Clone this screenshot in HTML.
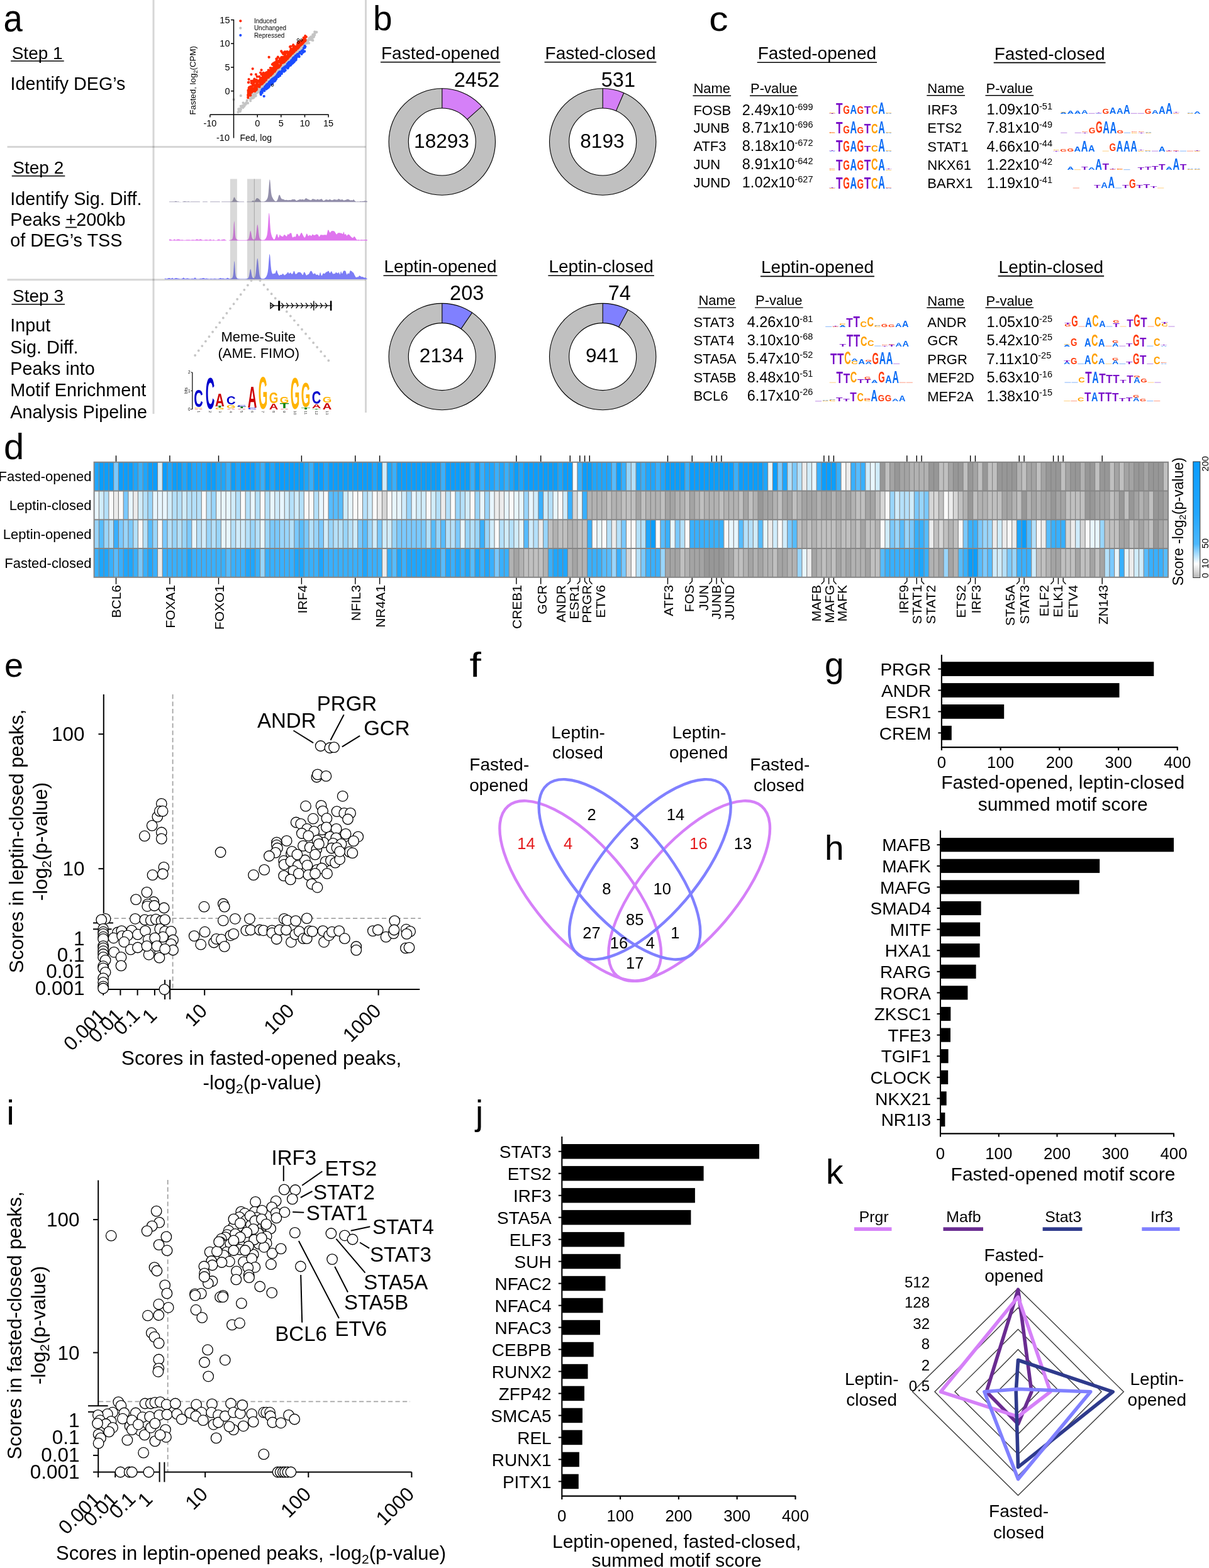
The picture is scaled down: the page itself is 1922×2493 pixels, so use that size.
<!DOCTYPE html>
<html><head><meta charset="utf-8"><title>Figure</title>
<style>
html,body{margin:0;padding:0;background:#fff;}
svg{display:block;}
text{font-family:"Liberation Sans",Arial,Helvetica,sans-serif;}
</style></head><body>
<svg width="1922" height="2493" viewBox="0 0 1922 2493">
<rect width="1922" height="2493" fill="#fff"/>
<text transform="translate(5.5 50) scale(0.88 1)" font-size="62">a</text>
<line x1="244" y1="0" x2="244" y2="658" stroke="#000" stroke-width="3" stroke-opacity="0.16"/>
<line x1="581.5" y1="0" x2="581.5" y2="656" stroke="#000" stroke-width="3" stroke-opacity="0.16"/>
<line x1="11.5" y1="233.5" x2="581.5" y2="233.5" stroke="#000" stroke-width="3" stroke-opacity="0.16"/>
<line x1="11.5" y1="444.8" x2="581.5" y2="444.8" stroke="#000" stroke-width="3" stroke-opacity="0.16"/>
<text x="18.7" y="93.5" font-size="28">Step 1</text>
<line x1="17.2" y1="96.9" x2="101.7" y2="96.9" stroke="#000" stroke-width="1.5"/>
<text x="16.6" y="142.5" font-size="28.7">Identify DEG’s</text>
<text x="20.3" y="276.3" font-size="28">Step 2</text>
<line x1="18.8" y1="279.7" x2="103.3" y2="279.7" stroke="#000" stroke-width="1.5"/>
<text x="16.3" y="325.5" font-size="28.8">Identify Sig. Diff.</text>
<text x="16.3" y="359" font-size="28.8">Peaks +200kb</text>
<line x1="104" y1="361.5" x2="122" y2="361.5" stroke="#000" stroke-width="1.7"/>
<text x="16.3" y="392.3" font-size="28.8">of DEG’s TSS</text>
<text x="20" y="480.3" font-size="28">Step 3</text>
<line x1="18.5" y1="483.7" x2="103" y2="483.7" stroke="#000" stroke-width="1.5"/>
<text x="16.3" y="527.3" font-size="28.8">Input</text>
<text x="16.3" y="561.6" font-size="28.8">Sig. Diff.</text>
<text x="16.3" y="595.9" font-size="28.8">Peaks into</text>
<text x="16.3" y="630.2" font-size="28.8">Motif Enrichment</text>
<text x="16.3" y="664.5" font-size="28.8">Analysis Pipeline</text>
<path d="M385.4 168.2h0M379.3 173.4h0M390.5 165.9h0M389.8 165.3h0M378.5 178.3h0M379.8 175.7h0M387.8 167.4h0M383 174.1h0M392.7 159.8h0M387.1 169.8h0M401.1 149.7h0M384.6 169.8h0M381 173.1h0M397.2 157h0M381.9 177.2h0M386.5 171.1h0M390.8 164.2h0M382.5 172.9h0M394 163.9h0M391.7 163.1h0M388.5 168.8h0M470.5 80.7h0M423.3 135.4h0M488.8 68.3h0M473.7 83.7h0M410.2 138.4h0M441.4 114.3h0M448.7 108.5h0M402 156h0M457.5 102.2h0M488.9 68.4h0M459.7 92.3h0M458.2 102.4h0M496.1 58.2h0M447.2 109h0M470.8 85.7h0M465.2 85.7h0M427.5 128.5h0M438 118h0M445.9 110.3h0M415.4 139.7h0M477.7 77.3h0M411.3 144.4h0M488.5 64.6h0M406.3 152.7h0M489.7 64.9h0M483 71.2h0M441.1 116.3h0M435.2 115.6h0M413.6 146.6h0M416.2 139.3h0M448.3 105.5h0M459.1 96.6h0M441.4 114.1h0M436.3 125.4h0M469.7 88.7h0M451.5 107.2h0M403.5 154.9h0M491.4 63.3h0M480.8 80.2h0M438.7 118.1h0M463.8 91.2h0M404.4 149.8h0M414.8 140.3h0M433.2 122.5h0M413.6 142.1h0M408.4 147.7h0M488.8 66.5h0M461.7 92.8h0M434 120.1h0M435.7 116.3h0M501.1 51h0M446.3 110.5h0M408.5 147.1h0M433.5 122.7h0M414.7 136.2h0M400.3 152.4h0M413.1 143.6h0M454.3 98.2h0M499.6 55.5h0M487.6 68.7h0M436 121.7h0M415.3 140.1h0M478.9 80.1h0M432.2 122.8h0M500.3 50.7h0M486.5 67.5h0M474.8 85.5h0M421.5 136.8h0M400.9 155.2h0M400.8 155.4h0M469.9 83.8h0M497.3 64.2h0M500.6 53.1h0M497.1 59.8h0M421.5 132.9h0M418.3 136.4h0M491.5 60.7h0M485.2 74.3h0M481 74.2h0M406.7 152.2h0M479.2 81.4h0M475.9 81.5h0M479.9 75.6h0M432.5 121.1h0M439 123.4h0M439.6 112.1h0M415.6 141.6h0M411.1 141.3h0M481.7 69.3h0M413.1 139.3h0M466.2 96.1h0M434.3 122.8h0M399.4 156.8h0M498.8 58.8h0M494.9 63.4h0M443 109.3h0M419.8 139.5h0M424.1 132.2h0M458.8 95h0M424.9 132.1h0M492.5 62.5h0M434.7 124.5h0M491.9 62.9h0M441.6 111.4h0M453.2 104.1h0M452.3 100.6h0M416.9 138.5h0M398.3 157h0M447.1 110.2h0M473.3 84.6h0M451.8 104.8h0M455.6 99.8h0M456.1 100.8h0M423.7 132.8h0M450.7 100.6h0M456.3 99.1h0M444 117.6h0M461.6 97.3h0M469.9 85.9h0M444.9 113.8h0M495.7 60.6h0M470.6 80.6h0M424.9 135.3h0M456 94.9h0M412.2 145.4h0M410.5 146.2h0M422.9 132.5h0M405.5 152.5h0M491.1 68.6h0M414 142.6h0M412.8 146.8h0M489.6 64.2h0M496.9 59.2h0M439.3 124.4h0M484.4 70.6h0M414.7 144h0M433.1 121.3h0M418.2 139.3h0M399.9 152h0M455.5 100.7h0M432.4 123.2h0M462.7 93.9h0M500.3 55.5h0M479.8 74.6h0M425.5 130.5h0M402 153.4h0M411.4 146.5h0M441.8 109.8h0M424.8 133.6h0M413.4 139.4h0M470.7 86.7h0M407.2 144.8h0M442.1 112.2h0M405.4 146.9h0M481.2 75.9h0M406.6 148.6h0M487.6 68.9h0M445.1 112.5h0M494.2 58.6h0M425.7 127.8h0M422.7 130.7h0M409.3 146.1h0M418.9 136.2h0M430.3 126.9h0M428 123.5h0M449.9 104.8h0M399.8 153.8h0M423.9 127.6h0M455.2 100.1h0M417.6 144.3h0M408.9 145.9h0M483 75.5h0M484.6 69.8h0M438.8 121h0M500 55.8h0M433.5 120.2h0M464 95.3h0M440 116.3h0M411.4 143.7h0M405.3 150.7h0M414.9 142.9h0M406.7 146.2h0M467.6 92.6h0M427.2 128.5h0M445.6 107.9h0M414.3 143.4h0M497.8 57.1h0M499 58.6h0M498.3 58h0M430.1 125.8h0M437.6 118.1h0M447.2 110.3h0M450.4 105.4h0M398.4 157.5h0M439.4 115.2h0M402.2 151.3h0M422.1 133.4h0M458.8 101.3h0M466.2 90.3h0M472.3 81.5h0M431.8 125.8h0M500.2 52.9h0M464.7 87.5h0M402.5 150.5h0M463.1 97.4h0M474.2 81h0M452.3 104.7h0M450.3 103h0M483.8 76h0M458.6 94h0M470 88.2h0M421.8 132.6h0M435.4 120.1h0M408.8 145.2h0M463.1 95.5h0M463 94h0M398.2 160.3h0M480.8 74.9h0M453.5 105.3h0M466.4 85.3h0M424.1 129.9h0M405.6 150.6h0M419.2 132.3h0M474.8 77.9h0M437.7 118.6h0M447.7 109.9h0M462 97.8h0M464.7 89.7h0M424.3 130.8h0M475.1 81.7h0M399.2 153.4h0M404.2 152h0M469.8 82h0M468.1 88.4h0M446.2 106.5h0M446.4 105.3h0M418.6 133.4h0M499.5 55.7h0M445.6 110.3h0M503.3 51.2h0M497.3 55h0M382.8 152.2h0M371.6 158.3h0M386.6 163.5h0M382.8 168.8h0" stroke="#c4c4c4" stroke-width="4.2" stroke-linecap="round" fill="none"/>
<path d="M462.6 103h0M440.9 119.5h0M426.8 138.7h0M426.8 135.9h0M422.8 139.6h0M470.4 88.9h0M462.6 99.5h0M466.6 97.1h0M428.1 137.1h0M443 115.5h0M414.7 147.4h0M440.9 119.7h0M422.7 138.3h0M433 131.7h0M414.6 149.5h0M463.8 95.5h0M468.9 94.8h0M467.4 93.1h0M436.3 125h0M473.1 89.6h0M435.7 126h0M430.6 128.1h0M420.4 144.3h0M431.2 134.2h0M429.1 131.3h0M444.5 115.3h0M436.4 129.2h0M466.4 98.1h0M451.5 113.7h0M469.7 92.8h0M456.7 102h0M457.5 104.3h0M458.7 104.5h0M431.3 127.5h0M468.9 90.4h0M442.2 118.8h0M432 132h0M471.8 88.5h0M453 107.6h0M447.2 114.1h0M424.3 135.3h0M426.7 138.6h0M443.7 116.4h0M467.7 98.2h0M440.9 118.5h0M425.8 133.3h0M434.6 124.5h0M428.5 131.8h0M447.9 117.1h0M458.5 103h0M438.8 123.6h0M436.6 124.3h0M418.1 142.4h0M471.3 88h0M444 119.1h0M465.2 94.8h0M430.4 129.9h0M438 123.8h0M470.5 94.2h0M465.7 92.8h0M416.4 147.4h0M467.1 94.8h0M449 109.4h0M437.5 127.9h0M463 101.8h0M471.6 88.6h0M420.9 138.7h0M445.2 118.4h0M469.8 94h0M452.5 111.6h0M441.3 121.2h0M416.8 147.5h0M428.1 137.2h0M452.4 108.3h0M422 138.3h0M451.8 111.8h0M421.1 137.9h0M445.3 117.5h0M437.3 122.8h0M449.8 108.7h0M432.2 129.7h0M470.8 92.4h0M466.4 95.6h0M428.3 132h0M470.9 92.8h0M432.5 126h0M443.7 119.7h0M439.1 121.2h0M453.7 111.7h0M427.8 130.9h0M434.3 127.2h0M454.6 105.3h0M461.3 102.6h0M444.1 115.8h0M471.4 89.3h0M462.6 97.5h0M427.5 136.7h0M431.8 133.8h0M443.6 116.2h0M427.6 134h0M453.5 112h0M423.1 138.3h0M427 138.8h0M422.8 136h0M418 143.4h0M467.2 97.8h0M457.5 108.4h0M469.2 91.6h0M425.4 140.1h0M458.3 100.3h0M453.5 107.7h0M436.4 124.5h0M424.4 134h0M430.9 130.1h0M470.6 88.7h0M471.1 88.8h0M435.4 129.2h0M462.8 98.9h0M417.4 144.6h0M436.4 129h0M425.8 135.3h0M467.2 91.4h0M438.6 125.9h0M459.5 99.2h0M416.5 142.4h0M468.5 91.8h0M458.4 106.8h0M434.4 126.1h0M470.7 92.3h0M429.9 133.9h0M433.1 127.4h0M414.7 149.4h0M468.3 94.8h0M469.9 88.7h0M428.2 133.8h0M470.7 94.9h0M437.2 123.1h0M439.7 122.4h0M469 90.7h0M461.6 102.3h0M462.8 101.4h0M450.1 110.7h0M433.2 127.9h0M460.4 98.5h0M426.1 138h0M429 129.9h0M416.5 146.1h0M433.6 132.2h0M466.4 99.4h0M430 129h0M420.1 142h0M456.2 105.6h0M428.2 133.3h0M450.9 112.5h0M458.4 106.3h0M453.5 105.8h0M463.9 96.7h0M447.8 113.4h0M457.8 102h0M429 131.2h0M423.5 141.6h0M448.4 112.4h0M437.7 128.1h0M444.3 115.9h0M462 101.3h0M472.7 86.4h0M442.4 122.2h0M463.8 101.4h0M416.8 143.8h0M421.5 138.4h0M471.6 91.1h0M469.1 92h0M465.3 96.4h0M429.7 134.5h0M470 89.1h0M449.5 113.6h0M427.3 133.9h0M422.8 137.2h0M429.4 133.5h0M452.7 107.2h0M415.1 145.7h0M454.3 105.4h0M432.8 127.1h0M461.2 101.3h0M418.2 141h0M437.7 124.8h0M452 107h0M424.1 139.6h0M438.5 122h0M432.5 133h0M432.8 129.8h0M435.4 126.1h0M465.2 100.6h0M435.8 124h0M457.2 102.7h0M414.8 150.4h0M439.4 125.2h0M438.3 126.7h0M441.5 118.1h0M415.3 147.2h0M452.1 113.1h0M419.7 143.4h0M436.3 125.9h0M423 137.5h0M445.1 120.3h0M420.9 141.2h0M461.7 103.9h0M426.1 133.3h0M469.9 95.8h0M442.8 116h0M468.9 92.4h0M467.6 95.4h0M462.9 96.7h0M460.6 99.4h0M438.2 126.5h0M463.2 96.6h0M427.3 134.1h0M444.9 116.4h0M421.7 138.6h0M457 108.1h0M416.9 145.8h0M459 99.7h0M463.7 95.5h0M449.7 112.8h0M451.3 109.4h0M439.1 123.6h0M439.5 123.9h0M440.7 121h0M415.8 147.2h0M443.2 116.9h0M459.3 104.9h0M441.4 118.3h0M442.3 116.9h0M422 139.6h0M419.9 141.9h0M444.4 114.2h0M451.9 107.1h0M457.6 106.7h0M444.5 114.3h0M444.1 117.2h0M485.4 74h0M484.2 81.7h0M482.6 81.9h0M475.7 90.1h0M479.5 86h0M484.9 74.6h0M483.3 82h0M474 86.9h0M482.9 76.6h0M484.7 75.7h0M483.6 75.8h0M479.6 85.6h0M475.9 84.4h0M479.7 81.1h0M473.7 86h0M475.3 90.1h0M481.9 83.2h0M475.4 88.9h0M474.7 87.7h0M481.4 79.7h0M419.7 153h0M484.5 73.1h0M477 82.9h0" stroke="#1a4cff" stroke-width="4.2" stroke-linecap="round" fill="none"/>
<path d="M474.3 70.3h0M475.2 73.1h0M403.7 131.6h0M430.4 119.6h0M467.4 81.5h0M447.2 81.3h0M427.2 122.3h0M410.4 128.6h0M462.5 77.7h0M417.4 127.5h0M452.9 88.7h0M455.1 94.5h0M422.9 125.1h0M407.9 142.6h0M450.7 92.2h0M476.4 71.8h0M406.3 142h0M396.2 138.8h0M394.4 153h0M427 120.1h0M414.7 123.9h0M412.9 130.6h0M451.5 95.4h0M480.2 69.9h0M416.5 131.3h0M452.8 95.3h0M474.2 75.3h0M418.4 122.2h0M395.2 146.8h0M426.3 114.8h0M453.4 82.3h0M461.5 84.1h0M417 131h0M443 106.2h0M431.4 118.8h0M465.7 82.8h0M395.3 130.9h0M407.2 135.2h0M412.5 128.3h0M453.1 92.4h0M468.9 79.5h0M421.7 121.4h0M398.6 137.5h0M459.9 83.8h0M394.7 145.8h0M436.9 102.4h0M462.3 84.2h0M403.8 144.4h0M415.5 126.1h0M463 86.2h0M458 86.9h0M418.6 119h0M445 93.4h0M442.2 103h0M418.5 115.9h0M414.1 115.6h0M475 71.9h0M415.8 133.9h0M462.5 78.9h0M424.2 121h0M475 73.8h0M477.5 70h0M452.1 94.9h0M484.1 61.1h0M437.3 106.5h0M472.9 71.2h0M434.3 114.4h0M422.4 115.8h0M413.6 133.9h0M477.8 71.4h0M407.4 138h0M479.5 70.6h0M425.8 123.3h0M398 150.5h0M457.8 86.3h0M461.8 81.9h0M400.2 141.7h0M469.2 78.5h0M469.4 79.5h0M473.9 75.5h0M478.1 70.3h0M413 135.8h0M404.4 125.7h0M468.7 79.5h0M452.4 93.7h0M420.5 117.7h0M403.3 132.4h0M413 127.4h0M423.5 125.3h0M417.7 131.8h0M420.1 128.4h0M423.6 118h0M482.7 60.1h0M450.9 99.2h0M397 143.7h0M465.2 82.2h0M426 121.3h0M414 124.1h0M473.4 69.6h0M409.8 130h0M394.3 150.8h0M484 60.3h0M394.5 143.5h0M467.3 82.7h0M411.1 129.6h0M470.6 79.7h0M418.1 124.8h0M413.9 133.7h0M458.4 89.1h0M452.6 97.8h0M401.6 145h0M466.4 75.9h0M451.8 94.4h0M430.4 113.1h0M475.9 66.3h0M396.5 142.4h0M413.1 135.6h0M440.2 93.4h0M429 116.6h0M436.5 110h0M443 107.1h0M453.5 85.8h0M426.2 121.9h0M471.6 76.3h0M455 95.3h0M434.5 110.9h0M465.2 82.7h0M436.6 111.9h0M475.5 74.7h0M421.8 122.4h0M458.7 89.7h0M408.5 136.8h0M416.9 128h0M408.9 130h0M424.3 116.7h0M461.1 74.4h0M403.5 142.2h0M429.4 120.1h0M484.5 64.2h0M434.1 103.2h0M412.2 135.1h0M413.1 133.6h0M429.8 111.9h0M466.8 82.5h0M457.8 83.8h0M436.7 113.7h0M407.2 134.6h0M462.2 84.6h0M477.6 67.7h0M463 84.3h0M432.8 115.8h0M475 68.1h0M465.2 81.8h0M456.6 82.1h0M453.1 91.8h0M451.9 96.9h0M403.1 130.9h0M459.7 85.7h0M452 98.5h0M436 105.8h0M451.2 90.6h0M479.6 67.4h0M411 129.1h0M429.8 108h0M439.1 109.1h0M444.1 106.1h0M408.9 136.5h0M441.8 90.6h0M403.4 135.1h0M460 87h0M441.2 99.9h0M442.1 97.3h0M431.8 113h0M457 92h0M430.2 119.9h0M484.6 63.9h0M426.8 116.8h0M430.9 117.2h0M395.4 145.3h0M458.3 89h0M426.5 123.4h0M462.3 84.1h0M480.5 67.1h0M467.8 82h0M430.1 119.2h0M465.5 82.1h0M468.5 78h0M445.8 98.5h0M414.9 126.3h0M452.8 96.2h0M469.4 78.7h0M421.2 119.4h0M444.5 95.9h0M426.7 111.5h0M472.3 77.6h0M417.4 123.4h0M433.3 116.9h0M460.4 89.6h0M420 130.3h0M438.2 105.4h0M433.5 108.9h0M427.4 112.9h0M479.5 70.1h0M470.2 78.9h0M477.4 72.5h0M470.5 77.2h0M452.3 97.1h0M481.6 68.8h0M454.4 96h0M407.3 138.3h0M415.6 133.3h0M408.2 132.5h0M477.2 72.5h0M476 71.8h0M450 98.4h0M476.3 67.6h0M466.5 82h0M457.8 89.2h0M442.9 107.1h0M475.2 70.3h0M445.1 104.8h0M406.9 135.7h0M439.4 102.7h0M407.4 138.8h0M439.3 101.3h0M473.4 76.9h0M394.7 149.2h0M445.8 97.7h0M455.3 91.8h0M432.6 110.8h0M482.4 63h0M452.6 93.5h0M396.8 141.2h0M479.7 66.7h0M424.5 114.9h0M438.7 110.7h0M476.6 66.9h0M451.6 96.6h0M425.2 119.5h0M437.7 106.8h0M442.4 107.4h0M434.1 110.6h0M432.9 102.4h0M421 123.4h0M470.2 75.3h0M419.1 124.8h0M440.7 98.5h0M466.9 82.3h0M424.5 122.7h0M448 96.9h0M452.5 97.6h0M460.5 88.2h0M475.5 73.5h0M421.7 127.9h0M394.7 146.9h0M450.1 85.8h0M454.6 92.4h0M450.3 85.4h0M450.8 92.2h0M448.9 93.7h0M456.7 91.6h0M436.2 102.4h0M464.2 83.4h0M397.5 148.9h0M465.3 78.2h0M428 115.7h0M469.7 79.2h0M417.8 120.2h0M421.9 121.2h0M433.7 113.3h0M453.1 95.3h0M446.3 103.2h0M397.8 138.3h0M447 94.5h0M478.5 71.2h0M429.7 120.3h0M448.5 83.5h0M437.8 104h0M432 108.5h0M413.6 127.9h0M408.1 141.4h0M457 93.4h0M405.3 140.7h0M474 76h0M406 127.4h0M416.4 132.3h0M461.5 88.2h0M465.2 83.5h0M459.7 84.7h0M401.9 134.9h0M451.9 96.7h0M479.8 66.1h0M417.5 117.5h0M395.2 151.5h0M395.5 143.4h0M401.5 132.9h0M422.7 127h0M473.2 74.3h0M438.8 104.5h0M447 101h0M434.4 113.9h0M467.4 80.4h0M427.5 115.1h0M432.5 108.4h0M429.6 116.1h0M466.2 71.4h0M446.2 103.6h0M483.6 65.5h0M458.7 89.1h0M449.8 95.1h0M483.9 64h0M422.5 116.7h0M433.5 110.7h0M457.1 89.4h0M449.4 90.9h0M420.2 119.6h0M394.3 155.3h0M448 95h0M469.1 80.2h0M470.7 78.8h0M468.7 77.2h0M419.3 121.7h0M472.3 75.5h0M478.1 66.2h0M426 114.4h0M467.4 79.6h0M412.6 137.9h0M415.6 111.3h0M449.9 97.1h0M413.1 126.9h0M417.5 132.8h0M436.4 99.5h0M402.2 141.9h0M415.5 118.5h0M447.4 91.1h0M442.1 98.7h0M437.9 108.1h0M411.8 135.1h0M410.7 136.7h0M446 97.8h0M431.1 114.4h0M398.2 151.6h0M485.7 63.5h0M452.3 95.9h0M466.5 79.9h0M425.8 114.3h0M441.9 106.6h0M485.1 65.2h0M473.7 70.6h0M418.2 131.2h0M465.7 72.8h0M464.6 79.7h0M469.4 77.2h0M397.6 151h0M412.6 136.1h0M398.8 147.6h0M445.3 99.5h0M481.2 66h0M477.7 67.3h0M430.6 115.2h0M405.2 137.3h0M446 103h0M453 87.9h0M430.3 116.7h0M435.3 103.5h0M485.2 57.1h0M414.5 128.3h0M426.5 122.3h0M477.1 66.4h0M398.5 140.5h0M466.4 82.1h0M484.7 60.6h0M399.3 140.2h0M480.4 64.5h0M456.3 91.5h0M463.8 79.4h0M403.8 143h0M405.5 137.5h0M438.4 109.2h0M407.3 136.3h0M456.4 84h0M412.1 137.1h0M397.4 146.2h0M479.9 69.2h0M473.8 74.7h0M435.2 112.3h0M403 128.8h0M451.9 92.9h0M435.7 106.5h0M438 99.7h0M451.8 95.6h0M399.4 145.2h0M459.7 87.5h0M474.1 75.4h0M418.6 127h0M419 128.4h0M471.3 77.6h0M439.2 107.1h0M423.4 123.3h0M484 65.3h0M399.4 138.5h0M413.5 127.5h0M438 111.1h0M412.7 130h0M427.6 90.9h0M479.1 70.4h0M403.1 141.8h0M399.4 128.8h0M460.9 85.1h0M395.6 126.1h0M468.3 80.6h0M394.3 151.2h0M470.6 76.6h0M434.1 115.4h0M477.9 71.4h0M406.8 129.9h0M410.7 137.7h0M412.2 121.9h0M401.4 136.5h0M439.7 105.1h0M419.3 127.5h0M459.2 83.2h0M468.7 78.7h0M400.2 146.7h0M461.5 81.1h0M399.2 141.9h0M468.6 76.7h0M473.6 69h0M439.4 93.7h0M437.9 110.8h0M474.2 75.9h0M470.5 76.7h0M427.9 118.1h0M448.8 95.8h0M394.6 144.3h0M441.5 107.9h0M405.2 140.9h0M473.6 68.2h0M423.6 124.6h0M463.2 81.8h0M399.8 132.1h0M439.6 96.8h0M441.3 99.7h0M396 151.9h0M483 67h0M403.6 140.2h0M417.1 132.3h0M403 145.1h0M458.4 91.7h0M449.2 100h0M447.1 92.2h0M403.6 144.5h0M474 76.1h0M405.4 141.9h0M439.5 104.5h0M405.4 145.1h0M431.4 111.5h0M473.2 72.3h0M407.7 126.8h0M409.2 133.4h0M470 75.7h0M432.8 114.5h0M471.3 74.2h0M480.6 69.1h0M465.5 82.8h0M424.9 119.7h0M434.2 101.2h0M478 71.5h0M469 80.4h0M441.7 106.7h0M482.1 65.5h0M432.9 115h0M452.3 92.7h0M400.5 140h0M433.9 114.8h0M406.9 143.5h0M483.2 65.7h0M452.3 82.5h0M468.5 73.8h0M397.3 138.3h0M453.1 96.4h0M419.3 116.5h0M444 97.2h0M417.2 126.9h0M441.9 91.2h0M420.6 120.3h0M422.2 125.4h0M448.7 98.9h0M482 65.3h0M437 112.9h0M443.2 105h0M406.2 139.8h0M421.1 122.7h0M416.5 129.4h0M402.2 128.5h0M450.2 96.5h0M446.5 101.1h0M459.4 87.7h0M436.5 103.2h0M437.2 109.9h0M422.7 127.5h0M441.2 103.7h0M429.3 120h0M426.5 123.2h0M473.3 76.7h0M439.3 101h0M420.3 122.1h0M465.1 85h0M408.7 121.9h0M434.6 109h0M399.8 141.8h0M461.7 84.6h0M404.2 142.1h0M462 73.8h0M408.3 136.9h0M456.2 89.2h0M450.8 92.2h0M441.7 97.1h0M462 88h0M437.8 99h0M401.7 109.3h0M399.4 118.3h0M406.9 118.3h0M394.9 131.1h0M395.6 140.2h0M486.8 58.7h0" stroke="#ff2a00" stroke-width="4.2" stroke-linecap="round" fill="none"/>
<circle cx="474" cy="63.2" r="1.8" fill="none" stroke="#000" stroke-width="0.9"/>
<circle cx="479.2" cy="63.6" r="1.8" fill="none" stroke="#000" stroke-width="0.9"/>
<circle cx="474.3" cy="67.2" r="1.8" fill="none" stroke="#000" stroke-width="0.9"/>
<circle cx="433" cy="135.5" r="1.8" fill="none" stroke="#000" stroke-width="0.9"/>
<line x1="371.5" y1="31" x2="371.5" y2="219.5" stroke="#000" stroke-width="1.5"/>
<line x1="334" y1="182.2" x2="522.5" y2="182.2" stroke="#000" stroke-width="1.5"/>
<line x1="367" y1="31.6" x2="371.5" y2="31.6" stroke="#000" stroke-width="1.5"/>
<text x="365.5" y="36.6" font-size="14.5" text-anchor="end">15</text>
<line x1="367" y1="69.3" x2="371.5" y2="69.3" stroke="#000" stroke-width="1.5"/>
<text x="365.5" y="74.3" font-size="14.5" text-anchor="end">10</text>
<line x1="367" y1="107" x2="371.5" y2="107" stroke="#000" stroke-width="1.5"/>
<text x="365.5" y="112" font-size="14.5" text-anchor="end">5</text>
<line x1="367" y1="144.7" x2="371.5" y2="144.7" stroke="#000" stroke-width="1.5"/>
<text x="365.5" y="149.7" font-size="14.5" text-anchor="end">0</text>
<line x1="333.9" y1="182.2" x2="333.9" y2="186.5" stroke="#000" stroke-width="1.5"/>
<text x="333.9" y="201.3" font-size="14.5" text-anchor="middle">-10</text>
<line x1="409.2" y1="182.2" x2="409.2" y2="186.5" stroke="#000" stroke-width="1.5"/>
<text x="409.2" y="201.3" font-size="14.5" text-anchor="middle">0</text>
<line x1="446.8" y1="182.2" x2="446.8" y2="186.5" stroke="#000" stroke-width="1.5"/>
<text x="446.8" y="201.3" font-size="14.5" text-anchor="middle">5</text>
<line x1="484.5" y1="182.2" x2="484.5" y2="186.5" stroke="#000" stroke-width="1.5"/>
<text x="484.5" y="201.3" font-size="14.5" text-anchor="middle">10</text>
<line x1="522.1" y1="182.2" x2="522.1" y2="186.5" stroke="#000" stroke-width="1.5"/>
<text x="522.1" y="201.3" font-size="14.5" text-anchor="middle">15</text>
<text x="365" y="223.5" font-size="14.5" text-anchor="end">-10</text>
<text x="381.4" y="223.8" font-size="14">Fed, log</text>
<text transform="translate(311.3 182.5) rotate(-90)" font-size="13.3">Fasted, log<tspan font-size="9.5" dy="3">2</tspan><tspan dy="-3">(CPM)</tspan></text>
<circle cx="382.3" cy="33.3" r="2.1" fill="#ff2a00" stroke="none" stroke-width="0"/>
<text x="403.9" y="36.9" font-size="10">Induced</text>
<circle cx="382.3" cy="44.7" r="2.1" fill="#c4c4c4" stroke="none" stroke-width="0"/>
<text x="403.9" y="48.3" font-size="10">Unchanged</text>
<circle cx="382.3" cy="56.1" r="2.1" fill="#1a4cff" stroke="none" stroke-width="0"/>
<text x="403.9" y="59.7" font-size="10">Repressed</text>
<path d="M269 321.2L269 320.6L269.6 320.6L270.2 320.6L270.8 320.6L271.4 320.6L272 320.6L272.6 320.6L273.2 320.6L273.8 320.6L274.4 320.6L275 320.6L275.6 320.6L276.2 320.6L276.8 320.5L277.4 320.4L278 320.2L278.6 320L279.2 319.8L279.8 319.8L280.4 320L281 320.2L281.6 320.4L282.2 320.5L282.8 320.6L283.4 320.6L284 320.6L284.6 320.6L285.2 321.1L285.8 321L286.4 320.9L287 320.9L287.6 321L288.2 321.1L288.8 321.2L289.4 321.2L290 321.1L290.6 320.5L291.2 320.4L291.8 320.3L292.4 320.2L293 320.1L293.6 320.1L294.2 320.1L294.8 320.2L295.4 320.3L296 320.4L296.6 320.4L297.2 320.5L297.8 320.4L298.4 320.4L299 320.2L299.6 320L300.2 320.5L300.8 320.5L301.4 320.6L302 320.7L302.6 320.9L303.2 320.4L303.8 320.5L304.4 320.6L305 320.6L305.6 320.6L306.2 320.6L306.8 320.6L307.4 320.6L308 320.6L308.6 320.6L309.2 320.6L309.8 320.6L310.4 320.6L311 320.6L311.6 320.6L312.2 320.6L312.8 320.6L313.4 320.6L314 320.6L314.6 320.6L315.2 320.6L315.8 320.6L316.4 320.6L317 320.6L317.6 320.6L318.2 321.2L318.8 321.2L319.4 321.2L320 321.2L320.6 321.2L321.2 321.2L321.8 321.2L322.4 320.6L323 320.6L323.6 320.6L324.2 320.6L324.8 320.6L325.4 320.6L326 320.6L326.6 320.6L327.2 320.6L327.8 320.6L328.4 320.6L329 320.6L329.6 320.6L330.2 321.2L330.8 321.2L331.4 321.2L332 321.2L332.6 321.2L333.2 321.2L333.8 321.2L334.4 320.6L335 320.6L335.6 320.6L336.2 320.6L336.8 320.6L337.4 320.6L338 320.6L338.6 320.6L339.2 320.6L339.8 320.6L340.4 320.6L341 320.6L341.6 320.6L342.2 320.6L342.8 320.6L343.4 320.6L344 320.6L344.6 320.6L345.2 320.6L345.8 320.6L346.4 320.6L347 320.6L347.6 320.6L348.2 320.6L348.8 320.6L349.4 320.6L350 321.2L350.6 321.2L351.2 321.2L351.8 321.2L352.4 320.6L353 320.6L353.6 320.6L354.2 320.6L354.8 320.6L355.4 320.6L356 320.6L356.6 320.6L357.2 320.6L357.8 320.6L358.4 320.6L359 320.6L359.6 320.6L360.2 320.6L360.8 320.6L361.4 320.6L362 320.6L362.6 320.6L363.2 320.6L363.8 320.6L364.4 320.6L365 320.6L365.6 320.6L366.2 320.6L366.8 320.5L367.4 320.5L368 320.3L368.6 320.1L369.2 319.7L369.8 318.9L370.4 317.7L371 316.1L371.6 314.5L372.2 313.5L372.8 313.5L373.4 314.4L374 315.7L374.6 317L375.2 318L375.8 318.7L376.4 319.1L377 319.4L377.6 319.7L378.2 319.9L378.8 320.1L379.4 320.3L380 320.4L380.6 320.5L381.2 320.5L381.8 320.6L382.4 320.6L383 320.6L383.6 320.6L384.2 320.6L384.8 320.6L385.4 320.6L386 320.6L386.6 320.6L387.2 320.6L387.8 320.6L388.4 321.2L389 321.2L389.6 321.2L390.2 321.2L390.8 321.2L391.4 321.2L392 321.2L392.6 320.6L393.2 320.6L393.8 320.6L394.4 320.6L395 320.6L395.6 320.6L396.2 320.6L396.8 320.6L397.4 320.6L398 320.6L398.6 320.6L399.2 320.5L399.8 320.4L400.4 320L401 319.4L401.6 318.9L402.2 318.8L402.8 319.1L403.4 319.5L404 319.7L404.6 319.5L405.2 318.9L405.8 318.2L406.4 317.2L407 316.3L407.6 315.6L408.2 315.1L408.8 315L409.4 315.1L410 315.4L410.6 315.7L411.2 316L411.8 316.5L412.4 317.2L413 318.1L413.6 319L414.2 319.7L414.8 320.2L415.4 320.4L416 320.5L416.6 320.6L417.2 320.6L417.8 320.6L418.4 320.5L419 320.5L419.6 320.4L420.2 320.3L420.8 320.1L421.4 319.8L422 319.4L422.6 319L423.2 318.4L423.8 317.6L424.4 316.7L425 315.5L425.6 313.9L426.2 311.1L426.8 306.1L427.4 298.7L428 290.5L428.6 285.3L429.2 286L429.8 292L430.4 299.6L431 305.9L431.6 309.7L432.2 311.9L432.8 313.4L433.4 314.6L434 315.7L434.6 316.7L435.2 317.6L435.8 318.3L436.4 318.9L437 319.4L437.6 319.7L438.2 319.9L438.8 319.9L439.4 319.8L440 319.4L440.6 318.6L441.2 317.4L441.8 315.7L442.4 313.6L443 311.6L443.6 310.2L444.2 309.7L444.8 310.1L445.4 311.4L446 312.9L446.6 314.4L447.2 315.5L447.8 316.2L448.4 316.5L449 316.6L449.6 316.7L450.2 316.8L450.8 317L451.4 317.3L452 317.6L452.6 318L453.2 318.1L453.8 318.1L454.4 317.9L455 317.8L455.6 317.7L456.2 317.9L456.8 318.1L457.4 318.3L458 318.2L458.6 318.2L459.2 318.1L459.8 318L460.4 318.1L461 318.1L461.6 318.2L462.2 318.1L462.8 318L463.4 317.7L464 317.3L464.6 317L465.2 316.9L465.8 316.9L466.4 317.1L467 317.1L467.6 317L468.2 316.9L468.8 317L469.4 317.6L470 318.2L470.6 318.8L471.2 319.1L471.8 319.1L472.4 318.8L473 318.4L473.6 318L474.2 317.9L474.8 317.8L475.4 317.5L476 317.2L476.6 316.9L477.2 316.7L477.8 316.9L478.4 317.2L479 317.4L479.6 317.3L480.2 317.1L480.8 316.9L481.4 317L482 317.3L482.6 317.6L483.2 317.7L483.8 317.5L484.4 316.9L485 316.2L485.6 315.6L486.2 315.3L486.8 315.3L487.4 315.5L488 315.8L488.6 316.2L489.2 316.5L489.8 316.9L490.4 317.1L491 317.3L491.6 317.5L492.2 317.7L492.8 317.9L493.4 318.1L494 318.3L494.6 318.2L495.2 317.8L495.8 317.2L496.4 316.6L497 316.3L497.6 316.3L498.2 316.4L498.8 316.6L499.4 316.7L500 316.9L500.6 317.1L501.2 317.3L501.8 317.6L502.4 317.7L503 317.6L503.6 317.3L504.2 316.9L504.8 316.6L505.4 316.7L506 317L506.6 317.4L507.2 317.6L507.8 317.5L508.4 317.3L509 317L509.6 316.8L510.2 316.5L510.8 316.2L511.4 316.2L512 316.7L512.6 317.6L513.2 318.4L513.8 319L514.4 319.2L515 319.1L515.6 318.8L516.2 318.4L516.8 317.9L517.4 317.5L518 317.3L518.6 317.2L519.2 317.2L519.8 317.3L520.4 317.5L521 317.8L521.6 318L522.2 318L522.8 317.6L523.4 317.2L524 316.9L524.6 317L525.2 317.2L525.8 317.5L526.4 317.9L527 318.1L527.6 318.2L528.2 318.2L528.8 318.1L529.4 317.8L530 317.5L530.6 317.3L531.2 317.1L531.8 317.1L532.4 317.2L533 317.3L533.6 317.4L534.2 317.4L534.8 317.5L535.4 317.7L536 317.8L536.6 317.5L537.2 316.8L537.8 316.3L538.4 316.3L539 316.4L539.6 316.5L540.2 316.9L540.8 317.4L541.4 317.7L542 317.6L542.6 317.5L543.2 317.3L543.8 317.1L544.4 317.2L545 317.5L545.6 318L546.2 318.4L546.8 318.5L547.4 318.4L548 318.2L548.6 318L549.2 317.9L549.8 317.7L550.4 317.5L551 317.2L551.6 317L552.2 316.8L552.8 316.8L553.4 316.8L554 317L554.6 317.2L555.2 317.6L555.8 317.9L556.4 318.2L557 318.4L557.6 318.4L558.2 318.3L558.8 318.2L559.4 318.3L560 318.4L560.6 318.4L561.2 318L561.8 317.3L562.4 317.1L563 318L563.6 318.7L564.2 319.3L564.8 319.9L565.4 320.2L566 320.4L566.6 320.5L567.2 320.6L567.8 320.7L568.4 320.2L569 320.3L569.6 320.4L570.2 320.5L570.8 320.5L571.4 320.4L572 320.3L572.6 320.1L573.2 320L573.8 320.1L574.4 320.3L575 320.2L575.6 320.1L576.2 320L576.8 319.9L577.4 319.9L578 319.8L578.6 319.7L579.2 319.6L579.8 319.4L580.4 319.3L581 319.3L581.6 319.4L582.2 319.6L582.8 319.8L583.4 320.1L584 320.3L584 321.2Z" fill="#938fab"/>
<path d="M269 382.4L269 380.8L269.6 380.6L270.2 380.5L270.8 380.6L271.4 380.8L272 381.1L272.6 381.3L273.2 381.5L273.8 381.7L274.4 381.7L275 381.7L275.6 381.5L276.2 381.1L276.8 380.5L277.4 380.3L278 380.7L278.6 381.2L279.2 381.5L279.8 381.4L280.4 381.2L281 381L281.6 380.7L282.2 380.6L282.8 380.4L283.4 380.4L284 380.4L284.6 380.6L285.2 380.7L285.8 381L286.4 381.3L287 381.4L287.6 381.5L288.2 381.4L288.8 381.2L289.4 381.1L290 381.2L290.6 381.4L291.2 381.6L291.8 381.7L292.4 381.8L293 381.8L293.6 381.8L294.2 381.7L294.8 381.7L295.4 381.6L296 381.4L296.6 381.3L297.2 381.2L297.8 381.2L298.4 381.3L299 381.3L299.6 381.3L300.2 381.2L300.8 381.2L301.4 381.3L302 381.5L302.6 381.7L303.2 381.7L303.8 381.6L304.4 381.5L305 381.3L305.6 381.2L306.2 381.2L306.8 381.1L307.4 381.2L308 381.3L308.6 381.5L309.2 381.6L309.8 381.6L310.4 381.5L311 381.3L311.6 381L312.2 380.6L312.8 380.3L313.4 380.3L314 380.5L314.6 380.9L315.2 381.2L315.8 381.3L316.4 381.2L317 380.9L317.6 380.6L318.2 380.3L318.8 380.3L319.4 380.4L320 380.7L320.6 381.1L321.2 381.4L321.8 381.6L322.4 381.7L323 381.8L323.6 381.8L324.2 381.7L324.8 381.6L325.4 381.5L326 381.2L326.6 381L327.2 380.9L327.8 381L328.4 381L329 381.1L329.6 381.3L330.2 381.5L330.8 381.6L331.4 381.7L332 381.6L332.6 381.3L333.2 381L333.8 380.7L334.4 380.6L335 380.8L335.6 381.2L336.2 381.5L336.8 381.7L337.4 381.7L338 381.6L338.6 381.4L339.2 381.1L339.8 380.8L340.4 381.4L341 381.6L341.6 381.9L342.2 382L342.8 382.1L343.4 382L344 382L344.6 381.9L345.2 381.3L345.8 381.3L346.4 381.2L347 380.8L347.6 380.4L348.2 380.3L348.8 380.8L349.4 381.4L350 381.7L350.6 381.8L351.2 381.8L351.8 381.6L352.4 381.2L353 380.8L353.6 380.7L354.2 380.9L354.8 380.9L355.4 380.6L356 380.3L356.6 380.4L357.2 380.8L357.8 381.3L358.4 381.6L359 381.8L359.6 381.8L360.2 382.4L360.8 382.4L361.4 382.4L362 382.4L362.6 382.4L363.2 382.4L363.8 382.4L364.4 381.8L365 381.8L365.6 381.7L366.2 381.6L366.8 381.5L367.4 381.3L368 381L368.6 380.6L369.2 380.1L369.8 378.9L370.4 375.8L371 368.5L371.6 357.9L372.2 351L372.8 354.5L373.4 364.9L374 373.6L374.6 377.8L375.2 379.4L375.8 380.1L376.4 380.6L377 381L377.6 381.3L378.2 381.5L378.8 381.6L379.4 381.7L380 381.8L380.6 381.8L381.2 381.8L381.8 381.8L382.4 381.8L383 381.8L383.6 381.8L384.2 381.8L384.8 381.8L385.4 381.8L386 381.8L386.6 381.8L387.2 381.8L387.8 381.8L388.4 381.8L389 381.8L389.6 381.8L390.2 381.8L390.8 381.7L391.4 381.7L392 381.6L392.6 381.5L393.2 381.3L393.8 381L394.4 380.6L395 379.9L395.6 378.5L396.2 376.2L396.8 372.7L397.4 369.2L398 367L398.6 367.4L399.2 370.1L399.8 373.6L400.4 376.7L401 378.7L401.6 379.7L402.2 380.3L402.8 380.6L403.4 380.7L404 380.7L404.6 380.5L405.2 380L405.8 379L406.4 377L407 373.5L407.6 368.4L408.2 362.7L408.8 358.2L409.4 356.9L410 359.3L410.6 364.3L411.2 369.9L411.8 374.5L412.4 377.5L413 379.3L413.6 380.2L414.2 380.7L414.8 381.1L415.4 381.3L416 381.5L416.6 381.6L417.2 381.7L417.8 381.7L418.4 381.6L419 381.6L419.6 381.4L420.2 381.2L420.8 380.9L421.4 380.4L422 379.7L422.6 378.8L423.2 377.7L423.8 376.3L424.4 374.2L425 370.9L425.6 365.3L426.2 356.5L426.8 346.4L427.4 339.2L428 338.7L428.6 345.2L429.2 354.7L429.8 362.9L430.4 368.4L431 371.6L431.6 373.7L432.2 375.4L432.8 376.9L433.4 378.1L434 379.1L434.6 379.9L435.2 380.5L435.8 380.8L436.4 380.6L437 379.8L437.6 378.3L438.2 376.4L438.8 374.5L439.4 373.1L440 372.2L440.6 372.1L441.2 373.5L441.8 375.9L442.4 377.6L443 377.9L443.6 376.6L444.2 374.4L444.8 372.8L445.4 373.2L446 374.5L446.6 375.3L447.2 375.3L447.8 375.4L448.4 375.8L449 376.3L449.6 376.3L450.2 375.7L450.8 374.6L451.4 373.5L452 373L452.6 373.3L453.2 373.9L453.8 374.3L454.4 374.8L455 375.6L455.6 376L456.2 375.3L456.8 373.5L457.4 372.2L458 372.3L458.6 373L459.2 373L459.8 372.1L460.4 371.2L461 370.8L461.6 370.8L462.2 370.6L462.8 370.3L463.4 371.3L464 373.9L464.6 376.4L465.2 377.6L465.8 377.6L466.4 377.1L467 376.6L467.6 376.3L468.2 376.3L468.8 376.6L469.4 376.8L470 376.2L470.6 374.5L471.2 372.6L471.8 371.7L472.4 371.7L473 372.1L473.6 372.8L474.2 374L474.8 375.2L475.4 375.7L476 375.3L476.6 374.3L477.2 373.1L477.8 371.8L478.4 370.7L479 370L479.6 370.1L480.2 370.9L480.8 372.2L481.4 373.4L482 374.6L482.6 375.7L483.2 376.7L483.8 377.5L484.4 377.8L485 377.3L485.6 376.1L486.2 374.4L486.8 372.7L487.4 371.6L488 371.6L488.6 372.5L489.2 373.8L489.8 374.9L490.4 375.2L491 375L491.6 374.3L492.2 373.7L492.8 373.6L493.4 374L494 374.7L494.6 375.2L495.2 375L495.8 374.1L496.4 373L497 372.5L497.6 372.8L498.2 373.4L498.8 373.9L499.4 374.1L500 374.1L500.6 374L501.2 373.7L501.8 373.1L502.4 372.6L503 372.4L503.6 372.6L504.2 372.8L504.8 372.8L505.4 373.1L506 374L506.6 375.3L507.2 376.2L507.8 376.3L508.4 375.5L509 374.3L509.6 373.4L510.2 373L510.8 373.2L511.4 373.5L512 373.7L512.6 373.6L513.2 373.4L513.8 373.4L514.4 373.6L515 373.7L515.6 373.6L516.2 373.3L516.8 373L517.4 373.3L518 373.8L518.6 374.1L519.2 373.5L519.8 372L520.4 369.2L521 366.6L521.6 365.4L522.2 365.6L522.8 366.5L523.4 368L524 369.3L524.6 369.7L525.2 369.4L525.8 368.7L526.4 367.9L527 367.4L527.6 367.1L528.2 367.1L528.8 367.2L529.4 367.2L530 367.3L530.6 367.3L531.2 367.6L531.8 368.1L532.4 368.8L533 369.7L533.6 370.7L534.2 371.7L534.8 372.5L535.4 372.6L536 371.9L536.6 370.9L537.2 370.3L537.8 370.2L538.4 370.4L539 370.3L539.6 370L540.2 370.2L540.8 370.7L541.4 370.7L542 370.6L542.6 370.8L543.2 371.1L543.8 371.5L544.4 371.9L545 371.9L545.6 370.4L546.2 368.6L546.8 369L547.4 371.6L548 373.3L548.6 372.7L549.2 371.7L549.8 372L550.4 373.5L551 374.7L551.6 374.8L552.2 374.1L552.8 373.1L553.4 372.7L554 372.7L554.6 372.8L555.2 373.1L555.8 373.9L556.4 374.5L557 375.1L557.6 375.9L558.2 376.6L558.8 377.1L559.4 377.6L560 378.1L560.6 378.2L561.2 378L561.8 377.4L562.4 376.6L563 375.9L563.6 376L564.2 376.7L564.8 377.6L565.4 378.6L566 379.6L566.6 380.4L567.2 381.1L567.8 381.4L568.4 381.5L569 381.3L569.6 381.1L570.2 381.1L570.8 381.2L571.4 381.4L572 381.4L572.6 381.4L573.2 381.3L573.8 381.2L574.4 381.1L575 381.1L575.6 381.2L576.2 381.2L576.8 381.3L577.4 381.3L578 381.2L578.6 381.2L579.2 381.2L579.8 381.1L580.4 381.1L581 381.1L581.6 381.1L582.2 381.1L582.8 381.1L583.4 381.2L584 381.3L584 382.4Z" fill="#df74ee"/>
<path d="M262 444L262 442.2L262.6 442.4L263.2 442.9L263.8 443.2L264.4 443.3L265 443.2L265.6 443.1L266.2 442.9L266.8 442.6L267.4 442.3L268 442L268.6 441.9L269.2 441.9L269.8 442.1L270.4 442.4L271 442.7L271.6 442.9L272.2 442.9L272.8 442.4L273.4 441.8L274 441.7L274.6 442.2L275.2 442.8L275.8 443.2L276.4 443.2L277 443L277.6 442.8L278.2 442.4L278.8 442.2L279.4 442L280 442L280.6 442.1L281.2 442.3L281.8 442.4L282.4 442.5L283 442.5L283.6 442.7L284.2 442.9L284.8 443.1L285.4 443.3L286 443.3L286.6 443.4L287.2 443.4L287.8 443.4L288.4 443.3L289 443.2L289.6 442.9L290.2 442.5L290.8 441.9L291.4 441.4L292 441.4L292.6 441.8L293.2 442.4L293.8 442.9L294.4 443.1L295 443.2L295.6 443.1L296.2 442.8L296.8 442.6L297.4 442.4L298 442.3L298.6 442.4L299.2 442.6L299.8 442.9L300.4 443.1L301 443.3L301.6 443.3L302.2 443.4L302.8 443.4L303.4 443.3L304 443.2L304.6 443L305.2 442.8L305.8 442.7L306.4 442.9L307 443L307.6 443.1L308.2 442.9L308.8 442.3L309.4 441.6L310 441.3L310.6 441.6L311.2 442.3L311.8 442.9L312.4 443.3L313 443.4L313.6 443.4L314.2 443.4L314.8 443.4L315.4 443.4L316 443.4L316.6 443.3L317.2 443.2L317.8 443L318.4 442.8L319 442.7L319.6 442.7L320.2 442.7L320.8 442.7L321.4 442.6L322 442.3L322.6 442.1L323.2 442L323.8 442.1L324.4 442.3L325 442.5L325.6 442.8L326.2 442.9L326.8 442.9L327.4 442.8L328 442.7L328.6 442.6L329.2 442.7L329.8 442.9L330.4 443.1L331 443.2L331.6 443.3L332.2 443.4L332.8 443.4L333.4 443.4L334 443.3L334.6 443.1L335.2 442.9L335.8 442.9L336.4 443L337 443.2L337.6 443.3L338.2 443.4L338.8 443.3L339.4 443.2L340 443L340.6 442.9L341.2 442.7L341.8 442.7L342.4 442.9L343 443L343.6 443.2L344.2 443.3L344.8 443.4L345.4 443.4L346 443.4L346.6 443.3L347.2 443.3L347.8 443.1L348.4 442.8L349 442.5L349.6 442.3L350.2 442.1L350.8 442.1L351.4 442.3L352 442.6L352.6 442.7L353.2 442.7L353.8 442.6L354.4 442.5L355 442.6L355.6 442.7L356.2 442.9L356.8 443.1L357.4 443.2L358 443.3L358.6 443.2L359.2 443.1L359.8 442.8L360.4 442.4L361 442L361.6 441.8L362.2 441.8L362.8 442.1L363.4 442.5L364 442.9L364.6 443.1L365.2 443.2L365.8 443.3L366.4 443.2L367 443.1L367.6 442.8L368.2 442.5L368.8 442L369.4 441.4L370 440.3L370.6 437.8L371.2 431.8L371.8 422.4L372.4 415L373 416.6L373.6 425.4L374.2 433.9L374.8 438.4L375.4 440.3L376 441.2L376.6 441.9L377.2 442.4L377.8 442.8L378.4 443L379 443.2L379.6 443.3L380.2 443.3L380.8 443.4L381.4 443.4L382 443.4L382.6 443.4L383.2 443.4L383.8 443.4L384.4 443.4L385 443.4L385.6 443.4L386.2 443.4L386.8 443.4L387.4 443.4L388 443.4L388.6 443.4L389.2 443.4L389.8 443.4L390.4 443.4L391 443.3L391.6 443.2L392.2 443.1L392.8 443L393.4 442.8L394 442.5L394.6 442L395.2 441.1L395.8 439.3L396.4 436.3L397 432.5L397.6 428.9L398.2 427.4L398.8 428.8L399.4 432.2L400 436L400.6 438.9L401.2 440.6L401.8 441.5L402.4 441.9L403 442.1L403.6 442.1L404.2 441.9L404.8 441.3L405.4 440.1L406 437.8L406.6 433.9L407.2 428.3L407.8 421.5L408.4 415.1L409 411L409.6 410.9L410.2 414.7L410.8 421L411.4 427.6L412 433.2L412.6 437.1L413.2 439.6L413.8 441L414.4 441.9L415 442.4L415.6 442.7L416.2 443L416.8 443.1L417.4 443.2L418 443.2L418.6 443.2L419.2 443.1L419.8 442.9L420.4 442.7L421 442.3L421.6 441.8L422.2 441.2L422.8 440.4L423.4 439.4L424 438.2L424.6 436.8L425.2 434.8L425.8 431.8L426.4 426.9L427 419.7L427.6 411.4L428.2 405L428.8 403.7L429.4 408.1L430 415.7L430.6 423.2L431.2 428.5L431.8 431.8L432.4 433.7L433 434.9L433.6 435.4L434.2 435.5L434.8 435.3L435.4 434.9L436 434.7L436.6 434.8L437.2 434.9L437.8 434L438.4 432.4L439 430.5L439.6 429.5L440.2 430.1L440.8 432.1L441.4 433.9L442 435.2L442.6 436.4L443.2 437.3L443.8 437.9L444.4 438L445 437.6L445.6 437.1L446.2 436.8L446.8 437L447.4 437.1L448 436.9L448.6 436.1L449.2 435.2L449.8 435.1L450.4 435.6L451 436.6L451.6 437.3L452.2 437.5L452.8 437.4L453.4 437L454 436.5L454.6 436L455.2 435.5L455.8 435L456.4 434.5L457 433.5L457.6 432.6L458.2 432.8L458.8 434.1L459.4 435.1L460 435L460.6 434.2L461.2 433.5L461.8 433.5L462.4 434L463 434.8L463.6 435.6L464.2 435.9L464.8 435.6L465.4 434.8L466 433.5L466.6 431.9L467.2 430.8L467.8 430.9L468.4 432.2L469 434.1L469.6 435.5L470.2 436L470.8 435.8L471.4 435.3L472 435L472.6 434.4L473.2 433.5L473.8 432.7L474.4 432.8L475 433.1L475.6 433.1L476.2 432.7L476.8 432.6L477.4 432.9L478 433.5L478.6 434.1L479.2 434.7L479.8 435.5L480.4 436.6L481 437.3L481.6 437L482.2 435.5L482.8 433.7L483.4 432.4L484 432.4L484.6 433.2L485.2 434.3L485.8 435.5L486.4 436.9L487 437.7L487.6 437.7L488.2 437.2L488.8 436.7L489.4 436.4L490 436.3L490.6 436L491.2 435.3L491.8 434.3L492.4 433L493 431.9L493.6 431.1L494.2 430.7L494.8 430.7L495.4 431.2L496 432.1L496.6 433.3L497.2 434.5L497.8 435.4L498.4 435.8L499 435.5L499.6 434.9L500.2 434.4L500.8 434.5L501.4 435.2L502 436.2L502.6 436.9L503.2 437.1L503.8 436.8L504.4 436.5L505 436.6L505.6 437.1L506.2 437.8L506.8 438.3L507.4 438L508 436.2L508.6 433.7L509.2 432.7L509.8 434.5L510.4 437L511 438.3L511.6 438.3L512.2 437.4L512.8 436.1L513.4 435L514 434.4L514.6 434.5L515.2 434.9L515.8 435.2L516.4 434.9L517 434L517.6 433.5L518.2 432.9L518.8 432.3L519.4 432.2L520 432.6L520.6 431.8L521.2 431.2L521.8 430.9L522.4 431L523 431.6L523.6 433.2L524.2 434.2L524.8 434L525.4 433L526 431.9L526.6 431.3L527.2 431.6L527.8 432.7L528.4 434L529 435.1L529.6 435.5L530.2 435.4L530.8 435.2L531.4 435.1L532 435.3L532.6 435.1L533.2 434.2L533.8 433L534.4 432.8L535 433.5L535.6 433.9L536.2 434L536.8 434.4L537.4 434.5L538 433.4L538.6 432.6L539.2 433.7L539.8 435.8L540.4 436.5L541 434.9L541.6 432.2L542.2 431.2L542.8 432.9L543.4 434.8L544 435.1L544.6 434.1L545.2 432.6L545.8 431.3L546.4 430.5L547 430.3L547.6 430.5L548.2 430.6L548.8 430.6L549.4 431.1L550 432.7L550.6 434.8L551.2 436.4L551.8 436.6L552.4 435.6L553 434.4L553.6 434.3L554.2 435L554.8 435.4L555.4 434.3L556 432.2L556.6 430.4L557.2 429.9L557.8 430.4L558.4 431L559 431.3L559.6 431.6L560.2 432.2L560.8 432.9L561.4 433.4L562 433.6L562.6 434.8L563.2 436.3L563.8 437.5L564.4 438.4L565 439.8L565.6 440.5L566.2 441.1L566.8 441.1L567.4 440.6L568 440.3L568.6 440.5L569.2 440.5L569.8 440.1L570.4 439.3L571 438.5L571.6 438.2L572.2 438.4L572.8 438.9L573.4 439.3L574 439.8L574.6 440.1L575.2 440.3L575.8 440.2L576.4 440.1L577 440.3L577.6 440.6L578.2 441.1L578.8 441.5L579.4 441.6L580 441.4L580.6 441.1L581.2 441.2L581.8 441.8L582.4 442.4L583 443L583.6 443.2L584 444Z" fill="#7b7cf5"/>
<rect x="365.9" y="284.5" width="11" height="160" fill="#808080" fill-opacity="0.3"/>
<rect x="393" y="284.5" width="22" height="160" fill="#808080" fill-opacity="0.3"/>
<line x1="404.3" y1="284.5" x2="404.3" y2="444.5" stroke="#999" stroke-width="0.80"/>
<path d="M399.5 446 L307.5 568.5 M413.5 446 L526 577.5" stroke="#c6c6c6" stroke-width="3.9" stroke-linecap="round" stroke-dasharray="0 9.3" fill="none"/>
<line x1="429.4" y1="485.9" x2="527.4" y2="485.9" stroke="#000" stroke-width="1.4"/>
<path d="M447.5 481.7l3.2 4.2l-3.2 4.2M455.2 481.7l3.2 4.2l-3.2 4.2M462.9 481.7l3.2 4.2l-3.2 4.2M470.6 481.7l3.2 4.2l-3.2 4.2M478.3 481.7l3.2 4.2l-3.2 4.2M486 481.7l3.2 4.2l-3.2 4.2M493.7 481.7l3.2 4.2l-3.2 4.2M501.4 481.7l3.2 4.2l-3.2 4.2M509.1 481.7l3.2 4.2l-3.2 4.2M516.8 481.7l3.2 4.2l-3.2 4.2 M430 481.5 l5.5 4.4 l-5.5 4.4z" stroke="#000" stroke-width="1.3" fill="none"/>
<rect x="442.2" y="478.3" width="3" height="15.5" fill="#000"/>
<line x1="498.8" y1="478.5" x2="498.8" y2="493.5" stroke="#000" stroke-width="1.4"/>
<rect x="524.8" y="478.3" width="2.6" height="15.5" fill="#000"/>
<text x="410.8" y="542.6" font-size="22" text-anchor="middle">Meme-Suite</text>
<text x="411.2" y="568.8" font-size="22" text-anchor="middle">(AME. FIMO)</text>
<line x1="305.8" y1="592" x2="305.8" y2="650.6" stroke="#000" stroke-width="1.2"/>
<line x1="303.5" y1="592" x2="305.8" y2="592" stroke="#000" stroke-width="1"/>
<text x="302.5" y="594.2" font-size="6.5" text-anchor="end">2</text>
<line x1="303.5" y1="621.3" x2="305.8" y2="621.3" stroke="#000" stroke-width="1"/>
<text x="302.5" y="623.5" font-size="6.5" text-anchor="end">1</text>
<line x1="303.5" y1="650.6" x2="305.8" y2="650.6" stroke="#000" stroke-width="1"/>
<text x="302.5" y="652.8" font-size="6.5" text-anchor="end">0</text>
<text transform="translate(298 621) rotate(-90)" font-size="6.5" text-anchor="middle">bits</text>
<text transform="translate(308.2 650.6) scale(2.022 0.209)" font-size="10" font-weight="bold" fill="#cc0000">A</text>
<text transform="translate(308.2 649.1) scale(1.877 0.162)" font-size="10" font-weight="bold" fill="#ffb300">G</text>
<text transform="translate(308.2 647.4) scale(2.022 3.919)" font-size="10" font-weight="bold" fill="#0000cc">C</text>
<text transform="translate(313.7 653) rotate(90)" font-size="6" fill="#333">1</text>
<text transform="translate(326.7 649.8) scale(2.022 7.027)" font-size="10" font-weight="bold" fill="#0000cc">C</text>
<text transform="translate(332.2 653) rotate(90)" font-size="6" fill="#333">2</text>
<text transform="translate(342.1 650.6) scale(1.877 0.338)" font-size="10" font-weight="bold" fill="#ffb300">G</text>
<text transform="translate(342.1 648.1) scale(2.390 0.279)" font-size="10" font-weight="bold" fill="#008000">T</text>
<text transform="translate(342.1 646.1) scale(2.022 2.933)" font-size="10" font-weight="bold" fill="#cc0000">A</text>
<text transform="translate(347.6 653) rotate(90)" font-size="6" fill="#333">3</text>
<text transform="translate(359.9 650.6) scale(2.022 0.209)" font-size="10" font-weight="bold" fill="#cc0000">A</text>
<text transform="translate(359.9 649) scale(1.877 0.811)" font-size="10" font-weight="bold" fill="#ffb300">G</text>
<text transform="translate(359.9 642.9) scale(2.022 1.757)" font-size="10" font-weight="bold" fill="#0000cc">C</text>
<text transform="translate(365.4 653) rotate(90)" font-size="6" fill="#333">4</text>
<text transform="translate(376.9 650.6) scale(2.022 0.168)" font-size="10" font-weight="bold" fill="#cc0000">A</text>
<text transform="translate(376.9 649.4) scale(2.390 0.349)" font-size="10" font-weight="bold" fill="#008000">T</text>
<text transform="translate(376.9 646.9) scale(2.022 0.338)" font-size="10" font-weight="bold" fill="#0000cc">C</text>
<text transform="translate(382.4 653) rotate(90)" font-size="6" fill="#333">5</text>
<text transform="translate(393.8 650.6) scale(2.022 0.338)" font-size="10" font-weight="bold" fill="#0000cc">C</text>
<text transform="translate(393.8 648.1) scale(2.022 4.749)" font-size="10" font-weight="bold" fill="#cc0000">A</text>
<text transform="translate(399.3 653) rotate(90)" font-size="6" fill="#333">6</text>
<text transform="translate(410.8 649.7) scale(1.877 7.297)" font-size="10" font-weight="bold" fill="#ffb300">G</text>
<text transform="translate(416.3 653) rotate(90)" font-size="6" fill="#333">7</text>
<text transform="translate(427.8 650.6) scale(2.022 1.257)" font-size="10" font-weight="bold" fill="#cc0000">A</text>
<text transform="translate(427.8 641.3) scale(1.877 2.432)" font-size="10" font-weight="bold" fill="#ffb300">G</text>
<text transform="translate(433.3 653) rotate(90)" font-size="6" fill="#333">8</text>
<text transform="translate(444.8 650.6) scale(2.022 0.168)" font-size="10" font-weight="bold" fill="#cc0000">A</text>
<text transform="translate(444.8 649.4) scale(2.390 1.117)" font-size="10" font-weight="bold" fill="#008000">T</text>
<text transform="translate(444.8 641.2) scale(1.877 1.486)" font-size="10" font-weight="bold" fill="#ffb300">G</text>
<text transform="translate(450.3 653) rotate(90)" font-size="6" fill="#333">9</text>
<text transform="translate(461.8 649.8) scale(1.877 7.027)" font-size="10" font-weight="bold" fill="#ffb300">G</text>
<text transform="translate(467.3 653) rotate(90)" font-size="6" fill="#333">10</text>
<text transform="translate(478.8 650.6) scale(2.390 0.419)" font-size="10" font-weight="bold" fill="#008000">T</text>
<text transform="translate(478.8 646.9) scale(1.877 5.541)" font-size="10" font-weight="bold" fill="#ffb300">G</text>
<text transform="translate(484.3 653) rotate(90)" font-size="6" fill="#333">11</text>
<text transform="translate(495.7 650.6) scale(2.390 0.209)" font-size="10" font-weight="bold" fill="#008000">T</text>
<text transform="translate(495.7 649.1) scale(2.022 0.978)" font-size="10" font-weight="bold" fill="#cc0000">A</text>
<text transform="translate(495.7 641.7) scale(2.022 2.973)" font-size="10" font-weight="bold" fill="#0000cc">C</text>
<text transform="translate(501.2 653) rotate(90)" font-size="6" fill="#333">12</text>
<text transform="translate(512.7 650.6) scale(2.022 1.397)" font-size="10" font-weight="bold" fill="#cc0000">A</text>
<text transform="translate(512.7 640.4) scale(1.877 1.351)" font-size="10" font-weight="bold" fill="#ffb300">G</text>
<text transform="translate(518.2 653) rotate(90)" font-size="6" fill="#333">13</text>
<text x="593" y="48" font-size="55">b</text>
<text x="606" y="93.7" font-size="28">Fasted-opened</text>
<line x1="605" y1="98.7" x2="795.3" y2="98.7" stroke="#000" stroke-width="1.6"/>
<text x="866.6" y="93.7" font-size="28">Fasted-closed</text>
<line x1="865.6" y1="98.7" x2="1043.4" y2="98.7" stroke="#000" stroke-width="1.6"/>
<text x="610.5" y="433.3" font-size="28">Leptin-opened</text>
<line x1="609.5" y1="438.3" x2="790.5" y2="438.3" stroke="#000" stroke-width="1.6"/>
<text x="872.4" y="433.3" font-size="28">Leptin-closed</text>
<line x1="871.4" y1="438.3" x2="1039.9" y2="438.3" stroke="#000" stroke-width="1.6"/>
<circle cx="702.8" cy="225.5" r="69.1" fill="none" stroke="#c0c0c0" stroke-width="31.2"/>
<path d="M702.8 140.8A84.7 84.7 0 0 1 766 169.1L742.7 189.9A53.5 53.5 0 0 0 702.8 172Z" fill="#d580f8" stroke="none" stroke-width="1"/>
<circle cx="702.8" cy="225.5" r="84.7" fill="none" stroke="#000" stroke-width="1.1"/>
<circle cx="702.8" cy="225.5" r="53.5" fill="none" stroke="#000" stroke-width="1.1"/>
<line x1="702.8" y1="140.8" x2="702.8" y2="172" stroke="#000" stroke-width="1.1"/>
<line x1="766" y1="169.1" x2="742.7" y2="189.9" stroke="#000" stroke-width="1.1"/>
<text x="702" y="234.5" font-size="31.6" text-anchor="middle">18293</text>
<text x="721.8" y="137.9" font-size="32.5">2452</text>
<circle cx="958.2" cy="225.5" r="69.1" fill="none" stroke="#c0c0c0" stroke-width="31.2"/>
<path d="M958.2 140.8A84.7 84.7 0 0 1 991.7 147.7L979.4 176.4A53.5 53.5 0 0 0 958.2 172Z" fill="#d580f8" stroke="none" stroke-width="1"/>
<circle cx="958.2" cy="225.5" r="84.7" fill="none" stroke="#000" stroke-width="1.1"/>
<circle cx="958.2" cy="225.5" r="53.5" fill="none" stroke="#000" stroke-width="1.1"/>
<line x1="958.2" y1="140.8" x2="958.2" y2="172" stroke="#000" stroke-width="1.1"/>
<line x1="991.7" y1="147.7" x2="979.4" y2="176.4" stroke="#000" stroke-width="1.1"/>
<text x="957.4" y="234.5" font-size="31.6" text-anchor="middle">8193</text>
<text x="955.8" y="137.9" font-size="32.5">531</text>
<circle cx="702.8" cy="567.1" r="69.1" fill="none" stroke="#c0c0c0" stroke-width="31.2"/>
<path d="M702.8 482.4A84.7 84.7 0 0 1 750.5 497.1L732.9 522.9A53.5 53.5 0 0 0 702.8 513.6Z" fill="#8080ff" stroke="none" stroke-width="1"/>
<circle cx="702.8" cy="567.1" r="84.7" fill="none" stroke="#000" stroke-width="1.1"/>
<circle cx="702.8" cy="567.1" r="53.5" fill="none" stroke="#000" stroke-width="1.1"/>
<line x1="702.8" y1="482.4" x2="702.8" y2="513.6" stroke="#000" stroke-width="1.1"/>
<line x1="750.5" y1="497.1" x2="732.9" y2="522.9" stroke="#000" stroke-width="1.1"/>
<text x="702" y="576.1" font-size="31.6" text-anchor="middle">2134</text>
<text x="715.1" y="476.7" font-size="32.5">203</text>
<circle cx="958.2" cy="567.1" r="69.1" fill="none" stroke="#c0c0c0" stroke-width="31.2"/>
<path d="M958.2 482.4A84.7 84.7 0 0 1 998.4 492.5L983.6 520A53.5 53.5 0 0 0 958.2 513.6Z" fill="#8080ff" stroke="none" stroke-width="1"/>
<circle cx="958.2" cy="567.1" r="84.7" fill="none" stroke="#000" stroke-width="1.1"/>
<circle cx="958.2" cy="567.1" r="53.5" fill="none" stroke="#000" stroke-width="1.1"/>
<line x1="958.2" y1="482.4" x2="958.2" y2="513.6" stroke="#000" stroke-width="1.1"/>
<line x1="998.4" y1="492.5" x2="983.6" y2="520" stroke="#000" stroke-width="1.1"/>
<text x="957.4" y="576.1" font-size="31.6" text-anchor="middle">941</text>
<text x="966.8" y="476.7" font-size="32.5">74</text>
<text transform="translate(1127.3 48.6) scale(1.1 1)" font-size="55">c</text>
<text x="1204.7" y="94.3" font-size="28">Fasted-opened</text>
<line x1="1203.7" y1="99.3" x2="1394" y2="99.3" stroke="#000" stroke-width="1.6"/>
<text x="1580.7" y="94.6" font-size="28">Fasted-closed</text>
<line x1="1579.7" y1="99.6" x2="1757.5" y2="99.6" stroke="#000" stroke-width="1.6"/>
<text x="1210" y="434.4" font-size="28">Leptin-opened</text>
<line x1="1209" y1="439.4" x2="1390" y2="439.4" stroke="#000" stroke-width="1.6"/>
<text x="1587.6" y="433.9" font-size="28">Leptin-closed</text>
<line x1="1586.6" y1="438.9" x2="1755.1" y2="438.9" stroke="#000" stroke-width="1.6"/>
<text x="1102.4" y="148.4" font-size="22">Name</text>
<line x1="1101.4" y1="152.2" x2="1162.1" y2="152.2" stroke="#000" stroke-width="1.4"/>
<text x="1193" y="148.4" font-size="22">P-value</text>
<line x1="1192" y1="152.2" x2="1268.6" y2="152.2" stroke="#000" stroke-width="1.4"/>
<text x="1474.3" y="148" font-size="22">Name</text>
<line x1="1473.3" y1="151.8" x2="1534" y2="151.8" stroke="#000" stroke-width="1.4"/>
<text x="1567.5" y="148" font-size="22">P-value</text>
<line x1="1566.5" y1="151.8" x2="1643.1" y2="151.8" stroke="#000" stroke-width="1.4"/>
<text x="1110.4" y="485.3" font-size="22">Name</text>
<line x1="1109.4" y1="489.1" x2="1170.1" y2="489.1" stroke="#000" stroke-width="1.4"/>
<text x="1201" y="485.3" font-size="22">P-value</text>
<line x1="1200" y1="489.1" x2="1276.6" y2="489.1" stroke="#000" stroke-width="1.4"/>
<text x="1474.3" y="485.5" font-size="22">Name</text>
<line x1="1473.3" y1="489.3" x2="1534" y2="489.3" stroke="#000" stroke-width="1.4"/>
<text x="1567.5" y="485.5" font-size="22">P-value</text>
<line x1="1566.5" y1="489.3" x2="1643.1" y2="489.3" stroke="#000" stroke-width="1.4"/>
<text x="1102.4" y="183.3" font-size="22">FOSB</text>
<text x="1179.8" y="183.3" font-size="23.5">2.49x10<tspan font-size="14.5" dy="-8.5">-699</tspan></text>
<text x="1102.4" y="211.2" font-size="22">JUNB</text>
<text x="1179.8" y="211.2" font-size="23.5">8.71x10<tspan font-size="14.5" dy="-8.5">-696</tspan></text>
<text x="1102.4" y="240.2" font-size="22">ATF3</text>
<text x="1179.8" y="240.2" font-size="23.5">8.18x10<tspan font-size="14.5" dy="-8.5">-672</tspan></text>
<text x="1102.4" y="269.3" font-size="22">JUN</text>
<text x="1179.8" y="269.3" font-size="23.5">8.91x10<tspan font-size="14.5" dy="-8.5">-642</tspan></text>
<text x="1102.4" y="298.2" font-size="22">JUND</text>
<text x="1179.8" y="298.2" font-size="23.5">1.02x10<tspan font-size="14.5" dy="-8.5">-627</tspan></text>
<text x="1474.3" y="182.4" font-size="22">IRF3</text>
<text x="1568.4" y="182.4" font-size="23.5">1.09x10<tspan font-size="14.5" dy="-8.5">-51</tspan></text>
<text x="1474.3" y="211.4" font-size="22">ETS2</text>
<text x="1568.4" y="211.4" font-size="23.5">7.81x10<tspan font-size="14.5" dy="-8.5">-49</tspan></text>
<text x="1474.3" y="241" font-size="22">STAT1</text>
<text x="1568.4" y="241" font-size="23.5">4.66x10<tspan font-size="14.5" dy="-8.5">-44</tspan></text>
<text x="1474.3" y="270.2" font-size="22">NKX61</text>
<text x="1568.4" y="270.2" font-size="23.5">1.22x10<tspan font-size="14.5" dy="-8.5">-42</tspan></text>
<text x="1474.3" y="299.4" font-size="22">BARX1</text>
<text x="1568.4" y="299.4" font-size="23.5">1.19x10<tspan font-size="14.5" dy="-8.5">-41</tspan></text>
<text x="1102.4" y="520.2" font-size="22">STAT3</text>
<text x="1187.7" y="520.2" font-size="23.5">4.26x10<tspan font-size="14.5" dy="-8.5">-81</tspan></text>
<text x="1102.4" y="548.8" font-size="22">STAT4</text>
<text x="1187.7" y="548.8" font-size="23.5">3.10x10<tspan font-size="14.5" dy="-8.5">-68</tspan></text>
<text x="1102.4" y="577.8" font-size="22">STA5A</text>
<text x="1187.7" y="577.8" font-size="23.5">5.47x10<tspan font-size="14.5" dy="-8.5">-52</tspan></text>
<text x="1102.4" y="607.5" font-size="22">STA5B</text>
<text x="1187.7" y="607.5" font-size="23.5">8.48x10<tspan font-size="14.5" dy="-8.5">-51</tspan></text>
<text x="1102.4" y="636.9" font-size="22">BCL6</text>
<text x="1187.7" y="636.9" font-size="23.5">6.17x10<tspan font-size="14.5" dy="-8.5">-26</tspan></text>
<text x="1474.3" y="520.3" font-size="22">ANDR</text>
<text x="1568.4" y="520.3" font-size="23.5">1.05x10<tspan font-size="14.5" dy="-8.5">-25</tspan></text>
<text x="1474.3" y="549.4" font-size="22">GCR</text>
<text x="1568.4" y="549.4" font-size="23.5">5.42x10<tspan font-size="14.5" dy="-8.5">-25</tspan></text>
<text x="1474.3" y="578.8" font-size="22">PRGR</text>
<text x="1568.4" y="578.8" font-size="23.5">7.11x10<tspan font-size="14.5" dy="-8.5">-25</tspan></text>
<text x="1474.3" y="608.2" font-size="22">MEF2D</text>
<text x="1568.4" y="608.2" font-size="23.5">5.63x10<tspan font-size="14.5" dy="-8.5">-16</tspan></text>
<text x="1474.3" y="637.7" font-size="22">MEF2A</text>
<text x="1568.4" y="637.7" font-size="23.5">1.38x10<tspan font-size="14.5" dy="-8.5">-15</tspan></text>
<text transform="translate(1317.8 180.8) scale(1.735 0.115)" font-size="10" font-weight="bold" fill="#7a10c8">T</text>
<text transform="translate(1317.8 180) scale(1.468 0.091)" font-size="10" font-weight="bold" fill="#ffa000">C</text>
<text transform="translate(1329 180.8) scale(1.735 2.346)" font-size="10" font-weight="bold" fill="#7a10c8">T</text>
<text transform="translate(1340.2 180.6) scale(1.362 1.743)" font-size="10" font-weight="bold" fill="#ff3a0a">G</text>
<text transform="translate(1351.4 180.8) scale(1.468 2.039)" font-size="10" font-weight="bold" fill="#0a6cf5">A</text>
<text transform="translate(1362.6 180.6) scale(1.362 1.635)" font-size="10" font-weight="bold" fill="#ff3a0a">G</text>
<text transform="translate(1373.8 180.8) scale(1.735 1.634)" font-size="10" font-weight="bold" fill="#7a10c8">T</text>
<text transform="translate(1385 180.6) scale(1.468 1.973)" font-size="10" font-weight="bold" fill="#ffa000">C</text>
<text transform="translate(1396.2 180.8) scale(1.468 2.556)" font-size="10" font-weight="bold" fill="#0a6cf5">A</text>
<text transform="translate(1407.4 180.8) scale(1.468 0.115)" font-size="10" font-weight="bold" fill="#0a6cf5">A</text>
<text transform="translate(1407.4 180) scale(1.468 0.091)" font-size="10" font-weight="bold" fill="#ffa000">C</text>
<text transform="translate(1317.8 211.9) scale(1.468 0.089)" font-size="10" font-weight="bold" fill="#ffa000">C</text>
<text transform="translate(1317.8 211.2) scale(1.362 0.073)" font-size="10" font-weight="bold" fill="#ff3a0a">G</text>
<text transform="translate(1329 211.9) scale(1.735 2.612)" font-size="10" font-weight="bold" fill="#7a10c8">T</text>
<text transform="translate(1340.2 211.7) scale(1.362 1.622)" font-size="10" font-weight="bold" fill="#ff3a0a">G</text>
<text transform="translate(1351.4 211.9) scale(1.468 2.723)" font-size="10" font-weight="bold" fill="#0a6cf5">A</text>
<text transform="translate(1362.6 211.7) scale(1.362 1.514)" font-size="10" font-weight="bold" fill="#ff3a0a">G</text>
<text transform="translate(1373.8 211.9) scale(1.735 2.263)" font-size="10" font-weight="bold" fill="#7a10c8">T</text>
<text transform="translate(1385 211.6) scale(1.468 2.189)" font-size="10" font-weight="bold" fill="#ffa000">C</text>
<text transform="translate(1396.2 211.9) scale(1.468 2.779)" font-size="10" font-weight="bold" fill="#0a6cf5">A</text>
<text transform="translate(1407.4 211.9) scale(1.468 0.192)" font-size="10" font-weight="bold" fill="#0a6cf5">A</text>
<text transform="translate(1407.4 210.5) scale(1.468 0.152)" font-size="10" font-weight="bold" fill="#ffa000">C</text>
<text transform="translate(1317.8 241) scale(1.468 0.115)" font-size="10" font-weight="bold" fill="#0a6cf5">A</text>
<text transform="translate(1317.8 240.2) scale(1.735 0.094)" font-size="10" font-weight="bold" fill="#7a10c8">T</text>
<text transform="translate(1329 241) scale(1.735 2.486)" font-size="10" font-weight="bold" fill="#7a10c8">T</text>
<text transform="translate(1340.2 240.7) scale(1.362 2.351)" font-size="10" font-weight="bold" fill="#ff3a0a">G</text>
<text transform="translate(1351.4 241) scale(1.468 2.430)" font-size="10" font-weight="bold" fill="#0a6cf5">A</text>
<text transform="translate(1362.6 240.7) scale(1.362 2.581)" font-size="10" font-weight="bold" fill="#ff3a0a">G</text>
<text transform="translate(1373.8 241) scale(1.735 1.271)" font-size="10" font-weight="bold" fill="#7a10c8">T</text>
<text transform="translate(1385 240.8) scale(1.468 1.405)" font-size="10" font-weight="bold" fill="#ffa000">C</text>
<text transform="translate(1396.2 241) scale(1.468 3.017)" font-size="10" font-weight="bold" fill="#0a6cf5">A</text>
<text transform="translate(1407.4 241) scale(1.468 0.115)" font-size="10" font-weight="bold" fill="#0a6cf5">A</text>
<text transform="translate(1407.4 240.2) scale(1.468 0.091)" font-size="10" font-weight="bold" fill="#ffa000">C</text>
<text transform="translate(1317.8 270.5) scale(1.468 0.164)" font-size="10" font-weight="bold" fill="#ffa000">C</text>
<text transform="translate(1317.8 269.3) scale(1.362 0.134)" font-size="10" font-weight="bold" fill="#ff3a0a">G</text>
<text transform="translate(1329 270.5) scale(1.735 2.430)" font-size="10" font-weight="bold" fill="#7a10c8">T</text>
<text transform="translate(1340.2 270.2) scale(1.362 2.189)" font-size="10" font-weight="bold" fill="#ff3a0a">G</text>
<text transform="translate(1351.4 270.5) scale(1.468 2.556)" font-size="10" font-weight="bold" fill="#0a6cf5">A</text>
<text transform="translate(1362.6 270.2) scale(1.362 2.189)" font-size="10" font-weight="bold" fill="#ff3a0a">G</text>
<text transform="translate(1373.8 270.5) scale(1.735 2.374)" font-size="10" font-weight="bold" fill="#7a10c8">T</text>
<text transform="translate(1385 270.2) scale(1.468 2.527)" font-size="10" font-weight="bold" fill="#ffa000">C</text>
<text transform="translate(1396.2 270.5) scale(1.468 2.612)" font-size="10" font-weight="bold" fill="#0a6cf5">A</text>
<text transform="translate(1407.4 270.5) scale(1.468 0.186)" font-size="10" font-weight="bold" fill="#ffa000">C</text>
<text transform="translate(1407.4 269.1) scale(1.735 0.157)" font-size="10" font-weight="bold" fill="#7a10c8">T</text>
<text transform="translate(1317.8 300) scale(1.468 0.186)" font-size="10" font-weight="bold" fill="#ffa000">C</text>
<text transform="translate(1317.8 298.6) scale(1.735 0.157)" font-size="10" font-weight="bold" fill="#7a10c8">T</text>
<text transform="translate(1329 300) scale(1.735 2.542)" font-size="10" font-weight="bold" fill="#7a10c8">T</text>
<text transform="translate(1340.2 299.7) scale(1.362 2.527)" font-size="10" font-weight="bold" fill="#ff3a0a">G</text>
<text transform="translate(1351.4 300) scale(1.468 2.486)" font-size="10" font-weight="bold" fill="#0a6cf5">A</text>
<text transform="translate(1362.6 299.7) scale(1.362 2.189)" font-size="10" font-weight="bold" fill="#ff3a0a">G</text>
<text transform="translate(1373.8 300) scale(1.735 2.612)" font-size="10" font-weight="bold" fill="#7a10c8">T</text>
<text transform="translate(1385 299.7) scale(1.468 2.405)" font-size="10" font-weight="bold" fill="#ffa000">C</text>
<text transform="translate(1396.2 300) scale(1.468 3.017)" font-size="10" font-weight="bold" fill="#0a6cf5">A</text>
<text transform="translate(1407.4 300) scale(1.468 0.169)" font-size="10" font-weight="bold" fill="#0a6cf5">A</text>
<text transform="translate(1407.4 298.8) scale(1.362 0.134)" font-size="10" font-weight="bold" fill="#ff3a0a">G</text>
<text transform="translate(1685.3 180.7) scale(1.468 0.284)" font-size="10" font-weight="bold" fill="#0a6cf5">A</text>
<text transform="translate(1685.3 178.6) scale(1.468 0.225)" font-size="10" font-weight="bold" fill="#ffa000">C</text>
<text transform="translate(1696.5 180.7) scale(1.468 0.628)" font-size="10" font-weight="bold" fill="#0a6cf5">A</text>
<text transform="translate(1707.7 180.7) scale(1.468 0.726)" font-size="10" font-weight="bold" fill="#0a6cf5">A</text>
<text transform="translate(1718.9 180.7) scale(1.468 0.838)" font-size="10" font-weight="bold" fill="#0a6cf5">A</text>
<rect x="1730.3" y="179.8" width="10.2" height="0.9" fill="#7a10c8" fill-opacity="0.55"/>
<text transform="translate(1741.3 180.7) scale(1.468 0.169)" font-size="10" font-weight="bold" fill="#0a6cf5">A</text>
<text transform="translate(1741.3 179.5) scale(1.735 0.138)" font-size="10" font-weight="bold" fill="#7a10c8">T</text>
<text transform="translate(1752.5 180.6) scale(1.362 1.014)" font-size="10" font-weight="bold" fill="#ff3a0a">G</text>
<text transform="translate(1763.7 180.7) scale(1.468 1.466)" font-size="10" font-weight="bold" fill="#0a6cf5">A</text>
<text transform="translate(1774.9 180.7) scale(1.468 1.355)" font-size="10" font-weight="bold" fill="#0a6cf5">A</text>
<text transform="translate(1786.1 180.7) scale(1.468 1.983)" font-size="10" font-weight="bold" fill="#0a6cf5">A</text>
<rect x="1797.5" y="179.8" width="10.2" height="0.9" fill="#7a10c8" fill-opacity="0.55"/>
<rect x="1808.7" y="179.8" width="10.2" height="0.9" fill="#7a10c8" fill-opacity="0.55"/>
<text transform="translate(1819.7 180.6) scale(1.362 1.108)" font-size="10" font-weight="bold" fill="#ff3a0a">G</text>
<text transform="translate(1830.9 180.7) scale(1.468 0.838)" font-size="10" font-weight="bold" fill="#0a6cf5">A</text>
<text transform="translate(1842.1 180.7) scale(1.468 1.564)" font-size="10" font-weight="bold" fill="#0a6cf5">A</text>
<text transform="translate(1853.3 180.7) scale(1.468 2.304)" font-size="10" font-weight="bold" fill="#0a6cf5">A</text>
<text transform="translate(1864.5 180.7) scale(1.362 0.223)" font-size="10" font-weight="bold" fill="#ff3a0a">G</text>
<text transform="translate(1864.5 179) scale(1.735 0.189)" font-size="10" font-weight="bold" fill="#7a10c8">T</text>
<text transform="translate(1886.9 180.7) scale(1.468 0.164)" font-size="10" font-weight="bold" fill="#ffa000">C</text>
<text transform="translate(1886.9 179.5) scale(1.468 0.138)" font-size="10" font-weight="bold" fill="#0a6cf5">A</text>
<text transform="translate(1898.1 180.7) scale(1.468 0.517)" font-size="10" font-weight="bold" fill="#0a6cf5">A</text>
<rect x="1686.2" y="210.7" width="10.2" height="0.9" fill="#7a10c8" fill-opacity="0.55"/>
<rect x="1708.6" y="210.7" width="10.2" height="0.9" fill="#7a10c8" fill-opacity="0.55"/>
<text transform="translate(1719.6 211.6) scale(1.735 0.230)" font-size="10" font-weight="bold" fill="#7a10c8">T</text>
<text transform="translate(1719.6 209.9) scale(1.362 0.182)" font-size="10" font-weight="bold" fill="#ff3a0a">G</text>
<text transform="translate(1730.8 211.5) scale(1.362 1.216)" font-size="10" font-weight="bold" fill="#ff3a0a">G</text>
<text transform="translate(1742 211.3) scale(1.362 2.527)" font-size="10" font-weight="bold" fill="#ff3a0a">G</text>
<text transform="translate(1753.2 211.6) scale(1.468 2.821)" font-size="10" font-weight="bold" fill="#0a6cf5">A</text>
<text transform="translate(1764.4 211.6) scale(1.468 2.514)" font-size="10" font-weight="bold" fill="#0a6cf5">A</text>
<text transform="translate(1775.6 211.5) scale(1.362 0.703)" font-size="10" font-weight="bold" fill="#ff3a0a">G</text>
<rect x="1787" y="210.7" width="10.2" height="0.9" fill="#0a6cf5" fill-opacity="0.55"/>
<text transform="translate(1798 211.6) scale(1.468 0.223)" font-size="10" font-weight="bold" fill="#ffa000">C</text>
<text transform="translate(1798 209.9) scale(1.362 0.182)" font-size="10" font-weight="bold" fill="#ff3a0a">G</text>
<text transform="translate(1809.2 211.6) scale(1.735 0.169)" font-size="10" font-weight="bold" fill="#7a10c8">T</text>
<text transform="translate(1809.2 210.4) scale(1.362 0.134)" font-size="10" font-weight="bold" fill="#ff3a0a">G</text>
<text transform="translate(1820.4 211.6) scale(1.468 0.134)" font-size="10" font-weight="bold" fill="#ffa000">C</text>
<text transform="translate(1820.4 210.6) scale(1.468 0.113)" font-size="10" font-weight="bold" fill="#0a6cf5">A</text>
<text transform="translate(1674 240.6) scale(1.735 0.169)" font-size="10" font-weight="bold" fill="#7a10c8">T</text>
<text transform="translate(1674 239.4) scale(1.468 0.134)" font-size="10" font-weight="bold" fill="#ffa000">C</text>
<text transform="translate(1685.2 240.5) scale(1.362 0.500)" font-size="10" font-weight="bold" fill="#ff3a0a">G</text>
<text transform="translate(1696.4 240.5) scale(1.362 0.811)" font-size="10" font-weight="bold" fill="#ff3a0a">G</text>
<text transform="translate(1707.6 240.6) scale(1.468 1.145)" font-size="10" font-weight="bold" fill="#0a6cf5">A</text>
<text transform="translate(1718.8 240.6) scale(1.468 2.304)" font-size="10" font-weight="bold" fill="#0a6cf5">A</text>
<text transform="translate(1730 240.6) scale(1.468 1.466)" font-size="10" font-weight="bold" fill="#0a6cf5">A</text>
<rect x="1752.6" y="239.7" width="10.2" height="0.9" fill="#ffa000" fill-opacity="0.55"/>
<text transform="translate(1763.6 240.4) scale(1.362 1.622)" font-size="10" font-weight="bold" fill="#ff3a0a">G</text>
<text transform="translate(1774.8 240.6) scale(1.468 2.304)" font-size="10" font-weight="bold" fill="#0a6cf5">A</text>
<text transform="translate(1786 240.6) scale(1.468 2.304)" font-size="10" font-weight="bold" fill="#0a6cf5">A</text>
<text transform="translate(1797.2 240.6) scale(1.468 2.304)" font-size="10" font-weight="bold" fill="#0a6cf5">A</text>
<text transform="translate(1808.4 240.6) scale(1.468 0.164)" font-size="10" font-weight="bold" fill="#ffa000">C</text>
<text transform="translate(1808.4 239.4) scale(1.735 0.138)" font-size="10" font-weight="bold" fill="#7a10c8">T</text>
<text transform="translate(1819.6 240.6) scale(1.468 0.115)" font-size="10" font-weight="bold" fill="#0a6cf5">A</text>
<text transform="translate(1819.6 239.8) scale(1.468 0.091)" font-size="10" font-weight="bold" fill="#ffa000">C</text>
<rect x="1831" y="239.7" width="10.2" height="0.9" fill="#7a10c8" fill-opacity="0.55"/>
<text transform="translate(1842 240.6) scale(1.468 1.047)" font-size="10" font-weight="bold" fill="#0a6cf5">A</text>
<text transform="translate(1853.2 240.6) scale(1.362 0.149)" font-size="10" font-weight="bold" fill="#ff3a0a">G</text>
<text transform="translate(1853.2 239.5) scale(1.735 0.126)" font-size="10" font-weight="bold" fill="#7a10c8">T</text>
<text transform="translate(1864.4 240.6) scale(1.735 0.154)" font-size="10" font-weight="bold" fill="#7a10c8">T</text>
<text transform="translate(1864.4 239.5) scale(1.362 0.122)" font-size="10" font-weight="bold" fill="#ff3a0a">G</text>
<rect x="1875.8" y="239.7" width="10.2" height="0.9" fill="#0a6cf5" fill-opacity="0.55"/>
<rect x="1887" y="239.7" width="10.2" height="0.9" fill="#ff3a0a" fill-opacity="0.55"/>
<text transform="translate(1898 240.6) scale(1.468 0.111)" font-size="10" font-weight="bold" fill="#ffa000">C</text>
<text transform="translate(1898 239.8) scale(1.735 0.094)" font-size="10" font-weight="bold" fill="#7a10c8">T</text>
<text transform="translate(1696.5 270.2) scale(1.468 0.628)" font-size="10" font-weight="bold" fill="#0a6cf5">A</text>
<rect x="1707.9" y="269.3" width="10.2" height="0.9" fill="#ffa000" fill-opacity="0.55"/>
<text transform="translate(1718.9 270.2) scale(1.735 0.628)" font-size="10" font-weight="bold" fill="#7a10c8">T</text>
<text transform="translate(1730.1 270.2) scale(1.468 0.517)" font-size="10" font-weight="bold" fill="#0a6cf5">A</text>
<text transform="translate(1741.3 270.2) scale(1.468 2.402)" font-size="10" font-weight="bold" fill="#0a6cf5">A</text>
<text transform="translate(1752.5 270.2) scale(1.735 1.466)" font-size="10" font-weight="bold" fill="#7a10c8">T</text>
<text transform="translate(1763.7 270.2) scale(1.362 0.149)" font-size="10" font-weight="bold" fill="#ff3a0a">G</text>
<text transform="translate(1763.7 269.1) scale(1.735 0.126)" font-size="10" font-weight="bold" fill="#7a10c8">T</text>
<text transform="translate(1774.9 270.2) scale(1.468 0.111)" font-size="10" font-weight="bold" fill="#ffa000">C</text>
<text transform="translate(1774.9 269.4) scale(1.362 0.091)" font-size="10" font-weight="bold" fill="#ff3a0a">G</text>
<rect x="1786.3" y="269.3" width="10.2" height="0.9" fill="#0a6cf5" fill-opacity="0.55"/>
<text transform="translate(1808.5 270.2) scale(1.735 0.517)" font-size="10" font-weight="bold" fill="#7a10c8">T</text>
<text transform="translate(1819.7 270.2) scale(1.735 0.628)" font-size="10" font-weight="bold" fill="#7a10c8">T</text>
<text transform="translate(1830.9 270.2) scale(1.735 0.936)" font-size="10" font-weight="bold" fill="#7a10c8">T</text>
<text transform="translate(1842.1 270.2) scale(1.735 1.257)" font-size="10" font-weight="bold" fill="#7a10c8">T</text>
<text transform="translate(1853.3 270.2) scale(1.468 0.628)" font-size="10" font-weight="bold" fill="#0a6cf5">A</text>
<text transform="translate(1864.5 270.2) scale(1.468 2.514)" font-size="10" font-weight="bold" fill="#0a6cf5">A</text>
<text transform="translate(1875.7 270.2) scale(1.735 1.257)" font-size="10" font-weight="bold" fill="#7a10c8">T</text>
<text transform="translate(1886.9 270.2) scale(1.468 0.164)" font-size="10" font-weight="bold" fill="#ffa000">C</text>
<text transform="translate(1886.9 269) scale(1.468 0.138)" font-size="10" font-weight="bold" fill="#0a6cf5">A</text>
<text transform="translate(1898.1 270.2) scale(1.468 0.149)" font-size="10" font-weight="bold" fill="#ffa000">C</text>
<text transform="translate(1898.1 269.1) scale(1.468 0.126)" font-size="10" font-weight="bold" fill="#0a6cf5">A</text>
<rect x="1705.7" y="298.5" width="10.2" height="0.9" fill="#ff3a0a" fill-opacity="0.55"/>
<text transform="translate(1739.1 299.4) scale(1.735 0.628)" font-size="10" font-weight="bold" fill="#7a10c8">T</text>
<text transform="translate(1750.3 299.4) scale(1.468 1.257)" font-size="10" font-weight="bold" fill="#0a6cf5">A</text>
<text transform="translate(1761.5 299.4) scale(1.468 2.612)" font-size="10" font-weight="bold" fill="#0a6cf5">A</text>
<rect x="1772.9" y="298.5" width="10.2" height="0.9" fill="#0a6cf5" fill-opacity="0.55"/>
<text transform="translate(1783.9 299.4) scale(1.735 0.726)" font-size="10" font-weight="bold" fill="#7a10c8">T</text>
<text transform="translate(1795.1 299.2) scale(1.362 2.027)" font-size="10" font-weight="bold" fill="#ff3a0a">G</text>
<text transform="translate(1806.3 299.4) scale(1.735 0.628)" font-size="10" font-weight="bold" fill="#7a10c8">T</text>
<text transform="translate(1817.5 299.4) scale(1.735 0.838)" font-size="10" font-weight="bold" fill="#7a10c8">T</text>
<text transform="translate(1828.7 299.4) scale(1.735 0.419)" font-size="10" font-weight="bold" fill="#7a10c8">T</text>
<rect x="1840.1" y="298.5" width="10.2" height="0.9" fill="#ffa000" fill-opacity="0.55"/>
<rect x="1312.2" y="518.8" width="10.1" height="0.9" fill="#0a6cf5" fill-opacity="0.55"/>
<text transform="translate(1323.1 519.7) scale(1.350 0.149)" font-size="10" font-weight="bold" fill="#ff3a0a">G</text>
<text transform="translate(1323.1 518.6) scale(1.718 0.126)" font-size="10" font-weight="bold" fill="#7a10c8">T</text>
<text transform="translate(1334.2 519.7) scale(1.454 0.384)" font-size="10" font-weight="bold" fill="#0a6cf5">A</text>
<text transform="translate(1334.2 516.9) scale(1.454 0.304)" font-size="10" font-weight="bold" fill="#ffa000">C</text>
<text transform="translate(1345.3 519.7) scale(1.718 2.109)" font-size="10" font-weight="bold" fill="#7a10c8">T</text>
<text transform="translate(1356.4 519.7) scale(1.718 2.402)" font-size="10" font-weight="bold" fill="#7a10c8">T</text>
<text transform="translate(1367.5 519.5) scale(1.454 1.351)" font-size="10" font-weight="bold" fill="#ffa000">C</text>
<text transform="translate(1378.6 519.4) scale(1.454 2.189)" font-size="10" font-weight="bold" fill="#ffa000">C</text>
<text transform="translate(1389.7 519.7) scale(1.454 0.297)" font-size="10" font-weight="bold" fill="#ffa000">C</text>
<text transform="translate(1389.7 517.5) scale(1.454 0.251)" font-size="10" font-weight="bold" fill="#0a6cf5">A</text>
<text transform="translate(1400.8 519.6) scale(1.350 0.676)" font-size="10" font-weight="bold" fill="#ff3a0a">G</text>
<text transform="translate(1411.9 519.6) scale(1.350 0.608)" font-size="10" font-weight="bold" fill="#ff3a0a">G</text>
<text transform="translate(1423 519.7) scale(1.454 0.978)" font-size="10" font-weight="bold" fill="#0a6cf5">A</text>
<text transform="translate(1434.1 519.7) scale(1.454 1.536)" font-size="10" font-weight="bold" fill="#0a6cf5">A</text>
<text transform="translate(1334.6 550.5) scale(1.718 0.559)" font-size="10" font-weight="bold" fill="#7a10c8">T</text>
<text transform="translate(1345.7 550.5) scale(1.718 2.793)" font-size="10" font-weight="bold" fill="#7a10c8">T</text>
<text transform="translate(1356.8 550.5) scale(1.718 2.793)" font-size="10" font-weight="bold" fill="#7a10c8">T</text>
<text transform="translate(1367.9 550.2) scale(1.454 2.162)" font-size="10" font-weight="bold" fill="#ffa000">C</text>
<text transform="translate(1379 550.3) scale(1.454 1.351)" font-size="10" font-weight="bold" fill="#ffa000">C</text>
<rect x="1390.3" y="549.6" width="10.1" height="0.9" fill="#0a6cf5" fill-opacity="0.55"/>
<text transform="translate(1401.2 550.5) scale(1.718 0.230)" font-size="10" font-weight="bold" fill="#7a10c8">T</text>
<text transform="translate(1401.2 548.8) scale(1.350 0.182)" font-size="10" font-weight="bold" fill="#ff3a0a">G</text>
<text transform="translate(1412.3 550.5) scale(1.718 0.307)" font-size="10" font-weight="bold" fill="#7a10c8">T</text>
<text transform="translate(1412.3 548.3) scale(1.350 0.243)" font-size="10" font-weight="bold" fill="#ff3a0a">G</text>
<text transform="translate(1423.4 550.5) scale(1.454 0.838)" font-size="10" font-weight="bold" fill="#0a6cf5">A</text>
<text transform="translate(1434.5 550.5) scale(1.454 1.257)" font-size="10" font-weight="bold" fill="#0a6cf5">A</text>
<text transform="translate(1320 578.8) scale(1.718 2.402)" font-size="10" font-weight="bold" fill="#7a10c8">T</text>
<text transform="translate(1331.1 578.8) scale(1.718 2.402)" font-size="10" font-weight="bold" fill="#7a10c8">T</text>
<text transform="translate(1342.2 578.5) scale(1.454 2.865)" font-size="10" font-weight="bold" fill="#ffa000">C</text>
<text transform="translate(1353.3 578.7) scale(1.454 0.669)" font-size="10" font-weight="bold" fill="#ffa000">C</text>
<text transform="translate(1353.3 573.8) scale(1.454 0.566)" font-size="10" font-weight="bold" fill="#0a6cf5">A</text>
<text transform="translate(1364.4 578.8) scale(1.454 1.117)" font-size="10" font-weight="bold" fill="#0a6cf5">A</text>
<text transform="translate(1375.5 578.8) scale(1.454 0.538)" font-size="10" font-weight="bold" fill="#0a6cf5">A</text>
<text transform="translate(1375.5 574.9) scale(1.350 0.426)" font-size="10" font-weight="bold" fill="#ff3a0a">G</text>
<text transform="translate(1386.6 578.5) scale(1.350 2.662)" font-size="10" font-weight="bold" fill="#ff3a0a">G</text>
<text transform="translate(1397.7 578.8) scale(1.454 2.751)" font-size="10" font-weight="bold" fill="#0a6cf5">A</text>
<text transform="translate(1408.8 578.8) scale(1.454 2.751)" font-size="10" font-weight="bold" fill="#0a6cf5">A</text>
<rect x="1420.1" y="577.9" width="10.1" height="0.9" fill="#7a10c8" fill-opacity="0.55"/>
<rect x="1318.7" y="607.7" width="10.1" height="0.9" fill="#ffa000" fill-opacity="0.55"/>
<text transform="translate(1329.6 608.6) scale(1.718 2.542)" font-size="10" font-weight="bold" fill="#7a10c8">T</text>
<text transform="translate(1340.7 608.6) scale(1.718 2.263)" font-size="10" font-weight="bold" fill="#7a10c8">T</text>
<text transform="translate(1351.8 608.3) scale(1.454 2.459)" font-size="10" font-weight="bold" fill="#ffa000">C</text>
<text transform="translate(1362.9 608.6) scale(1.718 0.978)" font-size="10" font-weight="bold" fill="#7a10c8">T</text>
<text transform="translate(1374 608.6) scale(1.718 0.838)" font-size="10" font-weight="bold" fill="#7a10c8">T</text>
<text transform="translate(1374 602.5) scale(1.350 0.541)" font-size="10" font-weight="bold" fill="#ff3a0a">G</text>
<text transform="translate(1385.1 608.6) scale(1.454 0.698)" font-size="10" font-weight="bold" fill="#0a6cf5">A</text>
<text transform="translate(1396.2 608.3) scale(1.350 2.324)" font-size="10" font-weight="bold" fill="#ff3a0a">G</text>
<text transform="translate(1407.3 608.6) scale(1.454 1.676)" font-size="10" font-weight="bold" fill="#0a6cf5">A</text>
<text transform="translate(1418.4 608.6) scale(1.454 2.682)" font-size="10" font-weight="bold" fill="#0a6cf5">A</text>
<rect x="1429.7" y="607.7" width="10.1" height="0.9" fill="#ff3a0a" fill-opacity="0.55"/>
<rect x="1440.8" y="607.7" width="10.1" height="0.9" fill="#ff3a0a" fill-opacity="0.55"/>
<rect x="1296" y="637.4" width="10.1" height="0.9" fill="#7a10c8" fill-opacity="0.55"/>
<text transform="translate(1306.9 638.3) scale(1.454 0.149)" font-size="10" font-weight="bold" fill="#ffa000">C</text>
<text transform="translate(1306.9 637.2) scale(1.454 0.126)" font-size="10" font-weight="bold" fill="#0a6cf5">A</text>
<text transform="translate(1318 638.3) scale(1.454 0.297)" font-size="10" font-weight="bold" fill="#ffa000">C</text>
<text transform="translate(1318 636.1) scale(1.454 0.251)" font-size="10" font-weight="bold" fill="#0a6cf5">A</text>
<text transform="translate(1329.1 638.3) scale(1.718 0.838)" font-size="10" font-weight="bold" fill="#7a10c8">T</text>
<text transform="translate(1340.2 638.3) scale(1.718 0.559)" font-size="10" font-weight="bold" fill="#7a10c8">T</text>
<text transform="translate(1351.3 638.3) scale(1.718 1.969)" font-size="10" font-weight="bold" fill="#7a10c8">T</text>
<text transform="translate(1362.4 638.1) scale(1.454 1.770)" font-size="10" font-weight="bold" fill="#ffa000">C</text>
<text transform="translate(1373.5 638.3) scale(1.454 0.372)" font-size="10" font-weight="bold" fill="#ffa000">C</text>
<text transform="translate(1373.5 635.5) scale(1.350 0.304)" font-size="10" font-weight="bold" fill="#ff3a0a">G</text>
<text transform="translate(1384.6 638.3) scale(1.454 2.542)" font-size="10" font-weight="bold" fill="#0a6cf5">A</text>
<text transform="translate(1395.7 638.1) scale(1.350 1.500)" font-size="10" font-weight="bold" fill="#ff3a0a">G</text>
<text transform="translate(1406.8 638.1) scale(1.350 1.500)" font-size="10" font-weight="bold" fill="#ff3a0a">G</text>
<text transform="translate(1417.9 638.3) scale(1.454 0.559)" font-size="10" font-weight="bold" fill="#0a6cf5">A</text>
<text transform="translate(1429 638.3) scale(1.454 1.257)" font-size="10" font-weight="bold" fill="#0a6cf5">A</text>
<text transform="translate(1692.3 519.4) scale(1.337 0.520)" font-size="10" font-weight="bold" fill="#ff3a0a">G</text>
<text transform="translate(1692.3 515.6) scale(1.702 0.440)" font-size="10" font-weight="bold" fill="#7a10c8">T</text>
<text transform="translate(1703.3 519.2) scale(1.337 2.351)" font-size="10" font-weight="bold" fill="#ff3a0a">G</text>
<rect x="1714.5" y="518.6" width="10" height="0.9" fill="#ff3a0a" fill-opacity="0.55"/>
<text transform="translate(1725.3 519.5) scale(1.440 2.263)" font-size="10" font-weight="bold" fill="#0a6cf5">A</text>
<text transform="translate(1736.3 519.2) scale(1.440 2.500)" font-size="10" font-weight="bold" fill="#ffa000">C</text>
<text transform="translate(1747.3 519.5) scale(1.440 1.453)" font-size="10" font-weight="bold" fill="#0a6cf5">A</text>
<rect x="1758.5" y="518.6" width="10" height="0.9" fill="#0a6cf5" fill-opacity="0.55"/>
<text transform="translate(1769.3 519.5) scale(1.702 0.838)" font-size="10" font-weight="bold" fill="#7a10c8">T</text>
<text transform="translate(1769.3 513.4) scale(1.337 0.541)" font-size="10" font-weight="bold" fill="#ff3a0a">G</text>
<rect x="1780.5" y="518.6" width="10" height="0.9" fill="#ffa000" fill-opacity="0.55"/>
<text transform="translate(1791.3 519.5) scale(1.702 1.620)" font-size="10" font-weight="bold" fill="#7a10c8">T</text>
<text transform="translate(1802.3 519.2) scale(1.337 2.743)" font-size="10" font-weight="bold" fill="#ff3a0a">G</text>
<text transform="translate(1813.3 519.5) scale(1.702 2.263)" font-size="10" font-weight="bold" fill="#7a10c8">T</text>
<rect x="1824.5" y="518.6" width="10" height="0.9" fill="#ff3a0a" fill-opacity="0.55"/>
<text transform="translate(1835.3 519.2) scale(1.440 2.189)" font-size="10" font-weight="bold" fill="#ffa000">C</text>
<text transform="translate(1846.3 519.4) scale(1.440 0.676)" font-size="10" font-weight="bold" fill="#ffa000">C</text>
<text transform="translate(1846.3 514.5) scale(1.702 0.279)" font-size="10" font-weight="bold" fill="#7a10c8">T</text>
<rect x="1857.5" y="518.6" width="10" height="0.9" fill="#7a10c8" fill-opacity="0.55"/>
<text transform="translate(1691.1 550.6) scale(1.440 0.307)" font-size="10" font-weight="bold" fill="#0a6cf5">A</text>
<text transform="translate(1691.1 548.4) scale(1.440 0.243)" font-size="10" font-weight="bold" fill="#ffa000">C</text>
<text transform="translate(1702.1 550.4) scale(1.337 1.649)" font-size="10" font-weight="bold" fill="#ff3a0a">G</text>
<text transform="translate(1724.1 550.6) scale(1.440 1.858)" font-size="10" font-weight="bold" fill="#0a6cf5">A</text>
<text transform="translate(1735.1 550.3) scale(1.440 2.581)" font-size="10" font-weight="bold" fill="#ffa000">C</text>
<text transform="translate(1746.1 550.6) scale(1.440 1.620)" font-size="10" font-weight="bold" fill="#0a6cf5">A</text>
<rect x="1757.3" y="549.7" width="10" height="0.9" fill="#ff3a0a" fill-opacity="0.55"/>
<text transform="translate(1768.1 550.6) scale(1.440 0.838)" font-size="10" font-weight="bold" fill="#0a6cf5">A</text>
<text transform="translate(1768.1 544.5) scale(1.337 0.541)" font-size="10" font-weight="bold" fill="#ff3a0a">G</text>
<rect x="1779.3" y="549.7" width="10" height="0.9" fill="#7a10c8" fill-opacity="0.55"/>
<text transform="translate(1790.1 550.6) scale(1.702 0.698)" font-size="10" font-weight="bold" fill="#7a10c8">T</text>
<text transform="translate(1801.1 550.3) scale(1.337 2.500)" font-size="10" font-weight="bold" fill="#ff3a0a">G</text>
<text transform="translate(1812.1 550.6) scale(1.702 1.955)" font-size="10" font-weight="bold" fill="#7a10c8">T</text>
<rect x="1823.3" y="549.7" width="10" height="0.9" fill="#0a6cf5" fill-opacity="0.55"/>
<text transform="translate(1834.1 550.4) scale(1.440 1.716)" font-size="10" font-weight="bold" fill="#ffa000">C</text>
<text transform="translate(1845.1 550.6) scale(1.440 0.230)" font-size="10" font-weight="bold" fill="#0a6cf5">A</text>
<text transform="translate(1845.1 549) scale(1.702 0.189)" font-size="10" font-weight="bold" fill="#7a10c8">T</text>
<text transform="translate(1691.1 579) scale(1.440 0.461)" font-size="10" font-weight="bold" fill="#0a6cf5">A</text>
<text transform="translate(1691.1 575.7) scale(1.702 0.377)" font-size="10" font-weight="bold" fill="#7a10c8">T</text>
<text transform="translate(1702.1 578.8) scale(1.337 1.405)" font-size="10" font-weight="bold" fill="#ff3a0a">G</text>
<rect x="1713.3" y="578.1" width="10" height="0.9" fill="#0a6cf5" fill-opacity="0.55"/>
<text transform="translate(1724.1 579) scale(1.440 2.095)" font-size="10" font-weight="bold" fill="#0a6cf5">A</text>
<text transform="translate(1735.1 578.7) scale(1.440 2.351)" font-size="10" font-weight="bold" fill="#ffa000">C</text>
<text transform="translate(1746.1 579) scale(1.440 1.257)" font-size="10" font-weight="bold" fill="#0a6cf5">A</text>
<rect x="1757.3" y="578.1" width="10" height="0.9" fill="#ffa000" fill-opacity="0.55"/>
<text transform="translate(1768.1 579) scale(1.440 0.838)" font-size="10" font-weight="bold" fill="#0a6cf5">A</text>
<text transform="translate(1768.1 572.9) scale(1.337 0.473)" font-size="10" font-weight="bold" fill="#ff3a0a">G</text>
<rect x="1779.3" y="578.1" width="10" height="0.9" fill="#0a6cf5" fill-opacity="0.55"/>
<text transform="translate(1790.1 579) scale(1.702 0.559)" font-size="10" font-weight="bold" fill="#7a10c8">T</text>
<text transform="translate(1801.1 578.7) scale(1.337 2.351)" font-size="10" font-weight="bold" fill="#ff3a0a">G</text>
<text transform="translate(1812.1 579) scale(1.702 1.955)" font-size="10" font-weight="bold" fill="#7a10c8">T</text>
<rect x="1823.3" y="578.1" width="10" height="0.9" fill="#7a10c8" fill-opacity="0.55"/>
<text transform="translate(1834.1 578.8) scale(1.440 1.568)" font-size="10" font-weight="bold" fill="#ffa000">C</text>
<text transform="translate(1845.1 579) scale(1.440 0.230)" font-size="10" font-weight="bold" fill="#0a6cf5">A</text>
<text transform="translate(1845.1 577.3) scale(1.337 0.182)" font-size="10" font-weight="bold" fill="#ff3a0a">G</text>
<rect x="1692.5" y="607.6" width="10" height="0.9" fill="#0a6cf5" fill-opacity="0.55"/>
<rect x="1703.5" y="607.6" width="10" height="0.9" fill="#0a6cf5" fill-opacity="0.55"/>
<text transform="translate(1714.3 608.4) scale(1.440 1.095)" font-size="10" font-weight="bold" fill="#ffa000">C</text>
<text transform="translate(1725.3 608.5) scale(1.702 2.668)" font-size="10" font-weight="bold" fill="#7a10c8">T</text>
<text transform="translate(1736.3 608.5) scale(1.440 2.668)" font-size="10" font-weight="bold" fill="#0a6cf5">A</text>
<text transform="translate(1747.3 608.5) scale(1.702 2.179)" font-size="10" font-weight="bold" fill="#7a10c8">T</text>
<text transform="translate(1758.3 608.5) scale(1.702 1.774)" font-size="10" font-weight="bold" fill="#7a10c8">T</text>
<text transform="translate(1769.3 608.5) scale(1.702 1.774)" font-size="10" font-weight="bold" fill="#7a10c8">T</text>
<text transform="translate(1780.3 608.5) scale(1.702 0.628)" font-size="10" font-weight="bold" fill="#7a10c8">T</text>
<text transform="translate(1791.3 608.5) scale(1.702 1.620)" font-size="10" font-weight="bold" fill="#7a10c8">T</text>
<text transform="translate(1802.3 608.5) scale(1.440 1.257)" font-size="10" font-weight="bold" fill="#0a6cf5">A</text>
<text transform="translate(1802.3 599.5) scale(1.337 0.270)" font-size="10" font-weight="bold" fill="#ff3a0a">G</text>
<text transform="translate(1813.3 608.4) scale(1.337 0.946)" font-size="10" font-weight="bold" fill="#ff3a0a">G</text>
<rect x="1824.5" y="607.6" width="10" height="0.9" fill="#ffa000" fill-opacity="0.55"/>
<rect x="1835.5" y="607.6" width="10" height="0.9" fill="#7a10c8" fill-opacity="0.55"/>
<rect x="1691.3" y="637.1" width="10" height="0.9" fill="#ffa000" fill-opacity="0.55"/>
<rect x="1702.3" y="637.1" width="10" height="0.9" fill="#ff3a0a" fill-opacity="0.55"/>
<text transform="translate(1713.1 637.9) scale(1.440 0.932)" font-size="10" font-weight="bold" fill="#ffa000">C</text>
<text transform="translate(1724.1 638) scale(1.702 2.025)" font-size="10" font-weight="bold" fill="#7a10c8">T</text>
<text transform="translate(1735.1 638) scale(1.440 2.095)" font-size="10" font-weight="bold" fill="#0a6cf5">A</text>
<text transform="translate(1746.1 638) scale(1.702 1.955)" font-size="10" font-weight="bold" fill="#7a10c8">T</text>
<text transform="translate(1757.1 638) scale(1.702 2.095)" font-size="10" font-weight="bold" fill="#7a10c8">T</text>
<text transform="translate(1768.1 638) scale(1.702 1.774)" font-size="10" font-weight="bold" fill="#7a10c8">T</text>
<text transform="translate(1779.1 638) scale(1.702 0.810)" font-size="10" font-weight="bold" fill="#7a10c8">T</text>
<text transform="translate(1790.1 638) scale(1.702 0.964)" font-size="10" font-weight="bold" fill="#7a10c8">T</text>
<text transform="translate(1801.1 638) scale(1.440 0.838)" font-size="10" font-weight="bold" fill="#0a6cf5">A</text>
<text transform="translate(1801.1 631.9) scale(1.337 0.473)" font-size="10" font-weight="bold" fill="#ff3a0a">G</text>
<text transform="translate(1812.1 637.9) scale(1.337 0.622)" font-size="10" font-weight="bold" fill="#ff3a0a">G</text>
<rect x="1823.3" y="637.1" width="10" height="0.9" fill="#0a6cf5" fill-opacity="0.55"/>
<rect x="1834.3" y="637.1" width="10" height="0.9" fill="#ff3a0a" fill-opacity="0.55"/>
<text x="6" y="729.5" font-size="58">d</text>
<rect x="149.6" y="734.8" width="7.8" height="45.8" fill="#1ea6ff"/>
<rect x="157.4" y="734.8" width="23.3" height="45.8" fill="#0a9eff"/>
<rect x="180.6" y="734.8" width="7.8" height="45.8" fill="#7ac9ff"/>
<rect x="188.4" y="734.8" width="23.3" height="45.8" fill="#0a9eff"/>
<rect x="211.7" y="734.8" width="7.8" height="45.8" fill="#1ea6ff"/>
<rect x="219.4" y="734.8" width="7.8" height="45.8" fill="#38b0ff"/>
<rect x="227.2" y="734.8" width="7.8" height="45.8" fill="#1ea6ff"/>
<rect x="235" y="734.8" width="15.5" height="45.8" fill="#0a9eff"/>
<rect x="250.5" y="734.8" width="7.8" height="45.8" fill="#d0ecfb"/>
<rect x="258.3" y="734.8" width="7.8" height="45.8" fill="#0a9eff"/>
<rect x="266" y="734.8" width="7.8" height="45.8" fill="#1ea6ff"/>
<rect x="273.8" y="734.8" width="15.5" height="45.8" fill="#0a9eff"/>
<rect x="289.3" y="734.8" width="7.8" height="45.8" fill="#1ea6ff"/>
<rect x="297.1" y="734.8" width="7.8" height="45.8" fill="#0a9eff"/>
<rect x="304.8" y="734.8" width="23.3" height="45.8" fill="#1ea6ff"/>
<rect x="328.1" y="734.8" width="15.5" height="45.8" fill="#0a9eff"/>
<rect x="343.6" y="734.8" width="15.5" height="45.8" fill="#1ea6ff"/>
<rect x="359.1" y="734.8" width="7.8" height="45.8" fill="#38b0ff"/>
<rect x="366.9" y="734.8" width="7.8" height="45.8" fill="#0a9eff"/>
<rect x="374.7" y="734.8" width="7.8" height="45.8" fill="#1ea6ff"/>
<rect x="382.4" y="734.8" width="23.3" height="45.8" fill="#0a9eff"/>
<rect x="405.7" y="734.8" width="7.8" height="45.8" fill="#1ea6ff"/>
<rect x="413.5" y="734.8" width="7.8" height="45.8" fill="#38b0ff"/>
<rect x="421.2" y="734.8" width="7.8" height="45.8" fill="#0a9eff"/>
<rect x="429" y="734.8" width="7.8" height="45.8" fill="#1ea6ff"/>
<rect x="436.8" y="734.8" width="46.6" height="45.8" fill="#0a9eff"/>
<rect x="483.3" y="734.8" width="7.8" height="45.8" fill="#1ea6ff"/>
<rect x="491.1" y="734.8" width="7.8" height="45.8" fill="#38b0ff"/>
<rect x="498.8" y="734.8" width="15.5" height="45.8" fill="#0a9eff"/>
<rect x="514.4" y="734.8" width="7.8" height="45.8" fill="#1ea6ff"/>
<rect x="522.1" y="734.8" width="69.8" height="45.8" fill="#0a9eff"/>
<rect x="592" y="734.8" width="7.8" height="45.8" fill="#1ea6ff"/>
<rect x="599.7" y="734.8" width="7.8" height="45.8" fill="#0a9eff"/>
<rect x="607.5" y="734.8" width="7.8" height="45.8" fill="#d0ecfb"/>
<rect x="615.3" y="734.8" width="7.8" height="45.8" fill="#1ea6ff"/>
<rect x="623" y="734.8" width="7.8" height="45.8" fill="#38b0ff"/>
<rect x="630.8" y="734.8" width="69.8" height="45.8" fill="#0a9eff"/>
<rect x="700.6" y="734.8" width="7.8" height="45.8" fill="#38b0ff"/>
<rect x="708.4" y="734.8" width="38.8" height="45.8" fill="#0a9eff"/>
<rect x="747.2" y="734.8" width="7.8" height="45.8" fill="#38b0ff"/>
<rect x="755" y="734.8" width="7.8" height="45.8" fill="#0a9eff"/>
<rect x="762.7" y="734.8" width="7.8" height="45.8" fill="#38b0ff"/>
<rect x="770.5" y="734.8" width="15.5" height="45.8" fill="#1ea6ff"/>
<rect x="786" y="734.8" width="7.8" height="45.8" fill="#38b0ff"/>
<rect x="793.8" y="734.8" width="7.8" height="45.8" fill="#1ea6ff"/>
<rect x="801.5" y="734.8" width="7.8" height="45.8" fill="#38b0ff"/>
<rect x="809.3" y="734.8" width="7.8" height="45.8" fill="#1ea6ff"/>
<rect x="817" y="734.8" width="7.8" height="45.8" fill="#0a9eff"/>
<rect x="824.8" y="734.8" width="7.8" height="45.8" fill="#1ea6ff"/>
<rect x="832.6" y="734.8" width="54.3" height="45.8" fill="#0a9eff"/>
<rect x="886.9" y="734.8" width="7.8" height="45.8" fill="#1ea6ff"/>
<rect x="894.7" y="734.8" width="15.5" height="45.8" fill="#0a9eff"/>
<rect x="910.2" y="734.8" width="7.8" height="45.8" fill="#fafafa"/>
<rect x="917.9" y="734.8" width="7.8" height="45.8" fill="#38b0ff"/>
<rect x="925.7" y="734.8" width="15.5" height="45.8" fill="#0a9eff"/>
<rect x="941.2" y="734.8" width="31" height="45.8" fill="#1ea6ff"/>
<rect x="972.3" y="734.8" width="7.8" height="45.8" fill="#56bcff"/>
<rect x="980" y="734.8" width="7.8" height="45.8" fill="#0a9eff"/>
<rect x="987.8" y="734.8" width="7.8" height="45.8" fill="#38b0ff"/>
<rect x="995.5" y="734.8" width="7.8" height="45.8" fill="#98d5fb"/>
<rect x="1003.3" y="734.8" width="7.8" height="45.8" fill="#b4e0fa"/>
<rect x="1011.1" y="734.8" width="7.8" height="45.8" fill="#1ea6ff"/>
<rect x="1018.8" y="734.8" width="7.8" height="45.8" fill="#38b0ff"/>
<rect x="1026.6" y="734.8" width="15.5" height="45.8" fill="#1ea6ff"/>
<rect x="1042.1" y="734.8" width="7.8" height="45.8" fill="#38b0ff"/>
<rect x="1049.9" y="734.8" width="7.8" height="45.8" fill="#1ea6ff"/>
<rect x="1057.6" y="734.8" width="31" height="45.8" fill="#0a9eff"/>
<rect x="1088.7" y="734.8" width="7.8" height="45.8" fill="#38b0ff"/>
<rect x="1096.4" y="734.8" width="69.8" height="45.8" fill="#0a9eff"/>
<rect x="1166.3" y="734.8" width="7.8" height="45.8" fill="#38b0ff"/>
<rect x="1174.1" y="734.8" width="38.8" height="45.8" fill="#0a9eff"/>
<rect x="1212.9" y="734.8" width="7.8" height="45.8" fill="#1ea6ff"/>
<rect x="1220.6" y="734.8" width="7.8" height="45.8" fill="#e8f6fe"/>
<rect x="1228.4" y="734.8" width="7.8" height="45.8" fill="#0a9eff"/>
<rect x="1236.1" y="734.8" width="7.8" height="45.8" fill="#7ac9ff"/>
<rect x="1243.9" y="734.8" width="7.8" height="45.8" fill="#1ea6ff"/>
<rect x="1251.7" y="734.8" width="7.8" height="45.8" fill="#b4e0fa"/>
<rect x="1259.4" y="734.8" width="7.8" height="45.8" fill="#7ac9ff"/>
<rect x="1267.2" y="734.8" width="7.8" height="45.8" fill="#b4e0fa"/>
<rect x="1274.9" y="734.8" width="7.8" height="45.8" fill="#ececec"/>
<rect x="1282.7" y="734.8" width="7.8" height="45.8" fill="#d0ecfb"/>
<rect x="1290.5" y="734.8" width="7.8" height="45.8" fill="#e8f6fe"/>
<rect x="1298.2" y="734.8" width="7.8" height="45.8" fill="#38b0ff"/>
<rect x="1306" y="734.8" width="23.3" height="45.8" fill="#0a9eff"/>
<rect x="1329.3" y="734.8" width="7.8" height="45.8" fill="#38b0ff"/>
<rect x="1337" y="734.8" width="7.8" height="45.8" fill="#fafafa"/>
<rect x="1344.8" y="734.8" width="7.8" height="45.8" fill="#ececec"/>
<rect x="1352.6" y="734.8" width="7.8" height="45.8" fill="#38b0ff"/>
<rect x="1360.3" y="734.8" width="7.8" height="45.8" fill="#56bcff"/>
<rect x="1368.1" y="734.8" width="7.8" height="45.8" fill="#38b0ff"/>
<rect x="1375.8" y="734.8" width="7.8" height="45.8" fill="#d0ecfb"/>
<rect x="1383.6" y="734.8" width="7.8" height="45.8" fill="#e8f6fe"/>
<rect x="1391.4" y="734.8" width="7.8" height="45.8" fill="#d0ecfb"/>
<rect x="1399.1" y="734.8" width="7.8" height="45.8" fill="#979797"/>
<rect x="1406.9" y="734.8" width="7.8" height="45.8" fill="#c0c0c0"/>
<rect x="1414.6" y="734.8" width="7.8" height="45.8" fill="#a4a4a4"/>
<rect x="1422.4" y="734.8" width="7.8" height="45.8" fill="#979797"/>
<rect x="1430.2" y="734.8" width="15.5" height="45.8" fill="#a4a4a4"/>
<rect x="1445.7" y="734.8" width="31" height="45.8" fill="#b2b2b2"/>
<rect x="1476.7" y="734.8" width="15.5" height="45.8" fill="#979797"/>
<rect x="1492.3" y="734.8" width="15.5" height="45.8" fill="#c0c0c0"/>
<rect x="1507.8" y="734.8" width="7.8" height="45.8" fill="#a4a4a4"/>
<rect x="1515.5" y="734.8" width="15.5" height="45.8" fill="#979797"/>
<rect x="1531.1" y="734.8" width="7.8" height="45.8" fill="#c0c0c0"/>
<rect x="1538.8" y="734.8" width="7.8" height="45.8" fill="#979797"/>
<rect x="1546.6" y="734.8" width="7.8" height="45.8" fill="#a4a4a4"/>
<rect x="1554.3" y="734.8" width="7.8" height="45.8" fill="#c0c0c0"/>
<rect x="1562.1" y="734.8" width="7.8" height="45.8" fill="#979797"/>
<rect x="1569.9" y="734.8" width="15.5" height="45.8" fill="#c0c0c0"/>
<rect x="1585.4" y="734.8" width="31" height="45.8" fill="#979797"/>
<rect x="1616.4" y="734.8" width="7.8" height="45.8" fill="#b2b2b2"/>
<rect x="1624.2" y="734.8" width="7.8" height="45.8" fill="#c0c0c0"/>
<rect x="1632" y="734.8" width="15.5" height="45.8" fill="#a4a4a4"/>
<rect x="1647.5" y="734.8" width="7.8" height="45.8" fill="#c0c0c0"/>
<rect x="1655.2" y="734.8" width="7.8" height="45.8" fill="#a4a4a4"/>
<rect x="1663" y="734.8" width="23.3" height="45.8" fill="#979797"/>
<rect x="1686.3" y="734.8" width="7.8" height="45.8" fill="#c0c0c0"/>
<rect x="1694" y="734.8" width="7.8" height="45.8" fill="#a4a4a4"/>
<rect x="1701.8" y="734.8" width="15.5" height="45.8" fill="#979797"/>
<rect x="1717.3" y="734.8" width="7.8" height="45.8" fill="#b2b2b2"/>
<rect x="1725.1" y="734.8" width="15.5" height="45.8" fill="#979797"/>
<rect x="1740.6" y="734.8" width="7.8" height="45.8" fill="#c0c0c0"/>
<rect x="1748.4" y="734.8" width="15.5" height="45.8" fill="#979797"/>
<rect x="1763.9" y="734.8" width="7.8" height="45.8" fill="#c0c0c0"/>
<rect x="1771.6" y="734.8" width="7.8" height="45.8" fill="#a4a4a4"/>
<rect x="1779.4" y="734.8" width="7.8" height="45.8" fill="#c0c0c0"/>
<rect x="1787.2" y="734.8" width="15.5" height="45.8" fill="#a4a4a4"/>
<rect x="1802.7" y="734.8" width="15.5" height="45.8" fill="#979797"/>
<rect x="1818.2" y="734.8" width="7.8" height="45.8" fill="#a4a4a4"/>
<rect x="1826" y="734.8" width="23.3" height="45.8" fill="#979797"/>
<rect x="1849.3" y="734.8" width="7.8" height="45.8" fill="#c0c0c0"/>
<rect x="149.6" y="780.5" width="7.8" height="45.8" fill="#e8f6fe"/>
<rect x="157.4" y="780.5" width="7.8" height="45.8" fill="#d0ecfb"/>
<rect x="165.1" y="780.5" width="7.8" height="45.8" fill="#b4e0fa"/>
<rect x="172.9" y="780.5" width="7.8" height="45.8" fill="#fafafa"/>
<rect x="180.6" y="780.5" width="7.8" height="45.8" fill="#ececec"/>
<rect x="188.4" y="780.5" width="7.8" height="45.8" fill="#fafafa"/>
<rect x="196.2" y="780.5" width="7.8" height="45.8" fill="#7ac9ff"/>
<rect x="203.9" y="780.5" width="7.8" height="45.8" fill="#e8f6fe"/>
<rect x="211.7" y="780.5" width="7.8" height="45.8" fill="#ececec"/>
<rect x="219.4" y="780.5" width="7.8" height="45.8" fill="#d0ecfb"/>
<rect x="227.2" y="780.5" width="7.8" height="45.8" fill="#b4e0fa"/>
<rect x="235" y="780.5" width="7.8" height="45.8" fill="#98d5fb"/>
<rect x="242.7" y="780.5" width="23.3" height="45.8" fill="#e8f6fe"/>
<rect x="266" y="780.5" width="7.8" height="45.8" fill="#d0ecfb"/>
<rect x="273.8" y="780.5" width="15.5" height="45.8" fill="#b4e0fa"/>
<rect x="289.3" y="780.5" width="7.8" height="45.8" fill="#d0ecfb"/>
<rect x="297.1" y="780.5" width="23.3" height="45.8" fill="#b4e0fa"/>
<rect x="320.3" y="780.5" width="7.8" height="45.8" fill="#fafafa"/>
<rect x="328.1" y="780.5" width="7.8" height="45.8" fill="#b4e0fa"/>
<rect x="335.9" y="780.5" width="7.8" height="45.8" fill="#98d5fb"/>
<rect x="343.6" y="780.5" width="23.3" height="45.8" fill="#e8f6fe"/>
<rect x="366.9" y="780.5" width="7.8" height="45.8" fill="#d0ecfb"/>
<rect x="374.7" y="780.5" width="7.8" height="45.8" fill="#b4e0fa"/>
<rect x="382.4" y="780.5" width="7.8" height="45.8" fill="#fafafa"/>
<rect x="390.2" y="780.5" width="7.8" height="45.8" fill="#b4e0fa"/>
<rect x="398" y="780.5" width="7.8" height="45.8" fill="#e8f6fe"/>
<rect x="405.7" y="780.5" width="7.8" height="45.8" fill="#b4e0fa"/>
<rect x="413.5" y="780.5" width="7.8" height="45.8" fill="#fafafa"/>
<rect x="421.2" y="780.5" width="7.8" height="45.8" fill="#b4e0fa"/>
<rect x="429" y="780.5" width="7.8" height="45.8" fill="#e8f6fe"/>
<rect x="436.8" y="780.5" width="7.8" height="45.8" fill="#d0ecfb"/>
<rect x="444.5" y="780.5" width="7.8" height="45.8" fill="#e8f6fe"/>
<rect x="452.3" y="780.5" width="7.8" height="45.8" fill="#d0ecfb"/>
<rect x="460" y="780.5" width="7.8" height="45.8" fill="#b4e0fa"/>
<rect x="467.8" y="780.5" width="7.8" height="45.8" fill="#d0ecfb"/>
<rect x="475.6" y="780.5" width="7.8" height="45.8" fill="#b4e0fa"/>
<rect x="483.3" y="780.5" width="15.5" height="45.8" fill="#fafafa"/>
<rect x="498.8" y="780.5" width="7.8" height="45.8" fill="#b4e0fa"/>
<rect x="506.6" y="780.5" width="7.8" height="45.8" fill="#e8f6fe"/>
<rect x="514.4" y="780.5" width="7.8" height="45.8" fill="#fafafa"/>
<rect x="522.1" y="780.5" width="23.3" height="45.8" fill="#56bcff"/>
<rect x="545.4" y="780.5" width="7.8" height="45.8" fill="#d0ecfb"/>
<rect x="553.2" y="780.5" width="7.8" height="45.8" fill="#e8f6fe"/>
<rect x="560.9" y="780.5" width="15.5" height="45.8" fill="#fafafa"/>
<rect x="576.5" y="780.5" width="7.8" height="45.8" fill="#b4e0fa"/>
<rect x="584.2" y="780.5" width="7.8" height="45.8" fill="#d0ecfb"/>
<rect x="592" y="780.5" width="7.8" height="45.8" fill="#fafafa"/>
<rect x="599.7" y="780.5" width="7.8" height="45.8" fill="#ececec"/>
<rect x="607.5" y="780.5" width="7.8" height="45.8" fill="#d6d6d6"/>
<rect x="615.3" y="780.5" width="7.8" height="45.8" fill="#fafafa"/>
<rect x="623" y="780.5" width="15.5" height="45.8" fill="#e8f6fe"/>
<rect x="638.5" y="780.5" width="7.8" height="45.8" fill="#d0ecfb"/>
<rect x="646.3" y="780.5" width="7.8" height="45.8" fill="#98d5fb"/>
<rect x="654.1" y="780.5" width="7.8" height="45.8" fill="#e8f6fe"/>
<rect x="661.8" y="780.5" width="15.5" height="45.8" fill="#d0ecfb"/>
<rect x="677.3" y="780.5" width="7.8" height="45.8" fill="#fafafa"/>
<rect x="685.1" y="780.5" width="7.8" height="45.8" fill="#d0ecfb"/>
<rect x="692.9" y="780.5" width="7.8" height="45.8" fill="#b4e0fa"/>
<rect x="700.6" y="780.5" width="7.8" height="45.8" fill="#ececec"/>
<rect x="708.4" y="780.5" width="7.8" height="45.8" fill="#b4e0fa"/>
<rect x="716.2" y="780.5" width="7.8" height="45.8" fill="#fafafa"/>
<rect x="723.9" y="780.5" width="7.8" height="45.8" fill="#98d5fb"/>
<rect x="731.7" y="780.5" width="7.8" height="45.8" fill="#b4e0fa"/>
<rect x="739.4" y="780.5" width="7.8" height="45.8" fill="#d0ecfb"/>
<rect x="747.2" y="780.5" width="7.8" height="45.8" fill="#fafafa"/>
<rect x="755" y="780.5" width="7.8" height="45.8" fill="#98d5fb"/>
<rect x="762.7" y="780.5" width="7.8" height="45.8" fill="#e8f6fe"/>
<rect x="770.5" y="780.5" width="7.8" height="45.8" fill="#98d5fb"/>
<rect x="778.2" y="780.5" width="7.8" height="45.8" fill="#e8f6fe"/>
<rect x="786" y="780.5" width="15.5" height="45.8" fill="#ececec"/>
<rect x="801.5" y="780.5" width="7.8" height="45.8" fill="#e8f6fe"/>
<rect x="809.3" y="780.5" width="7.8" height="45.8" fill="#fafafa"/>
<rect x="817" y="780.5" width="15.5" height="45.8" fill="#e8f6fe"/>
<rect x="832.6" y="780.5" width="7.8" height="45.8" fill="#98d5fb"/>
<rect x="840.3" y="780.5" width="7.8" height="45.8" fill="#e8f6fe"/>
<rect x="848.1" y="780.5" width="7.8" height="45.8" fill="#d0ecfb"/>
<rect x="855.9" y="780.5" width="7.8" height="45.8" fill="#38b0ff"/>
<rect x="863.6" y="780.5" width="7.8" height="45.8" fill="#d0ecfb"/>
<rect x="871.4" y="780.5" width="7.8" height="45.8" fill="#b4e0fa"/>
<rect x="879.1" y="780.5" width="7.8" height="45.8" fill="#e8f6fe"/>
<rect x="886.9" y="780.5" width="7.8" height="45.8" fill="#fafafa"/>
<rect x="894.7" y="780.5" width="7.8" height="45.8" fill="#d0ecfb"/>
<rect x="902.4" y="780.5" width="7.8" height="45.8" fill="#38b0ff"/>
<rect x="910.2" y="780.5" width="7.8" height="45.8" fill="#d6d6d6"/>
<rect x="917.9" y="780.5" width="7.8" height="45.8" fill="#e8f6fe"/>
<rect x="925.7" y="780.5" width="7.8" height="45.8" fill="#38b0ff"/>
<rect x="933.5" y="780.5" width="31" height="45.8" fill="#b2b2b2"/>
<rect x="964.5" y="780.5" width="7.8" height="45.8" fill="#c0c0c0"/>
<rect x="972.3" y="780.5" width="15.5" height="45.8" fill="#b2b2b2"/>
<rect x="987.8" y="780.5" width="23.3" height="45.8" fill="#c0c0c0"/>
<rect x="1011.1" y="780.5" width="7.8" height="45.8" fill="#a4a4a4"/>
<rect x="1018.8" y="780.5" width="7.8" height="45.8" fill="#c0c0c0"/>
<rect x="1026.6" y="780.5" width="23.3" height="45.8" fill="#b2b2b2"/>
<rect x="1049.9" y="780.5" width="7.8" height="45.8" fill="#c0c0c0"/>
<rect x="1057.6" y="780.5" width="15.5" height="45.8" fill="#a4a4a4"/>
<rect x="1073.2" y="780.5" width="15.5" height="45.8" fill="#b2b2b2"/>
<rect x="1088.7" y="780.5" width="7.8" height="45.8" fill="#c0c0c0"/>
<rect x="1096.4" y="780.5" width="7.8" height="45.8" fill="#a4a4a4"/>
<rect x="1104.2" y="780.5" width="7.8" height="45.8" fill="#b2b2b2"/>
<rect x="1112" y="780.5" width="7.8" height="45.8" fill="#c0c0c0"/>
<rect x="1119.7" y="780.5" width="23.3" height="45.8" fill="#b2b2b2"/>
<rect x="1143" y="780.5" width="7.8" height="45.8" fill="#c0c0c0"/>
<rect x="1150.8" y="780.5" width="23.3" height="45.8" fill="#b2b2b2"/>
<rect x="1174.1" y="780.5" width="7.8" height="45.8" fill="#c0c0c0"/>
<rect x="1181.8" y="780.5" width="7.8" height="45.8" fill="#a4a4a4"/>
<rect x="1189.6" y="780.5" width="7.8" height="45.8" fill="#c0c0c0"/>
<rect x="1197.3" y="780.5" width="7.8" height="45.8" fill="#b2b2b2"/>
<rect x="1205.1" y="780.5" width="7.8" height="45.8" fill="#979797"/>
<rect x="1212.9" y="780.5" width="15.5" height="45.8" fill="#a4a4a4"/>
<rect x="1228.4" y="780.5" width="7.8" height="45.8" fill="#b2b2b2"/>
<rect x="1236.1" y="780.5" width="7.8" height="45.8" fill="#c0c0c0"/>
<rect x="1243.9" y="780.5" width="15.5" height="45.8" fill="#a4a4a4"/>
<rect x="1259.4" y="780.5" width="7.8" height="45.8" fill="#c0c0c0"/>
<rect x="1267.2" y="780.5" width="7.8" height="45.8" fill="#b2b2b2"/>
<rect x="1274.9" y="780.5" width="23.3" height="45.8" fill="#a4a4a4"/>
<rect x="1298.2" y="780.5" width="7.8" height="45.8" fill="#b2b2b2"/>
<rect x="1306" y="780.5" width="15.5" height="45.8" fill="#a4a4a4"/>
<rect x="1321.5" y="780.5" width="7.8" height="45.8" fill="#b2b2b2"/>
<rect x="1329.3" y="780.5" width="7.8" height="45.8" fill="#a4a4a4"/>
<rect x="1337" y="780.5" width="7.8" height="45.8" fill="#b2b2b2"/>
<rect x="1344.8" y="780.5" width="7.8" height="45.8" fill="#a4a4a4"/>
<rect x="1352.6" y="780.5" width="7.8" height="45.8" fill="#b2b2b2"/>
<rect x="1360.3" y="780.5" width="15.5" height="45.8" fill="#c0c0c0"/>
<rect x="1375.8" y="780.5" width="15.5" height="45.8" fill="#a4a4a4"/>
<rect x="1391.4" y="780.5" width="7.8" height="45.8" fill="#c0c0c0"/>
<rect x="1399.1" y="780.5" width="7.8" height="45.8" fill="#d6d6d6"/>
<rect x="1406.9" y="780.5" width="7.8" height="45.8" fill="#fafafa"/>
<rect x="1414.6" y="780.5" width="7.8" height="45.8" fill="#98d5fb"/>
<rect x="1422.4" y="780.5" width="7.8" height="45.8" fill="#d0ecfb"/>
<rect x="1430.2" y="780.5" width="15.5" height="45.8" fill="#b4e0fa"/>
<rect x="1445.7" y="780.5" width="7.8" height="45.8" fill="#d0ecfb"/>
<rect x="1453.4" y="780.5" width="7.8" height="45.8" fill="#7ac9ff"/>
<rect x="1461.2" y="780.5" width="7.8" height="45.8" fill="#98d5fb"/>
<rect x="1469" y="780.5" width="7.8" height="45.8" fill="#7ac9ff"/>
<rect x="1476.7" y="780.5" width="15.5" height="45.8" fill="#d6d6d6"/>
<rect x="1492.3" y="780.5" width="7.8" height="45.8" fill="#c0c0c0"/>
<rect x="1500" y="780.5" width="7.8" height="45.8" fill="#fafafa"/>
<rect x="1507.8" y="780.5" width="7.8" height="45.8" fill="#ececec"/>
<rect x="1515.5" y="780.5" width="7.8" height="45.8" fill="#d6d6d6"/>
<rect x="1523.3" y="780.5" width="7.8" height="45.8" fill="#c0c0c0"/>
<rect x="1531.1" y="780.5" width="7.8" height="45.8" fill="#b2b2b2"/>
<rect x="1538.8" y="780.5" width="7.8" height="45.8" fill="#979797"/>
<rect x="1546.6" y="780.5" width="7.8" height="45.8" fill="#c0c0c0"/>
<rect x="1554.3" y="780.5" width="15.5" height="45.8" fill="#b2b2b2"/>
<rect x="1569.9" y="780.5" width="23.3" height="45.8" fill="#c0c0c0"/>
<rect x="1593.1" y="780.5" width="15.5" height="45.8" fill="#a4a4a4"/>
<rect x="1608.7" y="780.5" width="7.8" height="45.8" fill="#b2b2b2"/>
<rect x="1616.4" y="780.5" width="7.8" height="45.8" fill="#c0c0c0"/>
<rect x="1624.2" y="780.5" width="7.8" height="45.8" fill="#979797"/>
<rect x="1632" y="780.5" width="7.8" height="45.8" fill="#b2b2b2"/>
<rect x="1639.7" y="780.5" width="7.8" height="45.8" fill="#a4a4a4"/>
<rect x="1647.5" y="780.5" width="7.8" height="45.8" fill="#b2b2b2"/>
<rect x="1655.2" y="780.5" width="15.5" height="45.8" fill="#a4a4a4"/>
<rect x="1670.8" y="780.5" width="7.8" height="45.8" fill="#979797"/>
<rect x="1678.5" y="780.5" width="15.5" height="45.8" fill="#a4a4a4"/>
<rect x="1694" y="780.5" width="31" height="45.8" fill="#c0c0c0"/>
<rect x="1725.1" y="780.5" width="15.5" height="45.8" fill="#979797"/>
<rect x="1740.6" y="780.5" width="23.3" height="45.8" fill="#a4a4a4"/>
<rect x="1763.9" y="780.5" width="7.8" height="45.8" fill="#c0c0c0"/>
<rect x="1771.6" y="780.5" width="7.8" height="45.8" fill="#b2b2b2"/>
<rect x="1779.4" y="780.5" width="7.8" height="45.8" fill="#979797"/>
<rect x="1787.2" y="780.5" width="7.8" height="45.8" fill="#c0c0c0"/>
<rect x="1794.9" y="780.5" width="7.8" height="45.8" fill="#979797"/>
<rect x="1802.7" y="780.5" width="7.8" height="45.8" fill="#a4a4a4"/>
<rect x="1810.5" y="780.5" width="7.8" height="45.8" fill="#b2b2b2"/>
<rect x="1818.2" y="780.5" width="7.8" height="45.8" fill="#a4a4a4"/>
<rect x="1826" y="780.5" width="7.8" height="45.8" fill="#c0c0c0"/>
<rect x="1833.7" y="780.5" width="15.5" height="45.8" fill="#979797"/>
<rect x="1849.3" y="780.5" width="7.8" height="45.8" fill="#a4a4a4"/>
<rect x="149.6" y="826.3" width="7.8" height="45.8" fill="#98d5fb"/>
<rect x="157.4" y="826.3" width="7.8" height="45.8" fill="#56bcff"/>
<rect x="165.1" y="826.3" width="7.8" height="45.8" fill="#98d5fb"/>
<rect x="172.9" y="826.3" width="7.8" height="45.8" fill="#b4e0fa"/>
<rect x="180.6" y="826.3" width="7.8" height="45.8" fill="#38b0ff"/>
<rect x="188.4" y="826.3" width="7.8" height="45.8" fill="#7ac9ff"/>
<rect x="196.2" y="826.3" width="7.8" height="45.8" fill="#98d5fb"/>
<rect x="203.9" y="826.3" width="7.8" height="45.8" fill="#7ac9ff"/>
<rect x="211.7" y="826.3" width="7.8" height="45.8" fill="#b4e0fa"/>
<rect x="219.4" y="826.3" width="7.8" height="45.8" fill="#fafafa"/>
<rect x="227.2" y="826.3" width="7.8" height="45.8" fill="#b4e0fa"/>
<rect x="235" y="826.3" width="7.8" height="45.8" fill="#56bcff"/>
<rect x="242.7" y="826.3" width="7.8" height="45.8" fill="#98d5fb"/>
<rect x="250.5" y="826.3" width="7.8" height="45.8" fill="#fafafa"/>
<rect x="258.3" y="826.3" width="7.8" height="45.8" fill="#7ac9ff"/>
<rect x="266" y="826.3" width="7.8" height="45.8" fill="#b4e0fa"/>
<rect x="273.8" y="826.3" width="7.8" height="45.8" fill="#98d5fb"/>
<rect x="281.5" y="826.3" width="7.8" height="45.8" fill="#b4e0fa"/>
<rect x="289.3" y="826.3" width="7.8" height="45.8" fill="#98d5fb"/>
<rect x="297.1" y="826.3" width="7.8" height="45.8" fill="#7ac9ff"/>
<rect x="304.8" y="826.3" width="7.8" height="45.8" fill="#e8f6fe"/>
<rect x="312.6" y="826.3" width="7.8" height="45.8" fill="#b4e0fa"/>
<rect x="320.3" y="826.3" width="7.8" height="45.8" fill="#d0ecfb"/>
<rect x="328.1" y="826.3" width="7.8" height="45.8" fill="#98d5fb"/>
<rect x="335.9" y="826.3" width="7.8" height="45.8" fill="#b4e0fa"/>
<rect x="343.6" y="826.3" width="7.8" height="45.8" fill="#98d5fb"/>
<rect x="351.4" y="826.3" width="15.5" height="45.8" fill="#e8f6fe"/>
<rect x="366.9" y="826.3" width="7.8" height="45.8" fill="#b4e0fa"/>
<rect x="374.7" y="826.3" width="15.5" height="45.8" fill="#d0ecfb"/>
<rect x="390.2" y="826.3" width="7.8" height="45.8" fill="#b4e0fa"/>
<rect x="398" y="826.3" width="7.8" height="45.8" fill="#98d5fb"/>
<rect x="405.7" y="826.3" width="7.8" height="45.8" fill="#b4e0fa"/>
<rect x="413.5" y="826.3" width="7.8" height="45.8" fill="#e8f6fe"/>
<rect x="421.2" y="826.3" width="7.8" height="45.8" fill="#98d5fb"/>
<rect x="429" y="826.3" width="15.5" height="45.8" fill="#7ac9ff"/>
<rect x="444.5" y="826.3" width="15.5" height="45.8" fill="#98d5fb"/>
<rect x="460" y="826.3" width="7.8" height="45.8" fill="#b4e0fa"/>
<rect x="467.8" y="826.3" width="7.8" height="45.8" fill="#7ac9ff"/>
<rect x="475.6" y="826.3" width="7.8" height="45.8" fill="#56bcff"/>
<rect x="483.3" y="826.3" width="7.8" height="45.8" fill="#7ac9ff"/>
<rect x="491.1" y="826.3" width="7.8" height="45.8" fill="#b4e0fa"/>
<rect x="498.8" y="826.3" width="7.8" height="45.8" fill="#98d5fb"/>
<rect x="506.6" y="826.3" width="7.8" height="45.8" fill="#7ac9ff"/>
<rect x="514.4" y="826.3" width="7.8" height="45.8" fill="#d0ecfb"/>
<rect x="522.1" y="826.3" width="7.8" height="45.8" fill="#98d5fb"/>
<rect x="529.9" y="826.3" width="15.5" height="45.8" fill="#b4e0fa"/>
<rect x="545.4" y="826.3" width="7.8" height="45.8" fill="#98d5fb"/>
<rect x="553.2" y="826.3" width="7.8" height="45.8" fill="#b4e0fa"/>
<rect x="560.9" y="826.3" width="7.8" height="45.8" fill="#d0ecfb"/>
<rect x="568.7" y="826.3" width="7.8" height="45.8" fill="#7ac9ff"/>
<rect x="576.5" y="826.3" width="7.8" height="45.8" fill="#56bcff"/>
<rect x="584.2" y="826.3" width="7.8" height="45.8" fill="#98d5fb"/>
<rect x="592" y="826.3" width="7.8" height="45.8" fill="#d0ecfb"/>
<rect x="599.7" y="826.3" width="7.8" height="45.8" fill="#7ac9ff"/>
<rect x="607.5" y="826.3" width="15.5" height="45.8" fill="#d0ecfb"/>
<rect x="623" y="826.3" width="7.8" height="45.8" fill="#98d5fb"/>
<rect x="630.8" y="826.3" width="46.6" height="45.8" fill="#7ac9ff"/>
<rect x="677.3" y="826.3" width="7.8" height="45.8" fill="#b4e0fa"/>
<rect x="685.1" y="826.3" width="7.8" height="45.8" fill="#56bcff"/>
<rect x="692.9" y="826.3" width="7.8" height="45.8" fill="#98d5fb"/>
<rect x="700.6" y="826.3" width="7.8" height="45.8" fill="#56bcff"/>
<rect x="708.4" y="826.3" width="15.5" height="45.8" fill="#b4e0fa"/>
<rect x="723.9" y="826.3" width="7.8" height="45.8" fill="#7ac9ff"/>
<rect x="731.7" y="826.3" width="7.8" height="45.8" fill="#e8f6fe"/>
<rect x="739.4" y="826.3" width="7.8" height="45.8" fill="#98d5fb"/>
<rect x="747.2" y="826.3" width="7.8" height="45.8" fill="#b4e0fa"/>
<rect x="755" y="826.3" width="7.8" height="45.8" fill="#98d5fb"/>
<rect x="762.7" y="826.3" width="7.8" height="45.8" fill="#38b0ff"/>
<rect x="770.5" y="826.3" width="7.8" height="45.8" fill="#98d5fb"/>
<rect x="778.2" y="826.3" width="7.8" height="45.8" fill="#d0ecfb"/>
<rect x="786" y="826.3" width="7.8" height="45.8" fill="#fafafa"/>
<rect x="793.8" y="826.3" width="7.8" height="45.8" fill="#b4e0fa"/>
<rect x="801.5" y="826.3" width="7.8" height="45.8" fill="#d0ecfb"/>
<rect x="809.3" y="826.3" width="7.8" height="45.8" fill="#b4e0fa"/>
<rect x="817" y="826.3" width="7.8" height="45.8" fill="#d0ecfb"/>
<rect x="824.8" y="826.3" width="7.8" height="45.8" fill="#e8f6fe"/>
<rect x="832.6" y="826.3" width="7.8" height="45.8" fill="#56bcff"/>
<rect x="840.3" y="826.3" width="7.8" height="45.8" fill="#d0ecfb"/>
<rect x="848.1" y="826.3" width="7.8" height="45.8" fill="#b4e0fa"/>
<rect x="855.9" y="826.3" width="7.8" height="45.8" fill="#ececec"/>
<rect x="863.6" y="826.3" width="7.8" height="45.8" fill="#98d5fb"/>
<rect x="871.4" y="826.3" width="7.8" height="45.8" fill="#c0c0c0"/>
<rect x="879.1" y="826.3" width="7.8" height="45.8" fill="#b2b2b2"/>
<rect x="886.9" y="826.3" width="15.5" height="45.8" fill="#c0c0c0"/>
<rect x="902.4" y="826.3" width="15.5" height="45.8" fill="#b2b2b2"/>
<rect x="917.9" y="826.3" width="15.5" height="45.8" fill="#c0c0c0"/>
<rect x="933.5" y="826.3" width="7.8" height="45.8" fill="#38b0ff"/>
<rect x="941.2" y="826.3" width="7.8" height="45.8" fill="#fafafa"/>
<rect x="949" y="826.3" width="7.8" height="45.8" fill="#e8f6fe"/>
<rect x="956.7" y="826.3" width="7.8" height="45.8" fill="#fafafa"/>
<rect x="964.5" y="826.3" width="7.8" height="45.8" fill="#b4e0fa"/>
<rect x="972.3" y="826.3" width="7.8" height="45.8" fill="#ececec"/>
<rect x="980" y="826.3" width="7.8" height="45.8" fill="#b4e0fa"/>
<rect x="987.8" y="826.3" width="7.8" height="45.8" fill="#7ac9ff"/>
<rect x="995.5" y="826.3" width="15.5" height="45.8" fill="#fafafa"/>
<rect x="1011.1" y="826.3" width="15.5" height="45.8" fill="#b4e0fa"/>
<rect x="1026.6" y="826.3" width="7.8" height="45.8" fill="#1ea6ff"/>
<rect x="1034.4" y="826.3" width="7.8" height="45.8" fill="#0a9eff"/>
<rect x="1042.1" y="826.3" width="7.8" height="45.8" fill="#fafafa"/>
<rect x="1049.9" y="826.3" width="7.8" height="45.8" fill="#56bcff"/>
<rect x="1057.6" y="826.3" width="7.8" height="45.8" fill="#38b0ff"/>
<rect x="1065.4" y="826.3" width="7.8" height="45.8" fill="#e8f6fe"/>
<rect x="1073.2" y="826.3" width="7.8" height="45.8" fill="#7ac9ff"/>
<rect x="1080.9" y="826.3" width="7.8" height="45.8" fill="#b4e0fa"/>
<rect x="1088.7" y="826.3" width="7.8" height="45.8" fill="#fafafa"/>
<rect x="1096.4" y="826.3" width="54.3" height="45.8" fill="#38b0ff"/>
<rect x="1150.8" y="826.3" width="7.8" height="45.8" fill="#fafafa"/>
<rect x="1158.5" y="826.3" width="15.5" height="45.8" fill="#e8f6fe"/>
<rect x="1174.1" y="826.3" width="7.8" height="45.8" fill="#56bcff"/>
<rect x="1181.8" y="826.3" width="15.5" height="45.8" fill="#b4e0fa"/>
<rect x="1197.3" y="826.3" width="7.8" height="45.8" fill="#d0ecfb"/>
<rect x="1205.1" y="826.3" width="7.8" height="45.8" fill="#56bcff"/>
<rect x="1212.9" y="826.3" width="7.8" height="45.8" fill="#e8f6fe"/>
<rect x="1220.6" y="826.3" width="7.8" height="45.8" fill="#ececec"/>
<rect x="1228.4" y="826.3" width="7.8" height="45.8" fill="#d0ecfb"/>
<rect x="1236.1" y="826.3" width="7.8" height="45.8" fill="#fafafa"/>
<rect x="1243.9" y="826.3" width="7.8" height="45.8" fill="#d0ecfb"/>
<rect x="1251.7" y="826.3" width="7.8" height="45.8" fill="#7ac9ff"/>
<rect x="1259.4" y="826.3" width="7.8" height="45.8" fill="#56bcff"/>
<rect x="1267.2" y="826.3" width="7.8" height="45.8" fill="#c0c0c0"/>
<rect x="1274.9" y="826.3" width="7.8" height="45.8" fill="#b2b2b2"/>
<rect x="1282.7" y="826.3" width="7.8" height="45.8" fill="#c0c0c0"/>
<rect x="1290.5" y="826.3" width="7.8" height="45.8" fill="#b2b2b2"/>
<rect x="1298.2" y="826.3" width="31" height="45.8" fill="#c0c0c0"/>
<rect x="1329.3" y="826.3" width="7.8" height="45.8" fill="#b2b2b2"/>
<rect x="1337" y="826.3" width="15.5" height="45.8" fill="#c0c0c0"/>
<rect x="1352.6" y="826.3" width="7.8" height="45.8" fill="#b2b2b2"/>
<rect x="1360.3" y="826.3" width="7.8" height="45.8" fill="#c0c0c0"/>
<rect x="1368.1" y="826.3" width="7.8" height="45.8" fill="#a4a4a4"/>
<rect x="1375.8" y="826.3" width="15.5" height="45.8" fill="#c0c0c0"/>
<rect x="1391.4" y="826.3" width="7.8" height="45.8" fill="#b2b2b2"/>
<rect x="1399.1" y="826.3" width="7.8" height="45.8" fill="#fafafa"/>
<rect x="1406.9" y="826.3" width="7.8" height="45.8" fill="#d0ecfb"/>
<rect x="1414.6" y="826.3" width="7.8" height="45.8" fill="#7ac9ff"/>
<rect x="1422.4" y="826.3" width="7.8" height="45.8" fill="#98d5fb"/>
<rect x="1430.2" y="826.3" width="7.8" height="45.8" fill="#56bcff"/>
<rect x="1437.9" y="826.3" width="7.8" height="45.8" fill="#98d5fb"/>
<rect x="1445.7" y="826.3" width="7.8" height="45.8" fill="#7ac9ff"/>
<rect x="1453.4" y="826.3" width="15.5" height="45.8" fill="#38b0ff"/>
<rect x="1469" y="826.3" width="7.8" height="45.8" fill="#56bcff"/>
<rect x="1476.7" y="826.3" width="7.8" height="45.8" fill="#ececec"/>
<rect x="1484.5" y="826.3" width="7.8" height="45.8" fill="#c0c0c0"/>
<rect x="1492.3" y="826.3" width="7.8" height="45.8" fill="#d6d6d6"/>
<rect x="1500" y="826.3" width="7.8" height="45.8" fill="#c0c0c0"/>
<rect x="1507.8" y="826.3" width="7.8" height="45.8" fill="#b2b2b2"/>
<rect x="1515.5" y="826.3" width="7.8" height="45.8" fill="#c0c0c0"/>
<rect x="1523.3" y="826.3" width="7.8" height="45.8" fill="#fafafa"/>
<rect x="1531.1" y="826.3" width="7.8" height="45.8" fill="#7ac9ff"/>
<rect x="1538.8" y="826.3" width="15.5" height="45.8" fill="#38b0ff"/>
<rect x="1554.3" y="826.3" width="7.8" height="45.8" fill="#7ac9ff"/>
<rect x="1562.1" y="826.3" width="15.5" height="45.8" fill="#98d5fb"/>
<rect x="1577.6" y="826.3" width="7.8" height="45.8" fill="#ececec"/>
<rect x="1585.4" y="826.3" width="7.8" height="45.8" fill="#d0ecfb"/>
<rect x="1593.1" y="826.3" width="7.8" height="45.8" fill="#ececec"/>
<rect x="1600.9" y="826.3" width="7.8" height="45.8" fill="#fafafa"/>
<rect x="1608.7" y="826.3" width="7.8" height="45.8" fill="#ececec"/>
<rect x="1616.4" y="826.3" width="7.8" height="45.8" fill="#1ea6ff"/>
<rect x="1624.2" y="826.3" width="7.8" height="45.8" fill="#0a9eff"/>
<rect x="1632" y="826.3" width="7.8" height="45.8" fill="#56bcff"/>
<rect x="1639.7" y="826.3" width="7.8" height="45.8" fill="#b4e0fa"/>
<rect x="1647.5" y="826.3" width="7.8" height="45.8" fill="#fafafa"/>
<rect x="1655.2" y="826.3" width="7.8" height="45.8" fill="#ececec"/>
<rect x="1663" y="826.3" width="7.8" height="45.8" fill="#56bcff"/>
<rect x="1670.8" y="826.3" width="23.3" height="45.8" fill="#38b0ff"/>
<rect x="1694" y="826.3" width="7.8" height="45.8" fill="#d6d6d6"/>
<rect x="1701.8" y="826.3" width="7.8" height="45.8" fill="#ececec"/>
<rect x="1709.6" y="826.3" width="7.8" height="45.8" fill="#d0ecfb"/>
<rect x="1717.3" y="826.3" width="7.8" height="45.8" fill="#d6d6d6"/>
<rect x="1725.1" y="826.3" width="7.8" height="45.8" fill="#fafafa"/>
<rect x="1732.8" y="826.3" width="15.5" height="45.8" fill="#e8f6fe"/>
<rect x="1748.4" y="826.3" width="7.8" height="45.8" fill="#98d5fb"/>
<rect x="1756.1" y="826.3" width="23.3" height="45.8" fill="#c0c0c0"/>
<rect x="1779.4" y="826.3" width="15.5" height="45.8" fill="#a4a4a4"/>
<rect x="1794.9" y="826.3" width="7.8" height="45.8" fill="#c0c0c0"/>
<rect x="1802.7" y="826.3" width="7.8" height="45.8" fill="#b2b2b2"/>
<rect x="1810.5" y="826.3" width="7.8" height="45.8" fill="#a4a4a4"/>
<rect x="1818.2" y="826.3" width="7.8" height="45.8" fill="#b2b2b2"/>
<rect x="1826" y="826.3" width="7.8" height="45.8" fill="#c0c0c0"/>
<rect x="1833.7" y="826.3" width="7.8" height="45.8" fill="#979797"/>
<rect x="1841.5" y="826.3" width="7.8" height="45.8" fill="#a4a4a4"/>
<rect x="1849.3" y="826.3" width="7.8" height="45.8" fill="#b2b2b2"/>
<rect x="149.6" y="872" width="7.8" height="45.8" fill="#38b0ff"/>
<rect x="157.4" y="872" width="15.5" height="45.8" fill="#1ea6ff"/>
<rect x="172.9" y="872" width="7.8" height="45.8" fill="#38b0ff"/>
<rect x="180.6" y="872" width="7.8" height="45.8" fill="#56bcff"/>
<rect x="188.4" y="872" width="7.8" height="45.8" fill="#38b0ff"/>
<rect x="196.2" y="872" width="15.5" height="45.8" fill="#1ea6ff"/>
<rect x="211.7" y="872" width="7.8" height="45.8" fill="#38b0ff"/>
<rect x="219.4" y="872" width="7.8" height="45.8" fill="#7ac9ff"/>
<rect x="227.2" y="872" width="7.8" height="45.8" fill="#38b0ff"/>
<rect x="235" y="872" width="7.8" height="45.8" fill="#1ea6ff"/>
<rect x="242.7" y="872" width="7.8" height="45.8" fill="#38b0ff"/>
<rect x="250.5" y="872" width="7.8" height="45.8" fill="#ececec"/>
<rect x="258.3" y="872" width="38.8" height="45.8" fill="#38b0ff"/>
<rect x="297.1" y="872" width="7.8" height="45.8" fill="#1ea6ff"/>
<rect x="304.8" y="872" width="54.3" height="45.8" fill="#38b0ff"/>
<rect x="359.1" y="872" width="7.8" height="45.8" fill="#56bcff"/>
<rect x="366.9" y="872" width="23.3" height="45.8" fill="#38b0ff"/>
<rect x="390.2" y="872" width="15.5" height="45.8" fill="#1ea6ff"/>
<rect x="405.7" y="872" width="7.8" height="45.8" fill="#38b0ff"/>
<rect x="413.5" y="872" width="7.8" height="45.8" fill="#98d5fb"/>
<rect x="421.2" y="872" width="46.6" height="45.8" fill="#38b0ff"/>
<rect x="467.8" y="872" width="15.5" height="45.8" fill="#1ea6ff"/>
<rect x="483.3" y="872" width="23.3" height="45.8" fill="#38b0ff"/>
<rect x="506.6" y="872" width="7.8" height="45.8" fill="#1ea6ff"/>
<rect x="514.4" y="872" width="62.1" height="45.8" fill="#38b0ff"/>
<rect x="576.5" y="872" width="7.8" height="45.8" fill="#1ea6ff"/>
<rect x="584.2" y="872" width="23.3" height="45.8" fill="#38b0ff"/>
<rect x="607.5" y="872" width="7.8" height="45.8" fill="#ececec"/>
<rect x="615.3" y="872" width="7.8" height="45.8" fill="#38b0ff"/>
<rect x="623" y="872" width="7.8" height="45.8" fill="#56bcff"/>
<rect x="630.8" y="872" width="7.8" height="45.8" fill="#1ea6ff"/>
<rect x="638.5" y="872" width="7.8" height="45.8" fill="#38b0ff"/>
<rect x="646.3" y="872" width="54.3" height="45.8" fill="#1ea6ff"/>
<rect x="700.6" y="872" width="7.8" height="45.8" fill="#56bcff"/>
<rect x="708.4" y="872" width="7.8" height="45.8" fill="#1ea6ff"/>
<rect x="716.2" y="872" width="7.8" height="45.8" fill="#38b0ff"/>
<rect x="723.9" y="872" width="7.8" height="45.8" fill="#1ea6ff"/>
<rect x="731.7" y="872" width="7.8" height="45.8" fill="#38b0ff"/>
<rect x="739.4" y="872" width="7.8" height="45.8" fill="#1ea6ff"/>
<rect x="747.2" y="872" width="7.8" height="45.8" fill="#56bcff"/>
<rect x="755" y="872" width="7.8" height="45.8" fill="#1ea6ff"/>
<rect x="762.7" y="872" width="7.8" height="45.8" fill="#38b0ff"/>
<rect x="770.5" y="872" width="7.8" height="45.8" fill="#1ea6ff"/>
<rect x="778.2" y="872" width="7.8" height="45.8" fill="#38b0ff"/>
<rect x="786" y="872" width="7.8" height="45.8" fill="#7ac9ff"/>
<rect x="793.8" y="872" width="15.5" height="45.8" fill="#38b0ff"/>
<rect x="809.3" y="872" width="7.8" height="45.8" fill="#b2b2b2"/>
<rect x="817" y="872" width="7.8" height="45.8" fill="#a4a4a4"/>
<rect x="824.8" y="872" width="7.8" height="45.8" fill="#b2b2b2"/>
<rect x="832.6" y="872" width="31" height="45.8" fill="#c0c0c0"/>
<rect x="863.6" y="872" width="7.8" height="45.8" fill="#b2b2b2"/>
<rect x="871.4" y="872" width="7.8" height="45.8" fill="#38b0ff"/>
<rect x="879.1" y="872" width="23.3" height="45.8" fill="#1ea6ff"/>
<rect x="902.4" y="872" width="7.8" height="45.8" fill="#b2b2b2"/>
<rect x="910.2" y="872" width="7.8" height="45.8" fill="#a4a4a4"/>
<rect x="917.9" y="872" width="15.5" height="45.8" fill="#b2b2b2"/>
<rect x="933.5" y="872" width="23.3" height="45.8" fill="#38b0ff"/>
<rect x="956.7" y="872" width="15.5" height="45.8" fill="#56bcff"/>
<rect x="972.3" y="872" width="7.8" height="45.8" fill="#98d5fb"/>
<rect x="980" y="872" width="7.8" height="45.8" fill="#38b0ff"/>
<rect x="987.8" y="872" width="7.8" height="45.8" fill="#7ac9ff"/>
<rect x="995.5" y="872" width="7.8" height="45.8" fill="#d6d6d6"/>
<rect x="1003.3" y="872" width="7.8" height="45.8" fill="#fafafa"/>
<rect x="1011.1" y="872" width="7.8" height="45.8" fill="#b4e0fa"/>
<rect x="1018.8" y="872" width="7.8" height="45.8" fill="#7ac9ff"/>
<rect x="1026.6" y="872" width="23.3" height="45.8" fill="#38b0ff"/>
<rect x="1049.9" y="872" width="7.8" height="45.8" fill="#98d5fb"/>
<rect x="1057.6" y="872" width="23.3" height="45.8" fill="#a4a4a4"/>
<rect x="1080.9" y="872" width="7.8" height="45.8" fill="#c0c0c0"/>
<rect x="1088.7" y="872" width="7.8" height="45.8" fill="#b2b2b2"/>
<rect x="1096.4" y="872" width="23.3" height="45.8" fill="#a4a4a4"/>
<rect x="1119.7" y="872" width="31" height="45.8" fill="#979797"/>
<rect x="1150.8" y="872" width="15.5" height="45.8" fill="#a4a4a4"/>
<rect x="1166.3" y="872" width="15.5" height="45.8" fill="#c0c0c0"/>
<rect x="1181.8" y="872" width="7.8" height="45.8" fill="#b2b2b2"/>
<rect x="1189.6" y="872" width="7.8" height="45.8" fill="#a4a4a4"/>
<rect x="1197.3" y="872" width="7.8" height="45.8" fill="#b2b2b2"/>
<rect x="1205.1" y="872" width="7.8" height="45.8" fill="#a4a4a4"/>
<rect x="1212.9" y="872" width="15.5" height="45.8" fill="#b2b2b2"/>
<rect x="1228.4" y="872" width="7.8" height="45.8" fill="#c0c0c0"/>
<rect x="1236.1" y="872" width="15.5" height="45.8" fill="#a4a4a4"/>
<rect x="1251.7" y="872" width="15.5" height="45.8" fill="#b2b2b2"/>
<rect x="1267.2" y="872" width="7.8" height="45.8" fill="#98d5fb"/>
<rect x="1274.9" y="872" width="7.8" height="45.8" fill="#e8f6fe"/>
<rect x="1282.7" y="872" width="7.8" height="45.8" fill="#ececec"/>
<rect x="1290.5" y="872" width="7.8" height="45.8" fill="#a4a4a4"/>
<rect x="1298.2" y="872" width="7.8" height="45.8" fill="#b2b2b2"/>
<rect x="1306" y="872" width="7.8" height="45.8" fill="#c0c0c0"/>
<rect x="1313.8" y="872" width="7.8" height="45.8" fill="#b2b2b2"/>
<rect x="1321.5" y="872" width="7.8" height="45.8" fill="#c0c0c0"/>
<rect x="1329.3" y="872" width="7.8" height="45.8" fill="#a4a4a4"/>
<rect x="1337" y="872" width="7.8" height="45.8" fill="#b2b2b2"/>
<rect x="1344.8" y="872" width="7.8" height="45.8" fill="#a4a4a4"/>
<rect x="1352.6" y="872" width="23.3" height="45.8" fill="#b2b2b2"/>
<rect x="1375.8" y="872" width="7.8" height="45.8" fill="#a4a4a4"/>
<rect x="1383.6" y="872" width="15.5" height="45.8" fill="#c0c0c0"/>
<rect x="1399.1" y="872" width="7.8" height="45.8" fill="#56bcff"/>
<rect x="1406.9" y="872" width="46.6" height="45.8" fill="#38b0ff"/>
<rect x="1453.4" y="872" width="15.5" height="45.8" fill="#1ea6ff"/>
<rect x="1469" y="872" width="7.8" height="45.8" fill="#38b0ff"/>
<rect x="1476.7" y="872" width="15.5" height="45.8" fill="#b2b2b2"/>
<rect x="1492.3" y="872" width="7.8" height="45.8" fill="#a4a4a4"/>
<rect x="1500" y="872" width="7.8" height="45.8" fill="#98d5fb"/>
<rect x="1507.8" y="872" width="7.8" height="45.8" fill="#a4a4a4"/>
<rect x="1515.5" y="872" width="7.8" height="45.8" fill="#b2b2b2"/>
<rect x="1523.3" y="872" width="7.8" height="45.8" fill="#56bcff"/>
<rect x="1531.1" y="872" width="7.8" height="45.8" fill="#38b0ff"/>
<rect x="1538.8" y="872" width="15.5" height="45.8" fill="#0a9eff"/>
<rect x="1554.3" y="872" width="7.8" height="45.8" fill="#56bcff"/>
<rect x="1562.1" y="872" width="7.8" height="45.8" fill="#7ac9ff"/>
<rect x="1569.9" y="872" width="7.8" height="45.8" fill="#56bcff"/>
<rect x="1577.6" y="872" width="15.5" height="45.8" fill="#d0ecfb"/>
<rect x="1593.1" y="872" width="7.8" height="45.8" fill="#b4e0fa"/>
<rect x="1600.9" y="872" width="7.8" height="45.8" fill="#7ac9ff"/>
<rect x="1608.7" y="872" width="7.8" height="45.8" fill="#98d5fb"/>
<rect x="1616.4" y="872" width="23.3" height="45.8" fill="#38b0ff"/>
<rect x="1639.7" y="872" width="7.8" height="45.8" fill="#d0ecfb"/>
<rect x="1647.5" y="872" width="15.5" height="45.8" fill="#c0c0c0"/>
<rect x="1663" y="872" width="7.8" height="45.8" fill="#b2b2b2"/>
<rect x="1670.8" y="872" width="15.5" height="45.8" fill="#a4a4a4"/>
<rect x="1686.3" y="872" width="23.3" height="45.8" fill="#c0c0c0"/>
<rect x="1709.6" y="872" width="7.8" height="45.8" fill="#a4a4a4"/>
<rect x="1717.3" y="872" width="15.5" height="45.8" fill="#c0c0c0"/>
<rect x="1732.8" y="872" width="7.8" height="45.8" fill="#a4a4a4"/>
<rect x="1740.6" y="872" width="7.8" height="45.8" fill="#c0c0c0"/>
<rect x="1748.4" y="872" width="7.8" height="45.8" fill="#a4a4a4"/>
<rect x="1756.1" y="872" width="7.8" height="45.8" fill="#b4e0fa"/>
<rect x="1763.9" y="872" width="7.8" height="45.8" fill="#7ac9ff"/>
<rect x="1771.6" y="872" width="7.8" height="45.8" fill="#e8f6fe"/>
<rect x="1779.4" y="872" width="7.8" height="45.8" fill="#38b0ff"/>
<rect x="1787.2" y="872" width="7.8" height="45.8" fill="#e8f6fe"/>
<rect x="1794.9" y="872" width="7.8" height="45.8" fill="#ececec"/>
<rect x="1802.7" y="872" width="15.5" height="45.8" fill="#d0ecfb"/>
<rect x="1818.2" y="872" width="7.8" height="45.8" fill="#56bcff"/>
<rect x="1826" y="872" width="23.3" height="45.8" fill="#38b0ff"/>
<rect x="1849.3" y="872" width="7.8" height="45.8" fill="#56bcff"/>
<path d="M157.4 734.8V917.8M165.1 734.8V917.8M172.9 734.8V917.8M180.6 734.8V917.8M188.4 734.8V917.8M196.2 734.8V917.8M203.9 734.8V917.8M211.7 734.8V917.8M219.4 734.8V917.8M227.2 734.8V917.8M235 734.8V917.8M242.7 734.8V917.8M250.5 734.8V917.8M258.3 734.8V917.8M266 734.8V917.8M273.8 734.8V917.8M281.5 734.8V917.8M289.3 734.8V917.8M297.1 734.8V917.8M304.8 734.8V917.8M312.6 734.8V917.8M320.3 734.8V917.8M328.1 734.8V917.8M335.9 734.8V917.8M343.6 734.8V917.8M351.4 734.8V917.8M359.1 734.8V917.8M366.9 734.8V917.8M374.7 734.8V917.8M382.4 734.8V917.8M390.2 734.8V917.8M398 734.8V917.8M405.7 734.8V917.8M413.5 734.8V917.8M421.2 734.8V917.8M429 734.8V917.8M436.8 734.8V917.8M444.5 734.8V917.8M452.3 734.8V917.8M460 734.8V917.8M467.8 734.8V917.8M475.6 734.8V917.8M483.3 734.8V917.8M491.1 734.8V917.8M498.8 734.8V917.8M506.6 734.8V917.8M514.4 734.8V917.8M522.1 734.8V917.8M529.9 734.8V917.8M537.6 734.8V917.8M545.4 734.8V917.8M553.2 734.8V917.8M560.9 734.8V917.8M568.7 734.8V917.8M576.5 734.8V917.8M584.2 734.8V917.8M592 734.8V917.8M599.7 734.8V917.8M607.5 734.8V917.8M615.3 734.8V917.8M623 734.8V917.8M630.8 734.8V917.8M638.5 734.8V917.8M646.3 734.8V917.8M654.1 734.8V917.8M661.8 734.8V917.8M669.6 734.8V917.8M677.3 734.8V917.8M685.1 734.8V917.8M692.9 734.8V917.8M700.6 734.8V917.8M708.4 734.8V917.8M716.2 734.8V917.8M723.9 734.8V917.8M731.7 734.8V917.8M739.4 734.8V917.8M747.2 734.8V917.8M755 734.8V917.8M762.7 734.8V917.8M770.5 734.8V917.8M778.2 734.8V917.8M786 734.8V917.8M793.8 734.8V917.8M801.5 734.8V917.8M809.3 734.8V917.8M817 734.8V917.8M824.8 734.8V917.8M832.6 734.8V917.8M840.3 734.8V917.8M848.1 734.8V917.8M855.9 734.8V917.8M863.6 734.8V917.8M871.4 734.8V917.8M879.1 734.8V917.8M886.9 734.8V917.8M894.7 734.8V917.8M902.4 734.8V917.8M910.2 734.8V917.8M917.9 734.8V917.8M925.7 734.8V917.8M933.5 734.8V917.8M941.2 734.8V917.8M949 734.8V917.8M956.7 734.8V917.8M964.5 734.8V917.8M972.3 734.8V917.8M980 734.8V917.8M987.8 734.8V917.8M995.5 734.8V917.8M1003.3 734.8V917.8M1011.1 734.8V917.8M1018.8 734.8V917.8M1026.6 734.8V917.8M1034.4 734.8V917.8M1042.1 734.8V917.8M1049.9 734.8V917.8M1057.6 734.8V917.8M1065.4 734.8V917.8M1073.2 734.8V917.8M1080.9 734.8V917.8M1088.7 734.8V917.8M1096.4 734.8V917.8M1104.2 734.8V917.8M1112 734.8V917.8M1119.7 734.8V917.8M1127.5 734.8V917.8M1135.2 734.8V917.8M1143 734.8V917.8M1150.8 734.8V917.8M1158.5 734.8V917.8M1166.3 734.8V917.8M1174.1 734.8V917.8M1181.8 734.8V917.8M1189.6 734.8V917.8M1197.3 734.8V917.8M1205.1 734.8V917.8M1212.9 734.8V917.8M1220.6 734.8V917.8M1228.4 734.8V917.8M1236.1 734.8V917.8M1243.9 734.8V917.8M1251.7 734.8V917.8M1259.4 734.8V917.8M1267.2 734.8V917.8M1274.9 734.8V917.8M1282.7 734.8V917.8M1290.5 734.8V917.8M1298.2 734.8V917.8M1306 734.8V917.8M1313.8 734.8V917.8M1321.5 734.8V917.8M1329.3 734.8V917.8M1337 734.8V917.8M1344.8 734.8V917.8M1352.6 734.8V917.8M1360.3 734.8V917.8M1368.1 734.8V917.8M1375.8 734.8V917.8M1383.6 734.8V917.8M1391.4 734.8V917.8M1399.1 734.8V917.8M1406.9 734.8V917.8M1414.6 734.8V917.8M1422.4 734.8V917.8M1430.2 734.8V917.8M1437.9 734.8V917.8M1445.7 734.8V917.8M1453.4 734.8V917.8M1461.2 734.8V917.8M1469 734.8V917.8M1476.7 734.8V917.8M1484.5 734.8V917.8M1492.3 734.8V917.8M1500 734.8V917.8M1507.8 734.8V917.8M1515.5 734.8V917.8M1523.3 734.8V917.8M1531.1 734.8V917.8M1538.8 734.8V917.8M1546.6 734.8V917.8M1554.3 734.8V917.8M1562.1 734.8V917.8M1569.9 734.8V917.8M1577.6 734.8V917.8M1585.4 734.8V917.8M1593.1 734.8V917.8M1600.9 734.8V917.8M1608.7 734.8V917.8M1616.4 734.8V917.8M1624.2 734.8V917.8M1632 734.8V917.8M1639.7 734.8V917.8M1647.5 734.8V917.8M1655.2 734.8V917.8M1663 734.8V917.8M1670.8 734.8V917.8M1678.5 734.8V917.8M1686.3 734.8V917.8M1694 734.8V917.8M1701.8 734.8V917.8M1709.6 734.8V917.8M1717.3 734.8V917.8M1725.1 734.8V917.8M1732.8 734.8V917.8M1740.6 734.8V917.8M1748.4 734.8V917.8M1756.1 734.8V917.8M1763.9 734.8V917.8M1771.6 734.8V917.8M1779.4 734.8V917.8M1787.2 734.8V917.8M1794.9 734.8V917.8M1802.7 734.8V917.8M1810.5 734.8V917.8M1818.2 734.8V917.8M1826 734.8V917.8M1833.7 734.8V917.8M1841.5 734.8V917.8M1849.3 734.8V917.8" stroke="#858585" stroke-width="1.15" fill="none"/>
<path d="M149.6 780.5H1857M149.6 826.3H1857M149.6 872H1857" stroke="#858585" stroke-width="2" fill="none"/>
<rect x="149.6" y="734.8" width="1707.4" height="183" fill="none" stroke="#858585" stroke-width="2"/>
<text x="145.5" y="765.3" font-size="22" text-anchor="end">Fasted-opened</text>
<text x="145.5" y="811" font-size="22" text-anchor="end">Leptin-closed</text>
<text x="145.5" y="856.8" font-size="22" text-anchor="end">Leptin-opened</text>
<text x="145.5" y="902.5" font-size="22" text-anchor="end">Fasted-closed</text>
<line x1="184.5" y1="724.3" x2="184.5" y2="733.8" stroke="#000" stroke-width="1.4"/>
<line x1="184.5" y1="918.8" x2="184.5" y2="928.8" stroke="#000" stroke-width="1.4"/>
<text transform="translate(192.1 930) rotate(-90)" font-size="21" text-anchor="end">BCL6</text>
<line x1="269.9" y1="724.3" x2="269.9" y2="733.8" stroke="#000" stroke-width="1.4"/>
<line x1="269.9" y1="918.8" x2="269.9" y2="928.8" stroke="#000" stroke-width="1.4"/>
<text transform="translate(277.5 930) rotate(-90)" font-size="21" text-anchor="end">FOXA1</text>
<line x1="347.5" y1="724.3" x2="347.5" y2="733.8" stroke="#000" stroke-width="1.4"/>
<line x1="347.5" y1="918.8" x2="347.5" y2="928.8" stroke="#000" stroke-width="1.4"/>
<text transform="translate(356.2 930) rotate(-90)" font-size="21" text-anchor="end">FOXO1</text>
<line x1="479.4" y1="724.3" x2="479.4" y2="733.8" stroke="#000" stroke-width="1.4"/>
<line x1="479.4" y1="918.8" x2="479.4" y2="928.8" stroke="#000" stroke-width="1.4"/>
<text transform="translate(488 930) rotate(-90)" font-size="21" text-anchor="end">IRF4</text>
<line x1="564.8" y1="724.3" x2="564.8" y2="733.8" stroke="#000" stroke-width="1.4"/>
<line x1="564.8" y1="918.8" x2="564.8" y2="928.8" stroke="#000" stroke-width="1.4"/>
<text transform="translate(573.2 930) rotate(-90)" font-size="21" text-anchor="end">NFIL3</text>
<line x1="603.6" y1="724.3" x2="603.6" y2="733.8" stroke="#000" stroke-width="1.4"/>
<line x1="603.6" y1="918.8" x2="603.6" y2="928.8" stroke="#000" stroke-width="1.4"/>
<text transform="translate(611.8 930) rotate(-90)" font-size="21" text-anchor="end">NR4A1</text>
<line x1="820.9" y1="724.3" x2="820.9" y2="733.8" stroke="#000" stroke-width="1.4"/>
<line x1="820.9" y1="918.8" x2="820.9" y2="928.8" stroke="#000" stroke-width="1.4"/>
<text transform="translate(829 930) rotate(-90)" font-size="21" text-anchor="end">CREB1</text>
<line x1="859.7" y1="724.3" x2="859.7" y2="733.8" stroke="#000" stroke-width="1.4"/>
<line x1="859.7" y1="918.8" x2="859.7" y2="928.8" stroke="#000" stroke-width="1.4"/>
<text transform="translate(868.5 930) rotate(-90)" font-size="21" text-anchor="end">GCR</text>
<line x1="906.3" y1="724.3" x2="906.3" y2="733.8" stroke="#000" stroke-width="1.4"/>
<path d="M906.3 918.8V924.3L902.1 928.8" stroke="#000" stroke-width="1.4" fill="none"/>
<text transform="translate(899 930) rotate(-90)" font-size="21" text-anchor="end">ANDR</text>
<line x1="921.8" y1="724.3" x2="921.8" y2="733.8" stroke="#000" stroke-width="1.4"/>
<path d="M921.8 918.8V924.3L917.6 928.8" stroke="#000" stroke-width="1.4" fill="none"/>
<text transform="translate(919.5 930) rotate(-90)" font-size="21" text-anchor="end">ESR1</text>
<line x1="929.6" y1="724.3" x2="929.6" y2="733.8" stroke="#000" stroke-width="1.4"/>
<path d="M929.6 918.8V924.3L933.8 928.8" stroke="#000" stroke-width="1.4" fill="none"/>
<text transform="translate(940.2 930) rotate(-90)" font-size="21" text-anchor="end">PRGR</text>
<line x1="937.3" y1="724.3" x2="937.3" y2="733.8" stroke="#000" stroke-width="1.4"/>
<path d="M937.3 918.8V924.3L941.5 928.8" stroke="#000" stroke-width="1.4" fill="none"/>
<text transform="translate(962.4 930) rotate(-90)" font-size="21" text-anchor="end">ETV6</text>
<line x1="1061.5" y1="724.3" x2="1061.5" y2="733.8" stroke="#000" stroke-width="1.4"/>
<line x1="1061.5" y1="918.8" x2="1061.5" y2="928.8" stroke="#000" stroke-width="1.4"/>
<text transform="translate(1069.9 930) rotate(-90)" font-size="21" text-anchor="end">ATF3</text>
<line x1="1100.3" y1="724.3" x2="1100.3" y2="733.8" stroke="#000" stroke-width="1.4"/>
<path d="M1100.3 918.8V924.3L1096.1 928.8" stroke="#000" stroke-width="1.4" fill="none"/>
<text transform="translate(1102.6 930) rotate(-90)" font-size="21" text-anchor="end">FOS</text>
<line x1="1131.4" y1="724.3" x2="1131.4" y2="733.8" stroke="#000" stroke-width="1.4"/>
<path d="M1131.4 918.8V924.3L1127.2 928.8" stroke="#000" stroke-width="1.4" fill="none"/>
<text transform="translate(1125.7 930) rotate(-90)" font-size="21" text-anchor="end">JUN</text>
<line x1="1139.1" y1="724.3" x2="1139.1" y2="733.8" stroke="#000" stroke-width="1.4"/>
<line x1="1139.1" y1="918.8" x2="1139.1" y2="928.8" stroke="#000" stroke-width="1.4"/>
<text transform="translate(1146 930) rotate(-90)" font-size="21" text-anchor="end">JUNB</text>
<line x1="1146.9" y1="724.3" x2="1146.9" y2="733.8" stroke="#000" stroke-width="1.4"/>
<path d="M1146.9 918.8V924.3L1151.1 928.8" stroke="#000" stroke-width="1.4" fill="none"/>
<text transform="translate(1166.7 930) rotate(-90)" font-size="21" text-anchor="end">JUND</text>
<line x1="1309.9" y1="724.3" x2="1309.9" y2="733.8" stroke="#000" stroke-width="1.4"/>
<path d="M1309.9 918.8V924.3L1305.7 928.8" stroke="#000" stroke-width="1.4" fill="none"/>
<text transform="translate(1305.4 930) rotate(-90)" font-size="21" text-anchor="end">MAFB</text>
<line x1="1317.6" y1="724.3" x2="1317.6" y2="733.8" stroke="#000" stroke-width="1.4"/>
<line x1="1317.6" y1="918.8" x2="1317.6" y2="928.8" stroke="#000" stroke-width="1.4"/>
<text transform="translate(1325.5 930) rotate(-90)" font-size="21" text-anchor="end">MAFG</text>
<line x1="1325.4" y1="724.3" x2="1325.4" y2="733.8" stroke="#000" stroke-width="1.4"/>
<path d="M1325.4 918.8V924.3L1329.6 928.8" stroke="#000" stroke-width="1.4" fill="none"/>
<text transform="translate(1345.6 930) rotate(-90)" font-size="21" text-anchor="end">MAFK</text>
<line x1="1441.8" y1="724.3" x2="1441.8" y2="733.8" stroke="#000" stroke-width="1.4"/>
<path d="M1441.8 918.8V924.3L1437.6 928.8" stroke="#000" stroke-width="1.4" fill="none"/>
<text transform="translate(1444.4 930) rotate(-90)" font-size="21" text-anchor="end">IRF9</text>
<line x1="1457.3" y1="724.3" x2="1457.3" y2="733.8" stroke="#000" stroke-width="1.4"/>
<line x1="1457.3" y1="918.8" x2="1457.3" y2="928.8" stroke="#000" stroke-width="1.4"/>
<text transform="translate(1465.3 930) rotate(-90)" font-size="21" text-anchor="end">STAT1</text>
<line x1="1465.1" y1="724.3" x2="1465.1" y2="733.8" stroke="#000" stroke-width="1.4"/>
<path d="M1465.1 918.8V924.3L1469.3 928.8" stroke="#000" stroke-width="1.4" fill="none"/>
<text transform="translate(1487.3 930) rotate(-90)" font-size="21" text-anchor="end">STAT2</text>
<line x1="1542.7" y1="724.3" x2="1542.7" y2="733.8" stroke="#000" stroke-width="1.4"/>
<path d="M1542.7 918.8V924.3L1538.5 928.8" stroke="#000" stroke-width="1.4" fill="none"/>
<text transform="translate(1534.9 930) rotate(-90)" font-size="21" text-anchor="end">ETS2</text>
<line x1="1550.5" y1="724.3" x2="1550.5" y2="733.8" stroke="#000" stroke-width="1.4"/>
<line x1="1550.5" y1="918.8" x2="1550.5" y2="928.8" stroke="#000" stroke-width="1.4"/>
<text transform="translate(1558.7 930) rotate(-90)" font-size="21" text-anchor="end">IRF3</text>
<line x1="1620.3" y1="724.3" x2="1620.3" y2="733.8" stroke="#000" stroke-width="1.4"/>
<path d="M1620.3 918.8V924.3L1616.1 928.8" stroke="#000" stroke-width="1.4" fill="none"/>
<text transform="translate(1612.7 930) rotate(-90)" font-size="21" text-anchor="end">STA5A</text>
<line x1="1628.1" y1="724.3" x2="1628.1" y2="733.8" stroke="#000" stroke-width="1.4"/>
<line x1="1628.1" y1="918.8" x2="1628.1" y2="928.8" stroke="#000" stroke-width="1.4"/>
<text transform="translate(1635.9 930) rotate(-90)" font-size="21" text-anchor="end">STAT3</text>
<line x1="1674.6" y1="724.3" x2="1674.6" y2="733.8" stroke="#000" stroke-width="1.4"/>
<path d="M1674.6 918.8V924.3L1670.4 928.8" stroke="#000" stroke-width="1.4" fill="none"/>
<text transform="translate(1666.5 930) rotate(-90)" font-size="21" text-anchor="end">ELF2</text>
<line x1="1682.4" y1="724.3" x2="1682.4" y2="733.8" stroke="#000" stroke-width="1.4"/>
<line x1="1682.4" y1="918.8" x2="1682.4" y2="928.8" stroke="#000" stroke-width="1.4"/>
<text transform="translate(1689.3 930) rotate(-90)" font-size="21" text-anchor="end">ELK1</text>
<line x1="1690.2" y1="724.3" x2="1690.2" y2="733.8" stroke="#000" stroke-width="1.4"/>
<path d="M1690.2 918.8V924.3L1694.4 928.8" stroke="#000" stroke-width="1.4" fill="none"/>
<text transform="translate(1713.1 930) rotate(-90)" font-size="21" text-anchor="end">ETV4</text>
<line x1="1752.2" y1="724.3" x2="1752.2" y2="733.8" stroke="#000" stroke-width="1.4"/>
<line x1="1752.2" y1="918.8" x2="1752.2" y2="928.8" stroke="#000" stroke-width="1.4"/>
<text transform="translate(1760.5 930) rotate(-90)" font-size="21" text-anchor="end">ZN143</text>
<defs><linearGradient id="cb" x1="0" y1="0" x2="0" y2="1"><stop offset="0" stop-color="#0a9cff"/><stop offset="0.45" stop-color="#22a6ff"/><stop offset="0.71" stop-color="#4cb8ff"/><stop offset="0.88" stop-color="#ffffff"/><stop offset="1" stop-color="#b8b8b8"/></linearGradient></defs>
<rect x="1896.8" y="734" width="11" height="184.5" fill="url(#cb)" stroke="#333" stroke-width="1"/>
<text transform="translate(1921.3 737.3) rotate(-90)" font-size="14.5" text-anchor="middle">200</text>
<text transform="translate(1921.3 864) rotate(-90)" font-size="14.5" text-anchor="middle">50</text>
<text transform="translate(1921.3 896) rotate(-90)" font-size="14.5" text-anchor="middle">10</text>
<text transform="translate(1921.3 915) rotate(-90)" font-size="14.5" text-anchor="middle">0</text>
<text transform="translate(1880.9 931.3) rotate(-90)" font-size="23">Score -log<tspan font-size="15" dy="4">2</tspan><tspan dy="-4">(p-value)</tspan></text>
<text x="7" y="1075.7" font-size="54">e</text>
<line x1="274.6" y1="1104" x2="274.6" y2="1573" stroke="#a4a4a4" stroke-width="1.8" stroke-dasharray="7.2 4.3"/>
<line x1="170" y1="1460.2" x2="669" y2="1460.2" stroke="#a4a4a4" stroke-width="1.8" stroke-dasharray="7.2 4.3"/>
<line x1="164.8" y1="1104" x2="164.8" y2="1452" stroke="#000" stroke-width="2"/>
<line x1="164.8" y1="1482" x2="164.8" y2="1573" stroke="#000" stroke-width="2"/>
<line x1="148" y1="1467.4" x2="180" y2="1467.4" stroke="#000" stroke-width="2"/>
<line x1="148" y1="1477.3" x2="177.5" y2="1477.3" stroke="#000" stroke-width="2"/>
<line x1="164" y1="1573" x2="262" y2="1573" stroke="#000" stroke-width="2"/>
<line x1="270.2" y1="1573" x2="667.3" y2="1573" stroke="#000" stroke-width="2"/>
<line x1="262.1" y1="1557.8" x2="262.1" y2="1589" stroke="#000" stroke-width="2"/>
<line x1="270.2" y1="1557.8" x2="270.2" y2="1589" stroke="#000" stroke-width="2"/>
<line x1="156.5" y1="1167.2" x2="164.8" y2="1167.2" stroke="#000" stroke-width="2"/>
<line x1="156.5" y1="1381.2" x2="164.8" y2="1381.2" stroke="#000" stroke-width="2"/>
<line x1="164.2" y1="1573" x2="164.2" y2="1582.5" stroke="#000" stroke-width="2"/>
<line x1="191.4" y1="1573" x2="191.4" y2="1582.5" stroke="#000" stroke-width="2"/>
<line x1="218.6" y1="1573" x2="218.6" y2="1582.5" stroke="#000" stroke-width="2"/>
<line x1="245.9" y1="1573" x2="245.9" y2="1582.5" stroke="#000" stroke-width="2"/>
<line x1="325.2" y1="1573" x2="325.2" y2="1582.5" stroke="#000" stroke-width="2"/>
<line x1="463.7" y1="1573" x2="463.7" y2="1582.5" stroke="#000" stroke-width="2"/>
<line x1="601.6" y1="1573" x2="601.6" y2="1582.5" stroke="#000" stroke-width="2"/>
<g fill="#fff" stroke="#000" stroke-width="1.3"><circle cx="509.7" cy="1186" r="8.25"/><circle cx="524.4" cy="1189" r="8.25"/><circle cx="531" cy="1188.1" r="8.25"/><circle cx="503.4" cy="1235.5" r="8.25"/><circle cx="504.8" cy="1231.4" r="8.25"/><circle cx="518.4" cy="1233.9" r="8.25"/><circle cx="544.7" cy="1265.8" r="8.25"/><circle cx="486" cy="1281.7" r="8.25"/><circle cx="510.6" cy="1280.9" r="8.25"/><circle cx="513.1" cy="1289.6" r="8.25"/><circle cx="535.5" cy="1290.1" r="8.25"/><circle cx="547.2" cy="1292.9" r="8.25"/><circle cx="557.1" cy="1292.9" r="8.25"/><circle cx="553" cy="1302.5" r="8.25"/><circle cx="497.8" cy="1301.7" r="8.25"/><circle cx="519.4" cy="1301.2" r="8.25"/><circle cx="470.7" cy="1307.5" r="8.25"/><circle cx="478.2" cy="1309.8" r="8.25"/><circle cx="488.1" cy="1317.8" r="8.25"/><circle cx="479.8" cy="1325" r="8.25"/><circle cx="512.2" cy="1319.2" r="8.25"/><circle cx="518.9" cy="1315.3" r="8.25"/><circle cx="534.7" cy="1317.8" r="8.25"/><circle cx="524.7" cy="1330.3" r="8.25"/><circle cx="548" cy="1330.3" r="8.25"/><circle cx="569.3" cy="1330.3" r="8.25"/><circle cx="455.7" cy="1336.9" r="8.25"/><circle cx="439.9" cy="1339.4" r="8.25"/><circle cx="499.2" cy="1321.8" r="8.25"/><circle cx="534.2" cy="1332.4" r="8.25"/><circle cx="549.6" cy="1325.9" r="8.25"/><circle cx="562.1" cy="1337.2" r="8.25"/><circle cx="439.8" cy="1343.7" r="8.25"/><circle cx="441" cy="1348.5" r="8.25"/><circle cx="438" cy="1355.6" r="8.25"/><circle cx="427.9" cy="1361" r="8.25"/><circle cx="462.9" cy="1357.4" r="8.25"/><circle cx="464.1" cy="1353.8" r="8.25"/><circle cx="481.9" cy="1344.9" r="8.25"/><circle cx="492.6" cy="1347.3" r="8.25"/><circle cx="503.3" cy="1350.3" r="8.25"/><circle cx="501" cy="1358.6" r="8.25"/><circle cx="514.6" cy="1339.6" r="8.25"/><circle cx="529.5" cy="1340.8" r="8.25"/><circle cx="542.5" cy="1341.9" r="8.25"/><circle cx="527.1" cy="1348.5" r="8.25"/><circle cx="535.4" cy="1347.9" r="8.25"/><circle cx="555.6" cy="1354.4" r="8.25"/><circle cx="560.3" cy="1356.2" r="8.25"/><circle cx="451.1" cy="1368.7" r="8.25"/><circle cx="451.7" cy="1374.6" r="8.25"/><circle cx="462.4" cy="1369.3" r="8.25"/><circle cx="473.6" cy="1376.4" r="8.25"/><circle cx="484.9" cy="1367.5" r="8.25"/><circle cx="488.5" cy="1375.8" r="8.25"/><circle cx="517.6" cy="1369.9" r="8.25"/><circle cx="525.9" cy="1368.1" r="8.25"/><circle cx="533" cy="1371.6" r="8.25"/><circle cx="540.1" cy="1366.3" r="8.25"/><circle cx="503.9" cy="1382.9" r="8.25"/><circle cx="511.6" cy="1380.5" r="8.25"/><circle cx="520" cy="1388.9" r="8.25"/><circle cx="466.5" cy="1384.7" r="8.25"/><circle cx="474.8" cy="1388.9" r="8.25"/><circle cx="451.1" cy="1392.4" r="8.25"/><circle cx="461.8" cy="1398.4" r="8.25"/><circle cx="490.3" cy="1391.2" r="8.25"/><circle cx="501" cy="1388.9" r="8.25"/><circle cx="495.6" cy="1405.5" r="8.25"/><circle cx="504.5" cy="1410.8" r="8.25"/><circle cx="420.2" cy="1382.9" r="8.25"/><circle cx="403" cy="1391.2" r="8.25"/><circle cx="472.4" cy="1358.6" r="8.25"/><circle cx="504.5" cy="1336" r="8.25"/><circle cx="506.9" cy="1341.9" r="8.25"/><circle cx="490.3" cy="1328.9" r="8.25"/><circle cx="540.1" cy="1353.8" r="8.25"/><circle cx="256.8" cy="1277.8" r="8.25"/><circle cx="250.3" cy="1298.6" r="8.25"/><circle cx="253.8" cy="1289.7" r="8.25"/><circle cx="258.6" cy="1289.7" r="8.25"/><circle cx="241.7" cy="1312.6" r="8.25"/><circle cx="229.8" cy="1329.2" r="8.25"/><circle cx="256.8" cy="1323.5" r="8.25"/><circle cx="256.8" cy="1333.6" r="8.25"/><circle cx="350.6" cy="1355" r="8.25"/><circle cx="260.4" cy="1378.8" r="8.25"/><circle cx="242.5" cy="1391.2" r="8.25"/><circle cx="258.8" cy="1389.5" r="8.25"/><circle cx="233.4" cy="1418.6" r="8.25"/><circle cx="216.1" cy="1430.1" r="8.25"/><circle cx="244.3" cy="1434" r="8.25"/><circle cx="234.8" cy="1437.6" r="8.25"/><circle cx="260.7" cy="1443.5" r="8.25"/><circle cx="324.5" cy="1441.7" r="8.25"/><circle cx="354.8" cy="1437" r="8.25"/><circle cx="354.8" cy="1463.7" r="8.25"/><circle cx="167.6" cy="1460.8" r="8.25"/><circle cx="161.2" cy="1462.4" r="8.25"/><circle cx="164.1" cy="1476.9" r="8.25"/><circle cx="164.1" cy="1481.7" r="8.25"/><circle cx="164.1" cy="1484.9" r="8.25"/><circle cx="164.1" cy="1489.7" r="8.25"/><circle cx="164.1" cy="1492.9" r="8.25"/><circle cx="164.1" cy="1504.1" r="8.25"/><circle cx="164.1" cy="1507.3" r="8.25"/><circle cx="164.1" cy="1512.2" r="8.25"/><circle cx="164.1" cy="1517" r="8.25"/><circle cx="164.1" cy="1521.8" r="8.25"/><circle cx="167.6" cy="1526.6" r="8.25"/><circle cx="164.1" cy="1536.2" r="8.25"/><circle cx="164.1" cy="1539.4" r="8.25"/><circle cx="167.6" cy="1545.8" r="8.25"/><circle cx="164.1" cy="1555.4" r="8.25"/><circle cx="164.1" cy="1561.9" r="8.25"/><circle cx="164.1" cy="1568.3" r="8.25"/><circle cx="164.1" cy="1571.5" r="8.25"/><circle cx="214.9" cy="1460.8" r="8.25"/><circle cx="230.2" cy="1462.4" r="8.25"/><circle cx="239.8" cy="1463.2" r="8.25"/><circle cx="247.8" cy="1461.6" r="8.25"/><circle cx="256.6" cy="1464.1" r="8.25"/><circle cx="262.2" cy="1462.4" r="8.25"/><circle cx="186.9" cy="1482.5" r="8.25"/><circle cx="193.3" cy="1480.1" r="8.25"/><circle cx="209.3" cy="1479.3" r="8.25"/><circle cx="180.5" cy="1491.3" r="8.25"/><circle cx="194.1" cy="1488.1" r="8.25"/><circle cx="202.9" cy="1487.3" r="8.25"/><circle cx="218.9" cy="1485.7" r="8.25"/><circle cx="231" cy="1480.1" r="8.25"/><circle cx="254.2" cy="1476.9" r="8.25"/><circle cx="262.2" cy="1480.9" r="8.25"/><circle cx="271.9" cy="1480.9" r="8.25"/><circle cx="235.8" cy="1493.7" r="8.25"/><circle cx="259" cy="1489.7" r="8.25"/><circle cx="275.1" cy="1494.5" r="8.25"/><circle cx="197.3" cy="1497.7" r="8.25"/><circle cx="207.7" cy="1509.7" r="8.25"/><circle cx="218.9" cy="1506.5" r="8.25"/><circle cx="181.3" cy="1513.8" r="8.25"/><circle cx="192.5" cy="1521.8" r="8.25"/><circle cx="192.5" cy="1535.4" r="8.25"/><circle cx="236.6" cy="1517.8" r="8.25"/><circle cx="254.2" cy="1513.8" r="8.25"/><circle cx="253.4" cy="1522.6" r="8.25"/><circle cx="271.9" cy="1500.9" r="8.25"/><circle cx="275.1" cy="1510.5" r="8.25"/><circle cx="246.2" cy="1491.3" r="8.25"/><circle cx="233.4" cy="1504.1" r="8.25"/><circle cx="249.4" cy="1504.1" r="8.25"/><circle cx="262.2" cy="1508.9" r="8.25"/><circle cx="234.2" cy="1440.8" r="8.25"/><circle cx="245.4" cy="1440" r="8.25"/><circle cx="261.4" cy="1573.1" r="8.25"/><circle cx="356.8" cy="1441.6" r="8.25"/><circle cx="373.7" cy="1460.8" r="8.25"/><circle cx="396.9" cy="1460.8" r="8.25"/><circle cx="308.7" cy="1488.1" r="8.25"/><circle cx="325.6" cy="1481.7" r="8.25"/><circle cx="319.2" cy="1501.7" r="8.25"/><circle cx="340" cy="1498.5" r="8.25"/><circle cx="344" cy="1492.9" r="8.25"/><circle cx="352" cy="1493.7" r="8.25"/><circle cx="356.8" cy="1504.9" r="8.25"/><circle cx="366.5" cy="1487.3" r="8.25"/><circle cx="371.3" cy="1484.9" r="8.25"/><circle cx="391.3" cy="1479.3" r="8.25"/><circle cx="398.5" cy="1478.5" r="8.25"/><circle cx="412.9" cy="1478.5" r="8.25"/><circle cx="418.8" cy="1479.3" r="8.25"/><circle cx="432.4" cy="1479.3" r="8.25"/><circle cx="432.4" cy="1483.3" r="8.25"/><circle cx="439.7" cy="1493" r="8.25"/><circle cx="444.5" cy="1478.5" r="8.25"/><circle cx="451.7" cy="1460.9" r="8.25"/><circle cx="454.9" cy="1478.5" r="8.25"/><circle cx="456.5" cy="1463.3" r="8.25"/><circle cx="470.1" cy="1464.1" r="8.25"/><circle cx="462.9" cy="1497.8" r="8.25"/><circle cx="469.3" cy="1485.7" r="8.25"/><circle cx="475.7" cy="1480.9" r="8.25"/><circle cx="482.2" cy="1492.2" r="8.25"/><circle cx="487.8" cy="1492.2" r="8.25"/><circle cx="487.8" cy="1460.1" r="8.25"/><circle cx="491.8" cy="1480.1" r="8.25"/><circle cx="496.6" cy="1480.9" r="8.25"/><circle cx="513.4" cy="1480.1" r="8.25"/><circle cx="515" cy="1497.8" r="8.25"/><circle cx="523" cy="1487.3" r="8.25"/><circle cx="527.8" cy="1481.7" r="8.25"/><circle cx="539.1" cy="1480.1" r="8.25"/><circle cx="547.9" cy="1492.2" r="8.25"/><circle cx="566.3" cy="1505" r="8.25"/><circle cx="566.3" cy="1510.6" r="8.25"/><circle cx="592.8" cy="1480.1" r="8.25"/><circle cx="600.8" cy="1478.5" r="8.25"/><circle cx="613.6" cy="1489.7" r="8.25"/><circle cx="625.6" cy="1484.1" r="8.25"/><circle cx="627.3" cy="1464.1" r="8.25"/><circle cx="626.5" cy="1478.5" r="8.25"/><circle cx="645.7" cy="1477.7" r="8.25"/><circle cx="652.1" cy="1480.9" r="8.25"/><circle cx="646.5" cy="1484.9" r="8.25"/><circle cx="644.9" cy="1507.4" r="8.25"/><circle cx="650.5" cy="1506.6" r="8.25"/></g>
<text x="134.5" y="1177.5" font-size="31.5" text-anchor="end">100</text>
<text x="134.5" y="1391.6" font-size="31.5" text-anchor="end">10</text>
<text x="134.5" y="1503" font-size="31.5" text-anchor="end">1</text>
<text x="134.5" y="1529.1" font-size="31.5" text-anchor="end">0.1</text>
<text x="134.5" y="1555.3" font-size="31.5" text-anchor="end">0.01</text>
<text x="134.5" y="1582.1" font-size="31.5" text-anchor="end">0.001</text>
<text transform="translate(169.7 1616.5) rotate(-45)" font-size="31.5" text-anchor="end">0.001</text>
<text transform="translate(196.9 1616.5) rotate(-45)" font-size="31.5" text-anchor="end">0.01</text>
<text transform="translate(224.1 1616.5) rotate(-45)" font-size="31.5" text-anchor="end">0.1</text>
<text transform="translate(251.4 1616.5) rotate(-45)" font-size="31.5" text-anchor="end">1</text>
<text transform="translate(331.2 1609) rotate(-45)" font-size="31.5" text-anchor="end">10</text>
<text transform="translate(469.7 1609) rotate(-45)" font-size="31.5" text-anchor="end">100</text>
<text transform="translate(607.6 1609) rotate(-45)" font-size="31.5" text-anchor="end">1000</text>
<text transform="translate(37 1337.5) rotate(-90)" font-size="31.6" text-anchor="middle">Scores in leptin-closed peaks,</text>
<text transform="translate(74.8 1338) rotate(-90)" font-size="31.5" text-anchor="middle">-log<tspan font-size="21" dy="6">2</tspan><tspan dy="-6">(p-value)</tspan></text>
<text x="415.6" y="1693" font-size="31.7" text-anchor="middle">Scores in fasted-opened peaks,</text>
<text x="416.8" y="1732.4" font-size="31.5" text-anchor="middle">-log<tspan font-size="21" dy="6">2</tspan><tspan dy="-6">(p-value)</tspan></text>
<text x="409" y="1156.5" font-size="33">ANDR</text>
<text x="503.8" y="1130.3" font-size="33">PRGR</text>
<text x="578.2" y="1169" font-size="33">GCR</text>
<line x1="466.5" y1="1161.5" x2="498.1" y2="1181.1" stroke="#000" stroke-width="2"/>
<line x1="546.7" y1="1136.2" x2="525.5" y2="1176.8" stroke="#000" stroke-width="2"/>
<line x1="572.1" y1="1169.8" x2="543.8" y2="1187.3" stroke="#000" stroke-width="2"/>
<text transform="translate(746.5 1076) scale(1.2 1)" font-size="55">f</text>
<g fill="none" stroke-width="4.4">
<g stroke="#d580f8"><ellipse cx="922.7" cy="1416.5" rx="177.2" ry="74.6" transform="rotate(49.5 922.7 1416.5)"/><ellipse cx="1095.7" cy="1416.5" rx="177.2" ry="74.6" transform="rotate(-49.5 1095.7 1416.5)"/></g>
<g stroke="#8080ff"><ellipse cx="985" cy="1382.3" rx="177.2" ry="74.6" transform="rotate(49.5 985 1382.3)"/><ellipse cx="1033.4" cy="1382.3" rx="177.2" ry="74.6" transform="rotate(-49.5 1033.4 1382.3)"/></g>
</g>
<text x="746.3" y="1225.2" font-size="28">Fasted-</text>
<text x="746.3" y="1258" font-size="28">opened</text>
<text x="876.3" y="1173.6" font-size="28">Leptin-</text>
<text x="878" y="1206.3" font-size="28">closed</text>
<text x="1068.7" y="1173.6" font-size="28">Leptin-</text>
<text x="1064" y="1206.3" font-size="28">opened</text>
<text x="1192.3" y="1225.2" font-size="28">Fasted-</text>
<text x="1198" y="1258" font-size="28">closed</text>
<text x="940.5" y="1303.6" font-size="25.5" text-anchor="middle">2</text>
<text x="1074" y="1303.6" font-size="25.5" text-anchor="middle">14</text>
<text x="836.4" y="1349.6" font-size="25.5" text-anchor="middle" fill="#e41a1c">14</text>
<text x="903" y="1349.6" font-size="25.5" text-anchor="middle" fill="#e41a1c">4</text>
<text x="1008.5" y="1349.6" font-size="25.5" text-anchor="middle">3</text>
<text x="1110.4" y="1349.6" font-size="25.5" text-anchor="middle" fill="#e41a1c">16</text>
<text x="1181" y="1349.6" font-size="25.5" text-anchor="middle">13</text>
<text x="964.3" y="1421.9" font-size="25.5" text-anchor="middle">8</text>
<text x="1052.7" y="1421.9" font-size="25.5" text-anchor="middle">10</text>
<text x="1009.2" y="1471" font-size="25.5" text-anchor="middle">85</text>
<text x="940.5" y="1492" font-size="25.5" text-anchor="middle">27</text>
<text x="1073.4" y="1492" font-size="25.5" text-anchor="middle">1</text>
<text x="984" y="1508.4" font-size="25.5" text-anchor="middle">16</text>
<text x="1033.8" y="1508.4" font-size="25.5" text-anchor="middle">4</text>
<text x="1009.2" y="1540.2" font-size="25.5" text-anchor="middle">17</text>
<text x="1311" y="1076.2" font-size="55">g</text>
<rect x="1496.9" y="1052.2" width="337.4" height="22.8" fill="#000"/>
<line x1="1491.4" y1="1063.6" x2="1496.9" y2="1063.6" stroke="#000" stroke-width="2"/>
<text x="1480.3" y="1073.8" font-size="28" text-anchor="end">PRGR</text>
<rect x="1496.9" y="1086.1" width="282.6" height="22.8" fill="#000"/>
<line x1="1491.4" y1="1097.5" x2="1496.9" y2="1097.5" stroke="#000" stroke-width="2"/>
<text x="1480.3" y="1107.7" font-size="28" text-anchor="end">ANDR</text>
<rect x="1496.9" y="1120" width="99.3" height="22.8" fill="#000"/>
<line x1="1491.4" y1="1131.4" x2="1496.9" y2="1131.4" stroke="#000" stroke-width="2"/>
<text x="1480.3" y="1141.6" font-size="28" text-anchor="end">ESR1</text>
<rect x="1496.9" y="1153.9" width="15.9" height="22.8" fill="#000"/>
<line x1="1491.4" y1="1165.3" x2="1496.9" y2="1165.3" stroke="#000" stroke-width="2"/>
<text x="1480.3" y="1175.5" font-size="28" text-anchor="end">CREM</text>
<line x1="1496.9" y1="1041" x2="1496.9" y2="1189" stroke="#000" stroke-width="2.1"/>
<line x1="1496.9" y1="1188.1" x2="1872.6" y2="1188.1" stroke="#000" stroke-width="2.1"/>
<line x1="1496.9" y1="1188.1" x2="1496.9" y2="1193" stroke="#000" stroke-width="2.1"/>
<text x="1496.9" y="1221.4" font-size="25.8" text-anchor="middle">0</text>
<line x1="1590.6" y1="1188.1" x2="1590.6" y2="1193" stroke="#000" stroke-width="2.1"/>
<text x="1590.6" y="1221.4" font-size="25.8" text-anchor="middle">100</text>
<line x1="1684.3" y1="1188.1" x2="1684.3" y2="1193" stroke="#000" stroke-width="2.1"/>
<text x="1684.3" y="1221.4" font-size="25.8" text-anchor="middle">200</text>
<line x1="1778.1" y1="1188.1" x2="1778.1" y2="1193" stroke="#000" stroke-width="2.1"/>
<text x="1778.1" y="1221.4" font-size="25.8" text-anchor="middle">300</text>
<line x1="1871.8" y1="1188.1" x2="1871.8" y2="1193" stroke="#000" stroke-width="2.1"/>
<text x="1871.8" y="1221.4" font-size="25.8" text-anchor="middle">400</text>
<text x="1689.7" y="1253.5" font-size="30" text-anchor="middle">Fasted-opened, leptin-closed</text>
<text x="1689.7" y="1288.6" font-size="30" text-anchor="middle">summed motif score</text>
<text x="1311" y="1366.5" font-size="55">h</text>
<rect x="1495" y="1332.1" width="371" height="22.2" fill="#000"/>
<line x1="1489.5" y1="1343.2" x2="1495" y2="1343.2" stroke="#000" stroke-width="2"/>
<text x="1480" y="1353.4" font-size="28" text-anchor="end">MAFB</text>
<rect x="1495" y="1365.7" width="253.2" height="22.2" fill="#000"/>
<line x1="1489.5" y1="1376.8" x2="1495" y2="1376.8" stroke="#000" stroke-width="2"/>
<text x="1480" y="1387" font-size="28" text-anchor="end">MAFK</text>
<rect x="1495" y="1399.3" width="220.7" height="22.2" fill="#000"/>
<line x1="1489.5" y1="1410.4" x2="1495" y2="1410.4" stroke="#000" stroke-width="2"/>
<text x="1480" y="1420.6" font-size="28" text-anchor="end">MAFG</text>
<rect x="1495" y="1432.9" width="64.6" height="22.2" fill="#000"/>
<line x1="1489.5" y1="1444" x2="1495" y2="1444" stroke="#000" stroke-width="2"/>
<text x="1480" y="1454.2" font-size="28" text-anchor="end">SMAD4</text>
<rect x="1495" y="1466.5" width="63.1" height="22.2" fill="#000"/>
<line x1="1489.5" y1="1477.6" x2="1495" y2="1477.6" stroke="#000" stroke-width="2"/>
<text x="1480" y="1487.8" font-size="28" text-anchor="end">MITF</text>
<rect x="1495" y="1500.1" width="62.6" height="22.2" fill="#000"/>
<line x1="1489.5" y1="1511.2" x2="1495" y2="1511.2" stroke="#000" stroke-width="2"/>
<text x="1480" y="1521.4" font-size="28" text-anchor="end">HXA1</text>
<rect x="1495" y="1533.7" width="56.6" height="22.2" fill="#000"/>
<line x1="1489.5" y1="1544.8" x2="1495" y2="1544.8" stroke="#000" stroke-width="2"/>
<text x="1480" y="1555" font-size="28" text-anchor="end">RARG</text>
<rect x="1495" y="1567.3" width="43.4" height="22.2" fill="#000"/>
<line x1="1489.5" y1="1578.4" x2="1495" y2="1578.4" stroke="#000" stroke-width="2"/>
<text x="1480" y="1588.6" font-size="28" text-anchor="end">RORA</text>
<rect x="1495" y="1600.9" width="16.3" height="22.2" fill="#000"/>
<line x1="1489.5" y1="1612" x2="1495" y2="1612" stroke="#000" stroke-width="2"/>
<text x="1480" y="1622.2" font-size="28" text-anchor="end">ZKSC1</text>
<rect x="1495" y="1634.5" width="16" height="22.2" fill="#000"/>
<line x1="1489.5" y1="1645.6" x2="1495" y2="1645.6" stroke="#000" stroke-width="2"/>
<text x="1480" y="1655.8" font-size="28" text-anchor="end">TFE3</text>
<rect x="1495" y="1668.1" width="12.6" height="22.2" fill="#000"/>
<line x1="1489.5" y1="1679.2" x2="1495" y2="1679.2" stroke="#000" stroke-width="2"/>
<text x="1480" y="1689.4" font-size="28" text-anchor="end">TGIF1</text>
<rect x="1495" y="1701.7" width="12.2" height="22.2" fill="#000"/>
<line x1="1489.5" y1="1712.8" x2="1495" y2="1712.8" stroke="#000" stroke-width="2"/>
<text x="1480" y="1723" font-size="28" text-anchor="end">CLOCK</text>
<rect x="1495" y="1735.3" width="9.7" height="22.2" fill="#000"/>
<line x1="1489.5" y1="1746.4" x2="1495" y2="1746.4" stroke="#000" stroke-width="2"/>
<text x="1480" y="1756.6" font-size="28" text-anchor="end">NKX21</text>
<rect x="1495" y="1768.9" width="7.4" height="22.2" fill="#000"/>
<line x1="1489.5" y1="1780" x2="1495" y2="1780" stroke="#000" stroke-width="2"/>
<text x="1480" y="1790.2" font-size="28" text-anchor="end">NR1I3</text>
<line x1="1495" y1="1320.3" x2="1495" y2="1803.3" stroke="#000" stroke-width="2.1"/>
<line x1="1495" y1="1802.4" x2="1866.8" y2="1802.4" stroke="#000" stroke-width="2.1"/>
<line x1="1495" y1="1802.4" x2="1495" y2="1807.5" stroke="#000" stroke-width="2.1"/>
<text x="1495" y="1843" font-size="25.8" text-anchor="middle">0</text>
<line x1="1587.8" y1="1802.4" x2="1587.8" y2="1807.5" stroke="#000" stroke-width="2.1"/>
<text x="1587.8" y="1843" font-size="25.8" text-anchor="middle">100</text>
<line x1="1680.5" y1="1802.4" x2="1680.5" y2="1807.5" stroke="#000" stroke-width="2.1"/>
<text x="1680.5" y="1843" font-size="25.8" text-anchor="middle">200</text>
<line x1="1773.2" y1="1802.4" x2="1773.2" y2="1807.5" stroke="#000" stroke-width="2.1"/>
<text x="1773.2" y="1843" font-size="25.8" text-anchor="middle">300</text>
<line x1="1866" y1="1802.4" x2="1866" y2="1807.5" stroke="#000" stroke-width="2.1"/>
<text x="1866" y="1843" font-size="25.8" text-anchor="middle">400</text>
<text x="1690" y="1877" font-size="30" text-anchor="middle">Fasted-opened motif score</text>
<text x="10.5" y="1787.5" font-size="55">i</text>
<line x1="266.7" y1="1876" x2="266.7" y2="2340" stroke="#a4a4a4" stroke-width="1.8" stroke-dasharray="7.2 4.3"/>
<line x1="157" y1="2228.3" x2="652" y2="2228.3" stroke="#a4a4a4" stroke-width="1.8" stroke-dasharray="7.2 4.3"/>
<line x1="156.2" y1="1876.4" x2="156.2" y2="2236" stroke="#000" stroke-width="2"/>
<line x1="156.2" y1="2246" x2="156.2" y2="2340.5" stroke="#000" stroke-width="2"/>
<line x1="140" y1="2235.2" x2="171.6" y2="2235.2" stroke="#000" stroke-width="2"/>
<line x1="140" y1="2244.8" x2="171.6" y2="2244.8" stroke="#000" stroke-width="2"/>
<line x1="148" y1="2340.5" x2="253.6" y2="2340.5" stroke="#000" stroke-width="2"/>
<line x1="261.4" y1="2340.5" x2="654.4" y2="2340.5" stroke="#000" stroke-width="2"/>
<line x1="253.6" y1="2324.7" x2="253.6" y2="2356.3" stroke="#000" stroke-width="2"/>
<line x1="261.4" y1="2324.7" x2="261.4" y2="2356.3" stroke="#000" stroke-width="2"/>
<line x1="148" y1="1939.1" x2="156.2" y2="1939.1" stroke="#000" stroke-width="2"/>
<line x1="148" y1="2150.6" x2="156.2" y2="2150.6" stroke="#000" stroke-width="2"/>
<line x1="148" y1="2313.9" x2="156.2" y2="2313.9" stroke="#000" stroke-width="2"/>
<line x1="156.1" y1="2340.5" x2="156.1" y2="2349" stroke="#000" stroke-width="2"/>
<line x1="183.2" y1="2340.5" x2="183.2" y2="2349" stroke="#000" stroke-width="2"/>
<line x1="212" y1="2340.5" x2="212" y2="2349" stroke="#000" stroke-width="2"/>
<line x1="239" y1="2340.5" x2="239" y2="2349" stroke="#000" stroke-width="2"/>
<line x1="326.2" y1="2340.5" x2="326.2" y2="2349" stroke="#000" stroke-width="2"/>
<line x1="490.3" y1="2340.5" x2="490.3" y2="2349" stroke="#000" stroke-width="2"/>
<line x1="654.4" y1="2340.5" x2="654.4" y2="2349" stroke="#000" stroke-width="2"/>
<g fill="#fff" stroke="#000" stroke-width="1.3"><circle cx="451.8" cy="1891.4" r="8.25"/><circle cx="469.4" cy="1892" r="8.25"/><circle cx="464.8" cy="1906.4" r="8.25"/><circle cx="406.1" cy="1910.9" r="8.25"/><circle cx="438.7" cy="1909.6" r="8.25"/><circle cx="432.2" cy="1919.4" r="8.25"/><circle cx="383.2" cy="1926.6" r="8.25"/><circle cx="389.1" cy="1929.2" r="8.25"/><circle cx="404.8" cy="1926.6" r="8.25"/><circle cx="416.5" cy="1924.7" r="8.25"/><circle cx="438.7" cy="1928.6" r="8.25"/><circle cx="452.4" cy="1927.3" r="8.25"/><circle cx="439.4" cy="1936.4" r="8.25"/><circle cx="380.6" cy="1935.1" r="8.25"/><circle cx="391" cy="1940.3" r="8.25"/><circle cx="408" cy="1935.8" r="8.25"/><circle cx="398.9" cy="1947.5" r="8.25"/><circle cx="423" cy="1948.8" r="8.25"/><circle cx="430.2" cy="1953.4" r="8.25"/><circle cx="379.3" cy="1950.1" r="8.25"/><circle cx="371.4" cy="1950.1" r="8.25"/><circle cx="363.6" cy="1956.7" r="8.25"/><circle cx="361" cy="1963.2" r="8.25"/><circle cx="374.1" cy="1961.9" r="8.25"/><circle cx="358.4" cy="1967.1" r="8.25"/><circle cx="351.8" cy="1969.7" r="8.25"/><circle cx="350.5" cy="1975" r="8.25"/><circle cx="358.4" cy="1980.2" r="8.25"/><circle cx="366.2" cy="1977.6" r="8.25"/><circle cx="387.1" cy="1973.7" r="8.25"/><circle cx="393" cy="1968.4" r="8.25"/><circle cx="410.6" cy="1960.6" r="8.25"/><circle cx="423.7" cy="1965.8" r="8.25"/><circle cx="411.3" cy="1977.6" r="8.25"/><circle cx="423.7" cy="1976.9" r="8.25"/><circle cx="419.8" cy="1982.8" r="8.25"/><circle cx="381.2" cy="1986.7" r="8.25"/><circle cx="360.3" cy="1990.6" r="8.25"/><circle cx="344" cy="1998.5" r="8.25"/><circle cx="333.6" cy="1990.6" r="8.25"/><circle cx="336.2" cy="2005" r="8.25"/><circle cx="355.8" cy="1995.9" r="8.25"/><circle cx="364.9" cy="2005.7" r="8.25"/><circle cx="352.5" cy="2007" r="8.25"/><circle cx="337.5" cy="2011.5" r="8.25"/><circle cx="324.4" cy="2013.5" r="8.25"/><circle cx="325.1" cy="2024.6" r="8.25"/><circle cx="387.1" cy="2006.3" r="8.25"/><circle cx="402.8" cy="1994.6" r="8.25"/><circle cx="400.2" cy="2001.1" r="8.25"/><circle cx="432.8" cy="1992.6" r="8.25"/><circle cx="446.6" cy="1985.4" r="8.25"/><circle cx="430.9" cy="2010.2" r="8.25"/><circle cx="468.8" cy="1959.9" r="8.25"/><circle cx="477.9" cy="2013.5" r="8.25"/><circle cx="405.4" cy="2014.8" r="8.25"/><circle cx="394.3" cy="2015.5" r="8.25"/><circle cx="395.6" cy="2027.2" r="8.25"/><circle cx="376" cy="2021.3" r="8.25"/><circle cx="375.4" cy="2034.4" r="8.25"/><circle cx="337.5" cy="2037" r="8.25"/><circle cx="330.9" cy="2040.3" r="8.25"/><circle cx="413.2" cy="2045.5" r="8.25"/><circle cx="432.2" cy="2055.3" r="8.25"/><circle cx="310" cy="2057.3" r="8.25"/><circle cx="319.8" cy="2056.6" r="8.25"/><circle cx="354.5" cy="2059.9" r="8.25"/><circle cx="397.6" cy="1933.2" r="8.25"/><circle cx="405.4" cy="1941" r="8.25"/><circle cx="415.9" cy="1938.4" r="8.25"/><circle cx="371.4" cy="1938.4" r="8.25"/><circle cx="381.9" cy="1944.9" r="8.25"/><circle cx="402.8" cy="1954.1" r="8.25"/><circle cx="392.3" cy="1959.3" r="8.25"/><circle cx="381.9" cy="1967.1" r="8.25"/><circle cx="404.1" cy="1971" r="8.25"/><circle cx="415.9" cy="1968.4" r="8.25"/><circle cx="371.4" cy="1972.3" r="8.25"/><circle cx="395" cy="1981.5" r="8.25"/><circle cx="371.4" cy="1988" r="8.25"/><circle cx="389.7" cy="1988" r="8.25"/><circle cx="176.7" cy="1964.7" r="8.25"/><circle cx="248.7" cy="1925.6" r="8.25"/><circle cx="253.2" cy="1943.6" r="8.25"/><circle cx="241.7" cy="1949.4" r="8.25"/><circle cx="233.6" cy="1957.1" r="8.25"/><circle cx="264.4" cy="1966.4" r="8.25"/><circle cx="252.6" cy="1979.1" r="8.25"/><circle cx="265.6" cy="1988.2" r="8.25"/><circle cx="245.5" cy="2015.1" r="8.25"/><circle cx="249.4" cy="2020.5" r="8.25"/><circle cx="262.2" cy="2043.3" r="8.25"/><circle cx="265.4" cy="2056.4" r="8.25"/><circle cx="252.3" cy="2073.7" r="8.25"/><circle cx="267.7" cy="2078.8" r="8.25"/><circle cx="234.9" cy="2091.7" r="8.25"/><circle cx="252.3" cy="2091" r="8.25"/><circle cx="240.8" cy="2119.2" r="8.25"/><circle cx="245.5" cy="2125.6" r="8.25"/><circle cx="252.6" cy="2135.6" r="8.25"/><circle cx="252.3" cy="2161.5" r="8.25"/><circle cx="252.3" cy="2175.6" r="8.25"/><circle cx="344.9" cy="1989.7" r="8.25"/><circle cx="310.3" cy="2059.6" r="8.25"/><circle cx="311.5" cy="2082.7" r="8.25"/><circle cx="321.2" cy="2094.9" r="8.25"/><circle cx="330.1" cy="2146.2" r="8.25"/><circle cx="325" cy="2166" r="8.25"/><circle cx="348.1" cy="1974.4" r="8.25"/><circle cx="350" cy="2062.2" r="8.25"/><circle cx="188.2" cy="2229.1" r="8.25"/><circle cx="192.4" cy="2234.9" r="8.25"/><circle cx="179.1" cy="2245.7" r="8.25"/><circle cx="197.4" cy="2246.5" r="8.25"/><circle cx="170.8" cy="2248.2" r="8.25"/><circle cx="155.8" cy="2249.8" r="8.25"/><circle cx="159.1" cy="2258.2" r="8.25"/><circle cx="176.6" cy="2259.8" r="8.25"/><circle cx="168.3" cy="2264" r="8.25"/><circle cx="155" cy="2263.1" r="8.25"/><circle cx="179.1" cy="2269.8" r="8.25"/><circle cx="173.3" cy="2276.4" r="8.25"/><circle cx="156.6" cy="2280.6" r="8.25"/><circle cx="160" cy="2286.4" r="8.25"/><circle cx="156.6" cy="2294.7" r="8.25"/><circle cx="202.4" cy="2289.7" r="8.25"/><circle cx="228.1" cy="2309.7" r="8.25"/><circle cx="194.9" cy="2255.7" r="8.25"/><circle cx="206.5" cy="2267.3" r="8.25"/><circle cx="215.7" cy="2246.5" r="8.25"/><circle cx="209.8" cy="2258.2" r="8.25"/><circle cx="226.5" cy="2253.2" r="8.25"/><circle cx="238.1" cy="2252.3" r="8.25"/><circle cx="230.6" cy="2231.5" r="8.25"/><circle cx="239.8" cy="2231.5" r="8.25"/><circle cx="246.4" cy="2229.9" r="8.25"/><circle cx="254.7" cy="2229.1" r="8.25"/><circle cx="264.7" cy="2233.2" r="8.25"/><circle cx="278.8" cy="2231.5" r="8.25"/><circle cx="253.1" cy="2249.8" r="8.25"/><circle cx="265.5" cy="2249" r="8.25"/><circle cx="223.1" cy="2274.8" r="8.25"/><circle cx="229.8" cy="2281.4" r="8.25"/><circle cx="239.8" cy="2269.8" r="8.25"/><circle cx="246.4" cy="2263.1" r="8.25"/><circle cx="263" cy="2273.1" r="8.25"/><circle cx="263.9" cy="2284.8" r="8.25"/><circle cx="246.4" cy="2291.4" r="8.25"/><circle cx="254.7" cy="2281.4" r="8.25"/><circle cx="209.8" cy="2273.1" r="8.25"/><circle cx="219.8" cy="2264.8" r="8.25"/><circle cx="281.3" cy="2248.2" r="8.25"/><circle cx="288.8" cy="2256.5" r="8.25"/><circle cx="302.1" cy="2246.5" r="8.25"/><circle cx="312.1" cy="2233.2" r="8.25"/><circle cx="320.4" cy="2245.7" r="8.25"/><circle cx="311.3" cy="2251.5" r="8.25"/><circle cx="322.9" cy="2258.2" r="8.25"/><circle cx="337" cy="2232.4" r="8.25"/><circle cx="336.2" cy="2245.7" r="8.25"/><circle cx="347" cy="2249.8" r="8.25"/><circle cx="339.5" cy="2264.8" r="8.25"/><circle cx="347" cy="2261.5" r="8.25"/><circle cx="357.8" cy="2251.5" r="8.25"/><circle cx="367" cy="2231.5" r="8.25"/><circle cx="371.1" cy="2245.7" r="8.25"/><circle cx="381.9" cy="2247.3" r="8.25"/><circle cx="385.3" cy="2234" r="8.25"/><circle cx="371.1" cy="2273.1" r="8.25"/><circle cx="386.9" cy="2267.3" r="8.25"/><circle cx="400.2" cy="2248.2" r="8.25"/><circle cx="402.7" cy="2260.6" r="8.25"/><circle cx="364.5" cy="2268.1" r="8.25"/><circle cx="343.7" cy="2286.4" r="8.25"/><circle cx="419.3" cy="2245.7" r="8.25"/><circle cx="419.3" cy="2312.2" r="8.25"/><circle cx="331.2" cy="2188.3" r="8.25"/><circle cx="251.4" cy="2180.8" r="8.25"/><circle cx="191.5" cy="2340.5" r="8.25"/><circle cx="205.7" cy="2340.5" r="8.25"/><circle cx="209.8" cy="2340.5" r="8.25"/><circle cx="236.4" cy="2340.5" r="8.25"/><circle cx="423.3" cy="2245.7" r="8.25"/><circle cx="429.1" cy="2245.7" r="8.25"/><circle cx="429.9" cy="2251.5" r="8.25"/><circle cx="433.3" cy="2261.5" r="8.25"/><circle cx="446.6" cy="2262.3" r="8.25"/><circle cx="459" cy="2249.8" r="8.25"/><circle cx="468.2" cy="2256.5" r="8.25"/><circle cx="441.6" cy="2340.5" r="8.25"/><circle cx="445.7" cy="2340.5" r="8.25"/><circle cx="449.9" cy="2340.5" r="8.25"/><circle cx="453.2" cy="2340.5" r="8.25"/><circle cx="457.4" cy="2340.5" r="8.25"/><circle cx="462.4" cy="2340.5" r="8.25"/><circle cx="526.4" cy="1961" r="8.25"/><circle cx="548" cy="1964.3" r="8.25"/><circle cx="560.5" cy="1970.5" r="8.25"/><circle cx="528.1" cy="2002.1" r="8.25"/><circle cx="423.3" cy="1946.4" r="8.25"/><circle cx="324.9" cy="2030" r="8.25"/><circle cx="396" cy="2031.1" r="8.25"/><circle cx="354.3" cy="2062.1" r="8.25"/><circle cx="383.9" cy="2072.2" r="8.25"/><circle cx="368.9" cy="2106.4" r="8.25"/><circle cx="381" cy="2103.7" r="8.25"/><circle cx="357.8" cy="2162.3" r="8.25"/></g>
<text x="126.5" y="1950" font-size="31.5" text-anchor="end">100</text>
<text x="126.5" y="2161.5" font-size="31.5" text-anchor="end">10</text>
<text x="126.5" y="2269" font-size="31.5" text-anchor="end">1</text>
<text x="126.5" y="2296" font-size="31.5" text-anchor="end">0.1</text>
<text x="126.5" y="2324" font-size="31.5" text-anchor="end">0.01</text>
<text x="126.5" y="2351" font-size="31.5" text-anchor="end">0.001</text>
<text transform="translate(161.6 2385.5) rotate(-45)" font-size="31.5" text-anchor="end">0.001</text>
<text transform="translate(188.7 2385.5) rotate(-45)" font-size="31.5" text-anchor="end">0.01</text>
<text transform="translate(217.5 2385.5) rotate(-45)" font-size="31.5" text-anchor="end">0.1</text>
<text transform="translate(244.5 2385.5) rotate(-45)" font-size="31.5" text-anchor="end">1</text>
<text transform="translate(332.2 2377.5) rotate(-45)" font-size="31.5" text-anchor="end">10</text>
<text transform="translate(496.3 2377.5) rotate(-45)" font-size="31.5" text-anchor="end">100</text>
<text transform="translate(660.4 2377.5) rotate(-45)" font-size="31.5" text-anchor="end">1000</text>
<text transform="translate(33.5 2107.5) rotate(-90)" font-size="31.3" text-anchor="middle">Scores in fasted-closed peaks,</text>
<text transform="translate(71.5 2107) rotate(-90)" font-size="31.5" text-anchor="middle">-log<tspan font-size="21" dy="6">2</tspan><tspan dy="-6">(p-value)</tspan></text>
<text x="89" y="2479.5" font-size="31">Scores in leptin-opened peaks, -log<tspan font-size="21" dy="6">2</tspan><tspan dy="-6">(p-value)</tspan></text>
<text x="431.5" y="1851.6" font-size="33">IRF3</text>
<text x="516.6" y="1868.6" font-size="33">ETS2</text>
<text x="498" y="1907.3" font-size="33">STAT2</text>
<text x="486.7" y="1940" font-size="33">STAT1</text>
<text x="592" y="1962.2" font-size="33">STAT4</text>
<text x="588.1" y="2006.2" font-size="33">STAT3</text>
<text x="578.2" y="2050.3" font-size="33">STA5A</text>
<text x="547.1" y="2081.9" font-size="33">STA5B</text>
<text x="437.3" y="2131.8" font-size="33">BCL6</text>
<text x="532.6" y="2124.3" font-size="33">ETV6</text>
<line x1="450.8" y1="1853.3" x2="450.8" y2="1877.9" stroke="#000" stroke-width="2"/>
<line x1="512.3" y1="1862.4" x2="480.2" y2="1884.8" stroke="#000" stroke-width="2"/>
<line x1="496.5" y1="1894" x2="477.9" y2="1904" stroke="#000" stroke-width="2"/>
<line x1="465.2" y1="1926.9" x2="483.2" y2="1927.7" stroke="#000" stroke-width="2"/>
<line x1="588.3" y1="1950.2" x2="557.7" y2="1956.7" stroke="#000" stroke-width="2"/>
<line x1="587.1" y1="1984.6" x2="572.1" y2="1975.5" stroke="#000" stroke-width="2"/>
<line x1="580.5" y1="2023.7" x2="534.4" y2="1969.7" stroke="#000" stroke-width="2"/>
<line x1="553" y1="2054.5" x2="532.2" y2="2013.7" stroke="#000" stroke-width="2"/>
<line x1="480.2" y1="2102.7" x2="478.2" y2="2027" stroke="#000" stroke-width="2"/>
<line x1="538.9" y1="2096" x2="474.9" y2="1973" stroke="#000" stroke-width="2"/>
<text x="756" y="1787.5" font-size="55">j</text>
<rect x="893.3" y="1819" width="313.7" height="23.5" fill="#000"/>
<line x1="887.8" y1="1830.7" x2="893.3" y2="1830.7" stroke="#000" stroke-width="2"/>
<text x="876.7" y="1840.9" font-size="28" text-anchor="end">STAT3</text>
<rect x="893.3" y="1853.9" width="225.3" height="23.5" fill="#000"/>
<line x1="887.8" y1="1865.7" x2="893.3" y2="1865.7" stroke="#000" stroke-width="2"/>
<text x="876.7" y="1875.9" font-size="28" text-anchor="end">ETS2</text>
<rect x="893.3" y="1888.9" width="211.6" height="23.5" fill="#000"/>
<line x1="887.8" y1="1900.7" x2="893.3" y2="1900.7" stroke="#000" stroke-width="2"/>
<text x="876.7" y="1910.9" font-size="28" text-anchor="end">IRF3</text>
<rect x="893.3" y="1923.9" width="205.1" height="23.5" fill="#000"/>
<line x1="887.8" y1="1935.6" x2="893.3" y2="1935.6" stroke="#000" stroke-width="2"/>
<text x="876.7" y="1945.8" font-size="28" text-anchor="end">STA5A</text>
<rect x="893.3" y="1958.9" width="99.3" height="23.5" fill="#000"/>
<line x1="887.8" y1="1970.6" x2="893.3" y2="1970.6" stroke="#000" stroke-width="2"/>
<text x="876.7" y="1980.8" font-size="28" text-anchor="end">ELF3</text>
<rect x="893.3" y="1993.8" width="93.2" height="23.5" fill="#000"/>
<line x1="887.8" y1="2005.6" x2="893.3" y2="2005.6" stroke="#000" stroke-width="2"/>
<text x="876.7" y="2015.8" font-size="28" text-anchor="end">SUH</text>
<rect x="893.3" y="2028.8" width="69.2" height="23.5" fill="#000"/>
<line x1="887.8" y1="2040.6" x2="893.3" y2="2040.6" stroke="#000" stroke-width="2"/>
<text x="876.7" y="2050.8" font-size="28" text-anchor="end">NFAC2</text>
<rect x="893.3" y="2063.8" width="65.2" height="23.5" fill="#000"/>
<line x1="887.8" y1="2075.6" x2="893.3" y2="2075.6" stroke="#000" stroke-width="2"/>
<text x="876.7" y="2085.8" font-size="28" text-anchor="end">NFAC4</text>
<rect x="893.3" y="2098.8" width="60.7" height="23.5" fill="#000"/>
<line x1="887.8" y1="2110.5" x2="893.3" y2="2110.5" stroke="#000" stroke-width="2"/>
<text x="876.7" y="2120.7" font-size="28" text-anchor="end">NFAC3</text>
<rect x="893.3" y="2133.8" width="50.4" height="23.5" fill="#000"/>
<line x1="887.8" y1="2145.5" x2="893.3" y2="2145.5" stroke="#000" stroke-width="2"/>
<text x="876.7" y="2155.7" font-size="28" text-anchor="end">CEBPB</text>
<rect x="893.3" y="2168.8" width="41.2" height="23.5" fill="#000"/>
<line x1="887.8" y1="2180.5" x2="893.3" y2="2180.5" stroke="#000" stroke-width="2"/>
<text x="876.7" y="2190.7" font-size="28" text-anchor="end">RUNX2</text>
<rect x="893.3" y="2203.7" width="35.7" height="23.5" fill="#000"/>
<line x1="887.8" y1="2215.5" x2="893.3" y2="2215.5" stroke="#000" stroke-width="2"/>
<text x="876.7" y="2225.7" font-size="28" text-anchor="end">ZFP42</text>
<rect x="893.3" y="2238.7" width="32.7" height="23.5" fill="#000"/>
<line x1="887.8" y1="2250.5" x2="893.3" y2="2250.5" stroke="#000" stroke-width="2"/>
<text x="876.7" y="2260.7" font-size="28" text-anchor="end">SMCA5</text>
<rect x="893.3" y="2273.7" width="32.4" height="23.5" fill="#000"/>
<line x1="887.8" y1="2285.4" x2="893.3" y2="2285.4" stroke="#000" stroke-width="2"/>
<text x="876.7" y="2295.6" font-size="28" text-anchor="end">REL</text>
<rect x="893.3" y="2308.7" width="27.6" height="23.5" fill="#000"/>
<line x1="887.8" y1="2320.4" x2="893.3" y2="2320.4" stroke="#000" stroke-width="2"/>
<text x="876.7" y="2330.6" font-size="28" text-anchor="end">RUNX1</text>
<rect x="893.3" y="2343.7" width="26.5" height="23.5" fill="#000"/>
<line x1="887.8" y1="2355.4" x2="893.3" y2="2355.4" stroke="#000" stroke-width="2"/>
<text x="876.7" y="2365.6" font-size="28" text-anchor="end">PITX1</text>
<line x1="893.3" y1="1807" x2="893.3" y2="2379.5" stroke="#000" stroke-width="2.1"/>
<line x1="893.3" y1="2378.6" x2="1265.2" y2="2378.6" stroke="#000" stroke-width="2.1"/>
<line x1="893.3" y1="2378.6" x2="893.3" y2="2384" stroke="#000" stroke-width="2.1"/>
<text x="893.3" y="2419" font-size="25.8" text-anchor="middle">0</text>
<line x1="986.1" y1="2378.6" x2="986.1" y2="2384" stroke="#000" stroke-width="2.1"/>
<text x="986.1" y="2419" font-size="25.8" text-anchor="middle">100</text>
<line x1="1078.9" y1="2378.6" x2="1078.9" y2="2384" stroke="#000" stroke-width="2.1"/>
<text x="1078.9" y="2419" font-size="25.8" text-anchor="middle">200</text>
<line x1="1171.7" y1="2378.6" x2="1171.7" y2="2384" stroke="#000" stroke-width="2.1"/>
<text x="1171.7" y="2419" font-size="25.8" text-anchor="middle">300</text>
<line x1="1264.5" y1="2378.6" x2="1264.5" y2="2384" stroke="#000" stroke-width="2.1"/>
<text x="1264.5" y="2419" font-size="25.8" text-anchor="middle">400</text>
<text x="1075.6" y="2461.4" font-size="30" text-anchor="middle">Leptin-opened, fasted-closed,</text>
<text x="1075.6" y="2490.9" font-size="30" text-anchor="middle">summed motif score</text>
<text x="1313" y="1881.8" font-size="55">k</text>
<text x="1365.8" y="1943.1" font-size="24.8">Prgr</text>
<line x1="1358" y1="1954.2" x2="1417.5" y2="1954.2" stroke="#d580f8" stroke-width="5.8"/>
<text x="1504.3" y="1943.1" font-size="24.8">Mafb</text>
<line x1="1499.5" y1="1954.2" x2="1563" y2="1954.2" stroke="#6a2c91" stroke-width="5.8"/>
<text x="1661.3" y="1943.1" font-size="24.8">Stat3</text>
<line x1="1657.6" y1="1954.2" x2="1720.4" y2="1954.2" stroke="#2e3a8c" stroke-width="5.8"/>
<text x="1829" y="1943.1" font-size="24.8">Irf3</text>
<line x1="1815.3" y1="1954.2" x2="1875.5" y2="1954.2" stroke="#8080ff" stroke-width="5.8"/>
<path d="M1618.5 2179.6L1651.6 2212.8L1618.5 2246L1585.4 2212.8ZM1618.5 2145.4L1684.8 2212.8L1618.5 2280.2L1552.2 2212.8ZM1618.5 2113.4L1719 2212.8L1618.5 2312.2L1518 2212.8ZM1618.5 2079.2L1751 2212.8L1618.5 2346.4L1486 2212.8ZM1618.5 2048.2L1786.3 2212.8L1618.5 2377.4L1450.7 2212.8Z" fill="none" stroke="#3a3a3a" stroke-width="1.4"/>
<text x="1478" y="2047.4" font-size="24" text-anchor="end">512</text>
<text x="1478" y="2079.4" font-size="24" text-anchor="end">128</text>
<text x="1478" y="2113.2" font-size="24" text-anchor="end">32</text>
<text x="1478" y="2145.4" font-size="24" text-anchor="end">8</text>
<text x="1478" y="2179.2" font-size="24" text-anchor="end">2</text>
<text x="1478" y="2211.5" font-size="24" text-anchor="end">0.5</text>
<path d="M1618.5 2050.3L1639.9 2212.8L1618.5 2264.1L1568.2 2212.8Z" fill="none" stroke="#6a2c91" stroke-width="5.6" stroke-linejoin="round"/>
<path d="M1618.5 2062.1L1669.8 2212.8L1618.5 2252.3L1495.6 2212.8Z" fill="none" stroke="#d580f8" stroke-width="5.6" stroke-linejoin="round"/>
<path d="M1618.5 2162.5L1769.2 2212.8L1618.5 2332.6L1615.2 2212.8Z" fill="none" stroke="#2e3a8c" stroke-width="5.6" stroke-linejoin="round"/>
<path d="M1618.5 2208.5L1733.7 2212.8L1618.5 2351.6L1564.9 2212.8Z" fill="none" stroke="#8080ff" stroke-width="5.6" stroke-linejoin="round"/>
<text x="1612" y="2004.8" font-size="28" text-anchor="middle">Fasted-</text>
<text x="1612" y="2038" font-size="28" text-anchor="middle">opened</text>
<text x="1385.7" y="2201.7" font-size="28" text-anchor="middle">Leptin-</text>
<text x="1385.7" y="2235" font-size="28" text-anchor="middle">closed</text>
<text x="1839.3" y="2201.7" font-size="28" text-anchor="middle">Leptin-</text>
<text x="1839.3" y="2235" font-size="28" text-anchor="middle">opened</text>
<text x="1619.5" y="2412.3" font-size="28" text-anchor="middle">Fasted-</text>
<text x="1619.5" y="2445.5" font-size="28" text-anchor="middle">closed</text>
</svg>
</body></html>
